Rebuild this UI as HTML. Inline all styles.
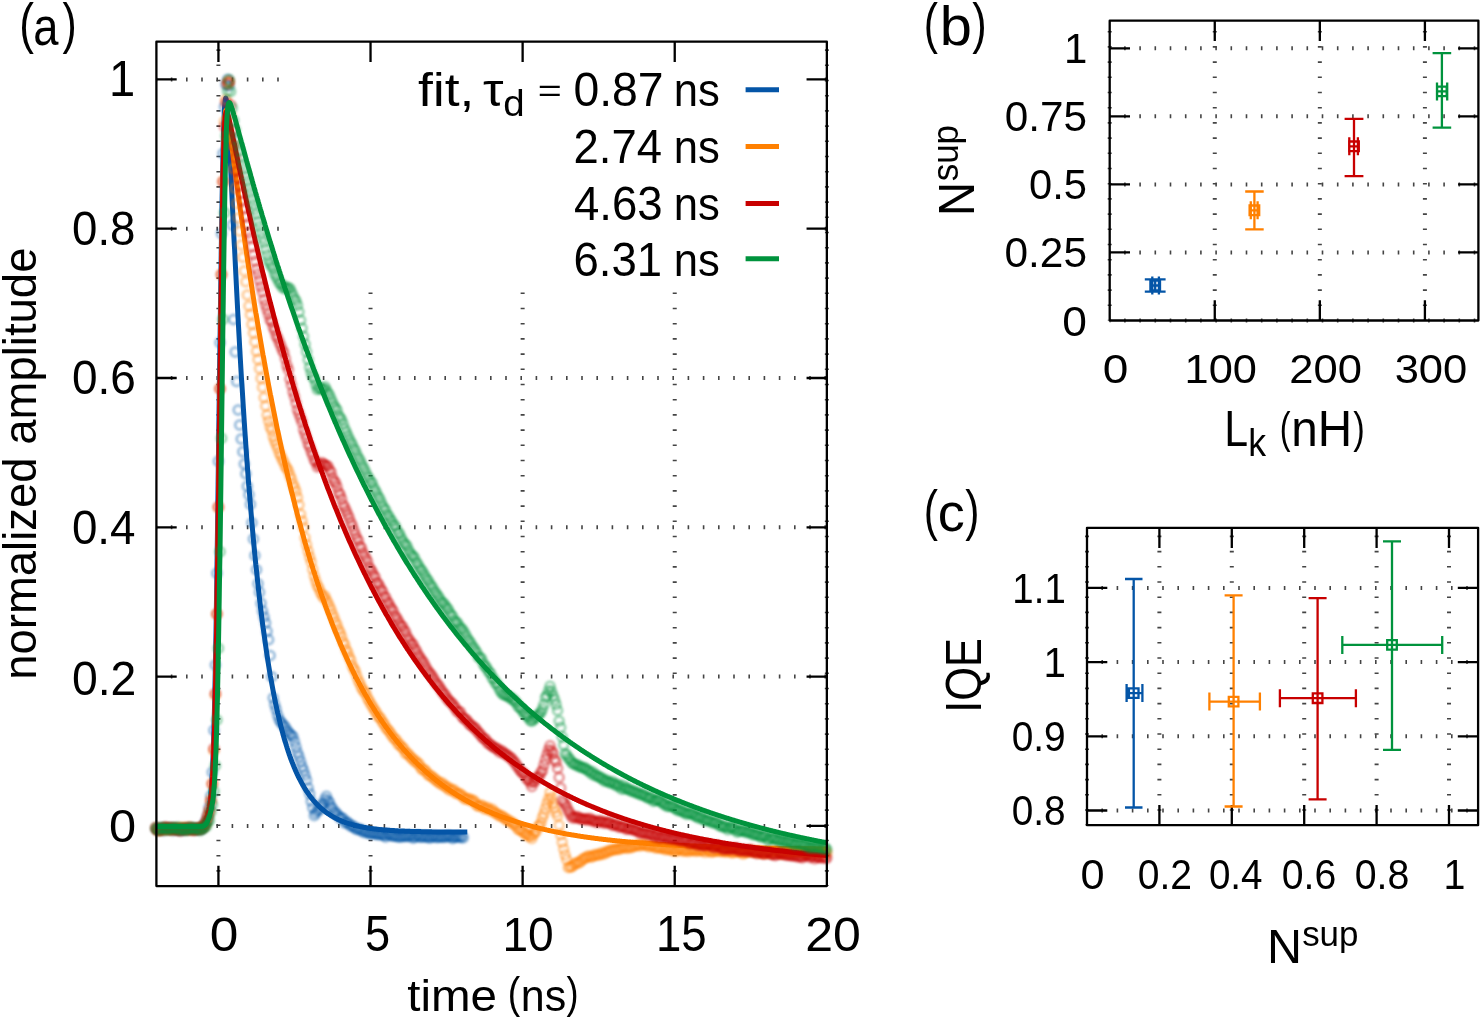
<!DOCTYPE html><html><head><meta charset="utf-8"><style>html,body{margin:0;padding:0;background:#fff}svg{display:block;will-change:transform}</style></head><body><svg width="1482" height="1022" viewBox="0 0 1482 1022">
<style>text{font-family:"Liberation Sans",sans-serif;fill:#000;font-kerning:none}.fr{fill:none;stroke:#000;stroke-width:2.3;stroke-linejoin:round}.tk{fill:none;stroke:#000;stroke-width:2.3}.gh{stroke:#444;stroke-width:4;stroke-dasharray:1.6 13.6;fill:none}.gv{stroke:#444;stroke-width:4;stroke-dasharray:1.6 13.6;fill:none}</style>
<rect width="1482" height="1022" fill="#fff"/>
<line x1="156.4" y1="825.9" x2="826.85" y2="825.9" class="gh" stroke-dashoffset="0.8"/>
<line x1="156.4" y1="676.6" x2="826.85" y2="676.6" class="gh" stroke-dashoffset="0.8"/>
<line x1="156.4" y1="527.3" x2="826.85" y2="527.3" class="gh" stroke-dashoffset="0.8"/>
<line x1="156.4" y1="378" x2="826.85" y2="378" class="gh" stroke-dashoffset="0.8"/>
<line x1="156.4" y1="228.7" x2="826.85" y2="228.7" class="gh" stroke-dashoffset="0.8"/>
<line x1="156.4" y1="79.4" x2="826.85" y2="79.4" class="gh" stroke-dashoffset="0.8"/>
<line x1="218.43" y1="886.1" x2="218.43" y2="41.7" class="gv" stroke-dashoffset="0.8"/>
<line x1="370.53" y1="886.1" x2="370.53" y2="41.7" class="gv" stroke-dashoffset="0.8"/>
<line x1="522.63" y1="886.1" x2="522.63" y2="41.7" class="gv" stroke-dashoffset="0.8"/>
<line x1="674.73" y1="886.1" x2="674.73" y2="41.7" class="gv" stroke-dashoffset="0.8"/>
<line x1="826.83" y1="886.1" x2="826.83" y2="41.7" class="gv" stroke-dashoffset="0.8"/>
<rect x="286" y="41.7" width="538.65" height="244.3" fill="#fff"/>
<path d="M218.43 886.1v-20.3M218.43 41.7v20.3" class="tk"/>
<path d="M370.53 886.1v-20.3M370.53 41.7v20.3" class="tk"/>
<path d="M522.63 886.1v-20.3M522.63 41.7v20.3" class="tk"/>
<path d="M674.73 886.1v-20.3M674.73 41.7v20.3" class="tk"/>
<path d="M156.4 825.9h20.3M826.85 825.9h-20.3" class="tk"/>
<path d="M156.4 676.6h20.3M826.85 676.6h-20.3" class="tk"/>
<path d="M156.4 527.3h20.3M826.85 527.3h-20.3" class="tk"/>
<path d="M156.4 378h20.3M826.85 378h-20.3" class="tk"/>
<path d="M156.4 228.7h20.3M826.85 228.7h-20.3" class="tk"/>
<path d="M156.4 79.4h20.3M826.85 79.4h-20.3" class="tk"/>
<defs><filter id="bl" x="-5%" y="-5%" width="110%" height="110%"><feGaussianBlur stdDeviation="0.8"/></filter></defs>
<g fill="none" stroke="#0455a7" stroke-opacity="0.36" stroke-width="3" filter="url(#bl)">
<circle cx="156.1" cy="827.7" r="4.5"/><circle cx="157.6" cy="829.3" r="4.5"/><circle cx="159.1" cy="829.3" r="4.5"/><circle cx="160.6" cy="829.7" r="4.5"/><circle cx="162.2" cy="828.2" r="4.5"/><circle cx="163.7" cy="830.6" r="4.5"/><circle cx="165.2" cy="827.6" r="4.5"/><circle cx="166.7" cy="829.5" r="4.5"/><circle cx="168.2" cy="828.6" r="4.5"/><circle cx="169.8" cy="829.1" r="4.5"/><circle cx="171.3" cy="827.8" r="4.5"/><circle cx="172.8" cy="830.4" r="4.5"/><circle cx="174.3" cy="829.1" r="4.5"/><circle cx="175.8" cy="829.2" r="4.5"/><circle cx="177.4" cy="828.0" r="4.5"/><circle cx="178.9" cy="829.7" r="4.5"/><circle cx="180.4" cy="829.0" r="4.5"/><circle cx="181.9" cy="829.5" r="4.5"/><circle cx="183.4" cy="828.9" r="4.5"/><circle cx="185.0" cy="828.5" r="4.5"/><circle cx="186.5" cy="829.7" r="4.5"/><circle cx="188.0" cy="828.0" r="4.5"/><circle cx="189.5" cy="828.2" r="4.5"/><circle cx="191.1" cy="828.5" r="4.5"/><circle cx="192.6" cy="828.2" r="4.5"/><circle cx="194.1" cy="829.4" r="4.5"/><circle cx="195.6" cy="829.0" r="4.5"/><circle cx="197.1" cy="829.6" r="4.5"/><circle cx="198.7" cy="829.0" r="4.5"/><circle cx="200.2" cy="828.2" r="4.5"/><circle cx="201.7" cy="828.4" r="4.5"/><circle cx="203.2" cy="826.6" r="4.5"/><circle cx="204.7" cy="824.1" r="4.5"/><circle cx="206.3" cy="820.4" r="4.5"/><circle cx="207.8" cy="815.0" r="4.5"/><circle cx="209.3" cy="807.2" r="4.5"/><circle cx="210.8" cy="795.9" r="4.5"/><circle cx="212.3" cy="772.2" r="4.5"/><circle cx="213.9" cy="730.2" r="4.5"/><circle cx="215.4" cy="665.0" r="4.5"/><circle cx="216.9" cy="573.3" r="4.5"/><circle cx="218.4" cy="461.2" r="4.5"/><circle cx="220.0" cy="342.8" r="4.5"/><circle cx="221.5" cy="233.6" r="4.5"/><circle cx="223.0" cy="153.5" r="4.5"/><circle cx="224.5" cy="106.9" r="4.5"/><circle cx="226.0" cy="84.5" r="4.5"/><circle cx="227.6" cy="79.4" r="4.5"/><circle cx="229.1" cy="85.8" r="4.5"/><circle cx="230.6" cy="138.0" r="4.5"/><circle cx="232.1" cy="225.1" r="4.5"/><circle cx="233.6" cy="319.6" r="4.5"/><circle cx="235.2" cy="351.9" r="4.5"/><circle cx="236.7" cy="381.4" r="4.5"/><circle cx="238.2" cy="410.0" r="4.5"/><circle cx="239.7" cy="425.0" r="4.5"/><circle cx="241.2" cy="439.0" r="4.5"/><circle cx="242.8" cy="451.8" r="4.5"/><circle cx="244.3" cy="463.9" r="4.5"/><circle cx="245.8" cy="473.8" r="4.5"/><circle cx="247.3" cy="486.2" r="4.5"/><circle cx="248.9" cy="494.7" r="4.5"/><circle cx="250.4" cy="504.2" r="4.5"/><circle cx="251.9" cy="522.7" r="4.5"/><circle cx="253.4" cy="539.0" r="4.5"/><circle cx="254.9" cy="555.5" r="4.5"/><circle cx="256.5" cy="569.7" r="4.5"/><circle cx="258.0" cy="583.7" r="4.5"/><circle cx="259.5" cy="592.2" r="4.5"/><circle cx="261.0" cy="603.2" r="4.5"/><circle cx="262.5" cy="610.9" r="4.5"/><circle cx="264.1" cy="617.1" r="4.5"/><circle cx="265.6" cy="622.9" r="4.5"/><circle cx="267.1" cy="631.2" r="4.5"/><circle cx="268.6" cy="639.8" r="4.5"/><circle cx="270.1" cy="655.4" r="4.5"/><circle cx="271.7" cy="676.8" r="4.5"/><circle cx="273.2" cy="698.1" r="4.5"/><circle cx="274.7" cy="704.4" r="4.5"/><circle cx="276.2" cy="709.4" r="4.5"/><circle cx="277.7" cy="715.2" r="4.5"/><circle cx="279.3" cy="719.8" r="4.5"/><circle cx="280.8" cy="721.9" r="4.5"/><circle cx="282.3" cy="723.8" r="4.5"/><circle cx="283.8" cy="725.8" r="4.5"/><circle cx="285.4" cy="727.3" r="4.5"/><circle cx="286.9" cy="730.5" r="4.5"/><circle cx="288.4" cy="732.0" r="4.5"/><circle cx="289.9" cy="734.2" r="4.5"/><circle cx="291.4" cy="735.3" r="4.5"/><circle cx="293.0" cy="736.8" r="4.5"/><circle cx="294.5" cy="741.4" r="4.5"/><circle cx="296.0" cy="747.1" r="4.5"/><circle cx="297.5" cy="752.4" r="4.5"/><circle cx="299.0" cy="756.5" r="4.5"/><circle cx="300.6" cy="761.5" r="4.5"/><circle cx="302.1" cy="766.4" r="4.5"/><circle cx="303.6" cy="770.5" r="4.5"/><circle cx="305.1" cy="775.3" r="4.5"/><circle cx="306.6" cy="780.3" r="4.5"/><circle cx="308.2" cy="788.1" r="4.5"/><circle cx="309.7" cy="793.8" r="4.5"/><circle cx="311.2" cy="801.2" r="4.5"/><circle cx="312.7" cy="807.8" r="4.5"/><circle cx="314.3" cy="815.6" r="4.5"/><circle cx="315.8" cy="813.0" r="4.5"/><circle cx="317.3" cy="810.8" r="4.5"/><circle cx="318.8" cy="810.2" r="4.5"/><circle cx="320.3" cy="807.8" r="4.5"/><circle cx="321.9" cy="805.0" r="4.5"/><circle cx="323.4" cy="803.4" r="4.5"/><circle cx="324.9" cy="799.4" r="4.5"/><circle cx="326.4" cy="796.2" r="4.5"/><circle cx="327.9" cy="800.5" r="4.5"/><circle cx="329.5" cy="802.6" r="4.5"/><circle cx="331.0" cy="806.7" r="4.5"/><circle cx="332.5" cy="808.6" r="4.5"/><circle cx="334.0" cy="812.6" r="4.5"/><circle cx="335.5" cy="812.1" r="4.5"/><circle cx="337.1" cy="814.2" r="4.5"/><circle cx="338.6" cy="816.0" r="4.5"/><circle cx="340.1" cy="818.0" r="4.5"/><circle cx="341.6" cy="817.8" r="4.5"/><circle cx="343.2" cy="818.7" r="4.5"/><circle cx="344.7" cy="822.9" r="4.5"/><circle cx="346.2" cy="821.8" r="4.5"/><circle cx="347.7" cy="822.4" r="4.5"/><circle cx="349.2" cy="824.3" r="4.5"/><circle cx="350.8" cy="826.3" r="4.5"/><circle cx="352.3" cy="825.5" r="4.5"/><circle cx="353.8" cy="827.1" r="4.5"/><circle cx="355.3" cy="828.2" r="4.5"/><circle cx="356.8" cy="829.4" r="4.5"/><circle cx="358.4" cy="828.8" r="4.5"/><circle cx="359.9" cy="829.2" r="4.5"/><circle cx="361.4" cy="830.9" r="4.5"/><circle cx="362.9" cy="830.6" r="4.5"/><circle cx="364.4" cy="832.4" r="4.5"/><circle cx="366.0" cy="831.5" r="4.5"/><circle cx="367.5" cy="832.6" r="4.5"/><circle cx="369.0" cy="833.3" r="4.5"/><circle cx="370.5" cy="833.7" r="4.5"/><circle cx="372.1" cy="833.2" r="4.5"/><circle cx="373.6" cy="833.5" r="4.5"/><circle cx="375.1" cy="833.8" r="4.5"/><circle cx="376.6" cy="834.3" r="4.5"/><circle cx="378.1" cy="834.5" r="4.5"/><circle cx="379.7" cy="834.3" r="4.5"/><circle cx="381.2" cy="834.7" r="4.5"/><circle cx="382.7" cy="834.5" r="4.5"/><circle cx="384.2" cy="835.4" r="4.5"/><circle cx="385.7" cy="837.1" r="4.5"/><circle cx="387.3" cy="834.6" r="4.5"/><circle cx="388.8" cy="833.9" r="4.5"/><circle cx="390.3" cy="835.3" r="4.5"/><circle cx="391.8" cy="835.8" r="4.5"/><circle cx="393.3" cy="835.9" r="4.5"/><circle cx="394.9" cy="836.0" r="4.5"/><circle cx="396.4" cy="836.0" r="4.5"/><circle cx="397.9" cy="836.9" r="4.5"/><circle cx="399.4" cy="836.5" r="4.5"/><circle cx="401.0" cy="837.0" r="4.5"/><circle cx="402.5" cy="836.1" r="4.5"/><circle cx="404.0" cy="836.6" r="4.5"/><circle cx="405.5" cy="836.0" r="4.5"/><circle cx="407.0" cy="836.6" r="4.5"/><circle cx="408.6" cy="835.8" r="4.5"/><circle cx="410.1" cy="836.4" r="4.5"/><circle cx="411.6" cy="835.0" r="4.5"/><circle cx="413.1" cy="838.1" r="4.5"/><circle cx="414.6" cy="837.2" r="4.5"/><circle cx="416.2" cy="836.1" r="4.5"/><circle cx="417.7" cy="834.9" r="4.5"/><circle cx="419.2" cy="837.0" r="4.5"/><circle cx="420.7" cy="836.8" r="4.5"/><circle cx="422.2" cy="837.1" r="4.5"/><circle cx="423.8" cy="835.9" r="4.5"/><circle cx="425.3" cy="837.2" r="4.5"/><circle cx="426.8" cy="836.5" r="4.5"/><circle cx="428.3" cy="837.3" r="4.5"/><circle cx="429.8" cy="838.0" r="4.5"/><circle cx="431.4" cy="836.8" r="4.5"/><circle cx="432.9" cy="836.7" r="4.5"/><circle cx="434.4" cy="836.1" r="4.5"/><circle cx="435.9" cy="837.2" r="4.5"/><circle cx="437.5" cy="837.6" r="4.5"/><circle cx="439.0" cy="836.7" r="4.5"/><circle cx="440.5" cy="837.0" r="4.5"/><circle cx="442.0" cy="837.0" r="4.5"/><circle cx="443.5" cy="837.3" r="4.5"/><circle cx="445.1" cy="836.4" r="4.5"/><circle cx="446.6" cy="837.0" r="4.5"/><circle cx="448.1" cy="835.8" r="4.5"/><circle cx="449.6" cy="836.4" r="4.5"/><circle cx="451.1" cy="836.8" r="4.5"/><circle cx="452.7" cy="838.5" r="4.5"/><circle cx="454.2" cy="836.9" r="4.5"/><circle cx="455.7" cy="837.0" r="4.5"/><circle cx="457.2" cy="836.7" r="4.5"/><circle cx="458.7" cy="836.5" r="4.5"/><circle cx="460.3" cy="837.6" r="4.5"/><circle cx="461.8" cy="836.7" r="4.5"/><circle cx="463.3" cy="837.8" r="4.5"/>
</g>
<path d="M156.1 826.6 156.4 826.6 156.7 826.6 157.0 826.6 157.3 826.6 157.6 826.6 157.9 826.6 158.2 826.6 158.5 826.6 158.8 826.6 159.1 826.6 159.4 826.6 159.7 826.6 160.0 826.6 160.3 826.6 160.6 826.6 160.9 826.6 161.2 826.6 161.5 826.6 161.8 826.6 162.2 826.6 162.5 826.6 162.8 826.6 163.1 826.6 163.4 826.6 163.7 826.6 164.0 826.6 164.3 826.6 164.6 826.6 164.9 826.6 165.2 826.6 165.5 826.6 165.8 826.6 166.1 826.6 166.4 826.6 166.7 826.6 167.0 826.6 167.3 826.6 167.6 826.6 167.9 826.6 168.2 826.6 168.5 826.6 168.8 826.6 169.1 826.6 169.5 826.6 169.8 826.6 170.1 826.6 170.4 826.6 170.7 826.6 171.0 826.6 171.3 826.6 171.6 826.6 171.9 826.6 172.2 826.6 172.5 826.6 172.8 826.6 173.1 826.6 173.4 826.6 173.7 826.6 174.0 826.6 174.3 826.6 174.6 826.6 174.9 826.6 175.2 826.6 175.5 826.6 175.8 826.6 176.1 826.6 176.5 826.6 176.8 826.6 177.1 826.6 177.4 826.6 177.7 826.6 178.0 826.6 178.3 826.6 178.6 826.6 178.9 826.6 179.2 826.6 179.5 826.6 179.8 826.6 180.1 826.6 180.4 826.6 180.7 826.6 181.0 826.6 181.3 826.6 181.6 826.6 181.9 826.6 182.2 826.6 182.5 826.6 182.8 826.6 183.1 826.6 183.4 826.6 183.8 826.6 184.1 826.6 184.4 826.6 184.7 826.6 185.0 826.6 185.3 826.6 185.6 826.6 185.9 826.6 186.2 826.6 186.5 826.6 186.8 826.6 187.1 826.6 187.4 826.6 187.7 826.6 188.0 826.6 188.3 826.6 188.6 826.6 188.9 826.6 189.2 826.6 189.5 826.6 189.8 826.6 190.1 826.6 190.4 826.6 190.7 826.6 191.1 826.6 191.4 826.6 191.7 826.6 192.0 826.6 192.3 826.6 192.6 826.6 192.9 826.6 193.2 826.6 193.5 826.6 193.8 826.6 194.1 826.6 194.4 826.6 194.7 826.6 195.0 826.6 195.3 826.6 195.6 826.6 195.9 826.6 196.2 826.6 196.5 826.6 196.8 826.6 197.1 826.6 197.4 826.6 197.7 826.6 198.0 826.6 198.4 826.6 198.7 826.6 199.0 826.5 199.3 826.5 199.6 826.4 199.9 826.4 200.2 826.3 200.5 826.2 200.8 826.1 201.1 826.0 201.4 825.8 201.7 825.6 202.0 825.4 202.3 825.1 202.6 824.8 202.9 824.5 203.2 824.1 203.5 823.6 203.8 823.2 204.1 822.6 204.4 822.0 204.7 821.4 205.0 820.7 205.3 820.0 205.7 819.2 206.0 818.4 206.3 817.5 206.6 816.6 206.9 815.7 207.2 814.7 207.5 813.6 207.8 812.5 208.1 811.3 208.4 810.1 208.7 808.7 209.0 807.2 209.3 805.5 209.6 803.7 209.9 801.7 210.2 799.3 210.5 796.7 210.8 793.7 211.1 790.3 211.4 786.4 211.7 782.0 212.0 777.0 212.3 771.3 212.7 764.9 213.0 757.6 213.3 749.6 213.6 740.6 213.9 730.6 214.2 719.6 214.5 707.6 214.8 694.5 215.1 680.3 215.4 665.0 215.7 648.6 216.0 631.2 216.3 612.7 216.6 593.2 216.9 572.9 217.2 551.6 217.5 529.7 217.8 507.1 218.1 484.0 218.4 460.6 218.7 436.9 219.0 413.0 219.3 389.2 219.6 365.5 220.0 342.2 220.3 319.3 220.6 297.0 220.9 275.4 221.2 254.7 221.5 234.8 221.8 216.1 222.1 198.5 222.4 182.2 222.7 167.2 223.0 153.6 223.3 141.6 223.6 131.0 223.9 122.0 224.2 114.4 224.5 108.4 224.8 103.9 225.1 100.7 225.4 98.8 225.7 98.0 226.0 98.4 226.3 99.6 226.6 101.7 226.9 104.5 227.3 107.9 227.6 111.9 227.9 116.3 228.2 121.1 228.5 126.2 228.8 131.6 229.1 137.1 229.4 142.9 229.7 148.8 230.0 154.9 230.3 161.0 230.6 167.2 230.9 173.4 231.2 179.8 231.5 186.1 231.8 192.4 232.1 198.8 232.4 205.2 232.7 211.5 233.0 217.9 233.3 224.2 233.6 230.5 233.9 236.8 234.2 243.0 234.6 249.2 234.9 255.4 235.2 261.5 235.5 267.6 235.8 273.7 236.1 279.7 236.4 285.6 236.7 291.5 237.0 297.4 237.3 303.2 237.6 308.9 237.9 314.7 238.2 320.3 238.5 325.9 238.8 331.5 239.1 336.9 239.4 342.4 239.7 347.8 240.0 353.1 240.3 358.4 240.6 363.6 240.9 368.8 241.2 373.9 241.5 379.0 241.9 384.0 242.2 389.0 242.5 393.9 242.8 398.7 243.1 403.6 243.4 408.3 243.7 413.0 244.0 417.7 244.3 422.3 244.6 426.8 244.9 431.4 245.2 435.8 245.5 440.2 245.8 444.6 246.1 448.9 246.4 453.2 246.7 457.4 247.0 461.6 247.3 465.7 247.6 469.8 247.9 473.8 248.2 477.8 248.5 481.8 248.8 485.7 249.2 489.6 249.5 493.4 249.8 497.2 250.1 500.9 250.4 504.6 250.7 508.3 251.0 511.9 251.3 515.4 251.6 519.0 251.9 522.5 252.2 525.9 252.5 529.4 252.8 532.7 253.1 536.1 253.4 539.4 253.7 542.7 254.0 545.9 254.3 549.1 254.6 552.3 254.9 555.4 255.2 558.5 255.5 561.5 255.8 564.6 256.2 567.6 256.5 570.5 256.8 573.4 257.1 576.3 257.4 579.2 257.7 582.0 258.0 584.8 258.3 587.6 258.6 590.3 258.9 593.0 259.2 595.7 259.5 598.3 259.8 601.0 260.1 603.5 260.4 606.1 260.7 608.6 261.0 611.1 261.3 613.6 261.6 616.0 261.9 618.5 262.2 620.9 262.5 623.2 262.8 625.6 263.1 627.9 263.5 630.2 263.8 632.4 264.1 634.6 264.4 636.9 264.7 639.0 265.0 641.2 265.3 643.3 265.6 645.5 265.9 647.5 266.2 649.6 266.5 651.6 266.8 653.7 267.1 655.7 267.4 657.6 267.7 659.6 268.0 661.5 268.3 663.4 268.6 665.3 268.9 667.2 269.2 669.0 269.5 670.9 269.8 672.7 270.1 674.4 270.4 676.2 270.8 678.0 271.1 679.7 271.4 681.4 271.7 683.1 272.0 684.7 272.3 686.4 272.6 688.0 272.9 689.6 273.2 691.2 273.5 692.8 273.8 694.4 274.1 695.9 274.4 697.4 274.7 698.9 275.0 700.4 275.3 701.9 275.6 703.4 275.9 704.8 276.2 706.2 276.5 707.6 276.8 709.0 277.1 710.4 277.4 711.8 277.7 713.1 278.1 714.5 278.4 715.8 278.7 717.1 279.0 718.4 279.3 719.6 279.6 720.9 279.9 722.1 280.2 723.4 280.5 724.6 280.8 725.8 281.1 727.0 281.4 728.2 281.7 729.3 282.0 730.5 282.3 731.6 282.6 732.7 282.9 733.9 283.2 735.0 283.5 736.0 283.8 737.1 284.1 738.2 284.4 739.2 284.7 740.3 285.0 741.3 285.4 742.3 285.7 743.3 286.0 744.3 286.3 745.3 286.6 746.3 286.9 747.2 287.2 748.2 287.5 749.1 287.8 750.1 288.1 751.0 288.4 751.9 288.7 752.8 289.0 753.7 289.3 754.6 289.6 755.4 289.9 756.3 290.2 757.1 290.5 758.0 290.8 758.8 291.1 759.6 291.4 760.4 291.7 761.2 292.0 762.0 292.4 762.8 292.7 763.6 293.0 764.4 293.3 765.1 293.6 765.9 293.9 766.6 294.2 767.4 294.5 768.1 294.8 768.8 295.1 769.5 295.4 770.2 295.7 770.9 296.0 771.6 296.3 772.3 296.6 772.9 296.9 773.6 297.2 774.3 297.5 774.9 297.8 775.5 298.1 776.2 298.4 776.8 298.7 777.4 299.0 778.0 299.3 778.6 299.7 779.2 300.0 779.8 300.3 780.4 300.6 781.0 300.9 781.6 301.2 782.1 301.5 782.7 301.8 783.3 302.1 783.8 302.4 784.4 302.7 784.9 303.0 785.4 303.3 785.9 303.6 786.5 303.9 787.0 304.2 787.5 304.5 788.0 304.8 788.5 305.1 789.0 305.4 789.4 305.7 789.9 306.0 790.4 306.3 790.9 306.6 791.3 307.0 791.8 307.3 792.2 307.6 792.7 307.9 793.1 308.2 793.6 308.5 794.0 308.8 794.4 309.1 794.9 309.4 795.3 309.7 795.7 310.0 796.1 310.3 796.5 310.6 796.9 310.9 797.3 311.2 797.7 311.5 798.1 311.8 798.5 312.1 798.8 312.4 799.2 312.7 799.6 313.0 799.9 313.3 800.3 313.6 800.7 313.9 801.0 314.3 801.4 314.6 801.7 314.9 802.0 315.2 802.4 315.5 802.7 315.8 803.1 316.1 803.4 316.4 803.7 316.7 804.0 317.0 804.3 317.3 804.6 317.6 805.0 317.9 805.3 318.2 805.6 318.5 805.9 318.8 806.2 319.1 806.4 319.4 806.7 319.7 807.0 320.0 807.3 320.3 807.6 320.6 807.9 320.9 808.1 321.2 808.4 321.6 808.7 321.9 808.9 322.2 809.2 322.5 809.5 322.8 809.7 323.1 810.0 323.4 810.2 323.7 810.5 324.0 810.7 324.3 810.9 324.6 811.2 324.9 811.4 325.2 811.6 325.5 811.9 325.8 812.1 326.1 812.3 326.4 812.6 326.7 812.8 327.0 813.0 327.3 813.2 327.6 813.4 327.9 813.6 328.2 813.8 328.6 814.0 328.9 814.2 329.2 814.4 329.5 814.6 329.8 814.8 330.1 815.0 330.4 815.2 330.7 815.4 331.0 815.6 331.3 815.8 331.6 816.0 331.9 816.2 332.2 816.3 332.5 816.5 332.8 816.7 333.1 816.9 333.4 817.0 333.7 817.2 334.0 817.4 334.3 817.5 334.6 817.7 334.9 817.9 335.2 818.0 335.5 818.2 335.9 818.4 336.2 818.5 336.5 818.7 336.8 818.8 337.1 819.0 337.4 819.1 337.7 819.3 338.0 819.4 338.3 819.5 338.6 819.7 338.9 819.8 339.2 820.0 339.5 820.1 339.8 820.2 340.1 820.4 340.4 820.5 340.7 820.6 341.0 820.8 341.3 820.9 341.6 821.0 341.9 821.2 342.2 821.3 342.5 821.4 342.8 821.5 343.2 821.6 343.5 821.8 343.8 821.9 344.1 822.0 344.4 822.1 344.7 822.2 345.0 822.3 345.3 822.4 345.6 822.6 345.9 822.7 346.2 822.8 346.5 822.9 346.8 823.0 347.1 823.1 347.4 823.2 347.7 823.3 348.0 823.4 348.3 823.5 348.6 823.6 348.9 823.7 349.2 823.8 349.5 823.9 349.8 824.0 350.1 824.1 350.5 824.1 350.8 824.2 351.1 824.3 351.4 824.4 351.7 824.5 352.0 824.6 352.3 824.7 352.6 824.8 352.9 824.8 353.2 824.9 353.5 825.0 353.8 825.1 354.1 825.2 354.4 825.3 354.7 825.3 355.0 825.4 355.3 825.5 355.6 825.6 355.9 825.6 356.2 825.7 356.5 825.8 356.8 825.9 357.1 825.9 357.4 826.0 357.8 826.1 358.1 826.1 358.4 826.2 358.7 826.3 359.0 826.3 359.3 826.4 359.6 826.5 359.9 826.5 360.2 826.6 360.5 826.7 360.8 826.7 361.1 826.8 361.4 826.8 361.7 826.9 362.0 827.0 362.3 827.0 362.6 827.1 362.9 827.1 363.2 827.2 363.5 827.3 363.8 827.3 364.1 827.4 364.4 827.4 364.8 827.5 365.1 827.5 365.4 827.6 365.7 827.6 366.0 827.7 366.3 827.7 366.6 827.8 366.9 827.8 367.2 827.9 367.5 827.9 367.8 828.0 368.1 828.0 368.4 828.1 368.7 828.1 369.0 828.2 369.3 828.2 369.6 828.3 369.9 828.3 370.2 828.4 370.5 828.4 370.8 828.4 371.1 828.5 371.4 828.5 371.7 828.6 372.1 828.6 372.4 828.6 372.7 828.7 373.0 828.7 373.3 828.8 373.6 828.8 373.9 828.8 374.2 828.9 374.5 828.9 374.8 829.0 375.1 829.0 375.4 829.0 375.7 829.1 376.0 829.1 376.3 829.1 376.6 829.2 376.9 829.2 377.2 829.2 377.5 829.3 377.8 829.3 378.1 829.3 378.4 829.4 378.7 829.4 379.0 829.4 379.4 829.5 379.7 829.5 380.0 829.5 380.3 829.6 380.6 829.6 380.9 829.6 381.2 829.6 381.5 829.7 381.8 829.7 382.1 829.7 382.4 829.8 382.7 829.8 383.0 829.8 383.3 829.8 383.6 829.9 383.9 829.9 384.2 829.9 384.5 830.0 384.8 830.0 385.1 830.0 385.4 830.0 385.7 830.1 386.0 830.1 386.3 830.1 386.7 830.1 387.0 830.1 387.3 830.2 387.6 830.2 387.9 830.2 388.2 830.2 388.5 830.3 388.8 830.3 389.1 830.3 389.4 830.3 389.7 830.4 390.0 830.4 390.3 830.4 390.6 830.4 390.9 830.4 391.2 830.5 391.5 830.5 391.8 830.5 392.1 830.5 392.4 830.5 392.7 830.6 393.0 830.6 393.3 830.6 393.6 830.6 394.0 830.6 394.3 830.6 394.6 830.7 394.9 830.7 395.2 830.7 395.5 830.7 395.8 830.7 396.1 830.8 396.4 830.8 396.7 830.8 397.0 830.8 397.3 830.8 397.6 830.8 397.9 830.8 398.2 830.9 398.5 830.9 398.8 830.9 399.1 830.9 399.4 830.9 399.7 830.9 400.0 831.0 400.3 831.0 400.6 831.0 400.9 831.0 401.3 831.0 401.6 831.0 401.9 831.0 402.2 831.1 402.5 831.1 402.8 831.1 403.1 831.1 403.4 831.1 403.7 831.1 404.0 831.1 404.3 831.1 404.6 831.2 404.9 831.2 405.2 831.2 405.5 831.2 405.8 831.2 406.1 831.2 406.4 831.2 406.7 831.2 407.0 831.3 407.3 831.3 407.6 831.3 407.9 831.3 408.3 831.3 408.6 831.3 408.9 831.3 409.2 831.3 409.5 831.3 409.8 831.3 410.1 831.4 410.4 831.4 410.7 831.4 411.0 831.4 411.3 831.4 411.6 831.4 411.9 831.4 412.2 831.4 412.5 831.4 412.8 831.4 413.1 831.5 413.4 831.5 413.7 831.5 414.0 831.5 414.3 831.5 414.6 831.5 414.9 831.5 415.2 831.5 415.6 831.5 415.9 831.5 416.2 831.5 416.5 831.5 416.8 831.6 417.1 831.6 417.4 831.6 417.7 831.6 418.0 831.6 418.3 831.6 418.6 831.6 418.9 831.6 419.2 831.6 419.5 831.6 419.8 831.6 420.1 831.6 420.4 831.6 420.7 831.6 421.0 831.7 421.3 831.7 421.6 831.7 421.9 831.7 422.2 831.7 422.5 831.7 422.9 831.7 423.2 831.7 423.5 831.7 423.8 831.7 424.1 831.7 424.4 831.7 424.7 831.7 425.0 831.7 425.3 831.7 425.6 831.7 425.9 831.8 426.2 831.8 426.5 831.8 426.8 831.8 427.1 831.8 427.4 831.8 427.7 831.8 428.0 831.8 428.3 831.8 428.6 831.8 428.9 831.8 429.2 831.8 429.5 831.8 429.8 831.8 430.2 831.8 430.5 831.8 430.8 831.8 431.1 831.8 431.4 831.8 431.7 831.8 432.0 831.9 432.3 831.9 432.6 831.9 432.9 831.9 433.2 831.9 433.5 831.9 433.8 831.9 434.1 831.9 434.4 831.9 434.7 831.9 435.0 831.9 435.3 831.9 435.6 831.9 435.9 831.9 436.2 831.9 436.5 831.9 436.8 831.9 437.1 831.9 437.5 831.9 437.8 831.9 438.1 831.9 438.4 831.9 438.7 831.9 439.0 831.9 439.3 831.9 439.6 831.9 439.9 832.0 440.2 832.0 440.5 832.0 440.8 832.0 441.1 832.0 441.4 832.0 441.7 832.0 442.0 832.0 442.3 832.0 442.6 832.0 442.9 832.0 443.2 832.0 443.5 832.0 443.8 832.0 444.1 832.0 444.5 832.0 444.8 832.0 445.1 832.0 445.4 832.0 445.7 832.0 446.0 832.0 446.3 832.0 446.6 832.0 446.9 832.0 447.2 832.0 447.5 832.0 447.8 832.0 448.1 832.0 448.4 832.0 448.7 832.0 449.0 832.0 449.3 832.0 449.6 832.0 449.9 832.0 450.2 832.0 450.5 832.0 450.8 832.1 451.1 832.1 451.4 832.1 451.8 832.1 452.1 832.1 452.4 832.1 452.7 832.1 453.0 832.1 453.3 832.1 453.6 832.1 453.9 832.1 454.2 832.1 454.5 832.1 454.8 832.1 455.1 832.1 455.4 832.1 455.7 832.1 456.0 832.1 456.3 832.1 456.6 832.1 456.9 832.1 457.2 832.1 457.5 832.1 457.8 832.1 458.1 832.1 458.4 832.1 458.7 832.1 459.1 832.1 459.4 832.1 459.7 832.1 460.0 832.1 460.3 832.1 460.6 832.1 460.9 832.1 461.2 832.1 461.5 832.1 461.8 832.1 462.1 832.1 462.4 832.1 462.7 832.1 463.0 832.1 463.3 832.1 463.6 832.1 463.9 832.1 464.2 832.1 464.5 832.1 464.8 832.1 465.1 832.1 465.4 832.1 465.7 832.1 466.0 832.1 466.4 832.1 466.7 832.1 467.0 832.1 467.3 832.1" fill="none" stroke="#0455a7" stroke-width="5.0" stroke-linejoin="round"/>
<g fill="none" stroke="#ff8000" stroke-opacity="0.36" stroke-width="3" filter="url(#bl)">
<circle cx="156.1" cy="827.4" r="4.5"/><circle cx="157.6" cy="829.9" r="4.5"/><circle cx="159.1" cy="830.2" r="4.5"/><circle cx="160.6" cy="830.1" r="4.5"/><circle cx="162.2" cy="829.6" r="4.5"/><circle cx="163.7" cy="829.7" r="4.5"/><circle cx="165.2" cy="827.4" r="4.5"/><circle cx="166.7" cy="829.1" r="4.5"/><circle cx="168.2" cy="829.9" r="4.5"/><circle cx="169.8" cy="828.1" r="4.5"/><circle cx="171.3" cy="829.3" r="4.5"/><circle cx="172.8" cy="829.8" r="4.5"/><circle cx="174.3" cy="828.2" r="4.5"/><circle cx="175.8" cy="828.4" r="4.5"/><circle cx="177.4" cy="829.2" r="4.5"/><circle cx="178.9" cy="827.8" r="4.5"/><circle cx="180.4" cy="828.8" r="4.5"/><circle cx="181.9" cy="827.7" r="4.5"/><circle cx="183.4" cy="828.5" r="4.5"/><circle cx="185.0" cy="827.7" r="4.5"/><circle cx="186.5" cy="828.8" r="4.5"/><circle cx="188.0" cy="829.8" r="4.5"/><circle cx="189.5" cy="827.1" r="4.5"/><circle cx="191.1" cy="829.3" r="4.5"/><circle cx="192.6" cy="829.0" r="4.5"/><circle cx="194.1" cy="829.4" r="4.5"/><circle cx="195.6" cy="829.0" r="4.5"/><circle cx="197.1" cy="828.7" r="4.5"/><circle cx="198.7" cy="828.7" r="4.5"/><circle cx="200.2" cy="828.2" r="4.5"/><circle cx="201.7" cy="826.9" r="4.5"/><circle cx="203.2" cy="827.2" r="4.5"/><circle cx="204.7" cy="825.8" r="4.5"/><circle cx="206.3" cy="822.3" r="4.5"/><circle cx="207.8" cy="817.1" r="4.5"/><circle cx="209.3" cy="811.6" r="4.5"/><circle cx="210.8" cy="800.1" r="4.5"/><circle cx="212.3" cy="783.5" r="4.5"/><circle cx="213.9" cy="750.6" r="4.5"/><circle cx="215.4" cy="695.1" r="4.5"/><circle cx="216.9" cy="614.0" r="4.5"/><circle cx="218.4" cy="507.8" r="4.5"/><circle cx="220.0" cy="388.6" r="4.5"/><circle cx="221.5" cy="274.6" r="4.5"/><circle cx="223.0" cy="181.3" r="4.5"/><circle cx="224.5" cy="121.6" r="4.5"/><circle cx="226.0" cy="99.7" r="4.5"/><circle cx="227.6" cy="81.9" r="4.5"/><circle cx="229.1" cy="82.5" r="4.5"/><circle cx="230.6" cy="114.5" r="4.5"/><circle cx="232.1" cy="144.5" r="4.5"/><circle cx="233.6" cy="168.8" r="4.5"/><circle cx="235.2" cy="188.2" r="4.5"/><circle cx="236.7" cy="203.6" r="4.5"/><circle cx="238.2" cy="218.0" r="4.5"/><circle cx="239.7" cy="231.2" r="4.5"/><circle cx="241.2" cy="245.0" r="4.5"/><circle cx="242.8" cy="257.2" r="4.5"/><circle cx="244.3" cy="271.1" r="4.5"/><circle cx="245.8" cy="281.8" r="4.5"/><circle cx="247.3" cy="295.0" r="4.5"/><circle cx="248.9" cy="306.1" r="4.5"/><circle cx="250.4" cy="314.5" r="4.5"/><circle cx="251.9" cy="324.2" r="4.5"/><circle cx="253.4" cy="333.1" r="4.5"/><circle cx="254.9" cy="341.8" r="4.5"/><circle cx="256.5" cy="351.3" r="4.5"/><circle cx="258.0" cy="359.6" r="4.5"/><circle cx="259.5" cy="368.4" r="4.5"/><circle cx="261.0" cy="378.2" r="4.5"/><circle cx="262.5" cy="387.2" r="4.5"/><circle cx="264.1" cy="397.4" r="4.5"/><circle cx="265.6" cy="406.1" r="4.5"/><circle cx="267.1" cy="415.1" r="4.5"/><circle cx="268.6" cy="420.9" r="4.5"/><circle cx="270.1" cy="426.8" r="4.5"/><circle cx="271.7" cy="430.3" r="4.5"/><circle cx="273.2" cy="436.5" r="4.5"/><circle cx="274.7" cy="440.7" r="4.5"/><circle cx="276.2" cy="444.6" r="4.5"/><circle cx="277.7" cy="448.2" r="4.5"/><circle cx="279.3" cy="452.9" r="4.5"/><circle cx="280.8" cy="456.1" r="4.5"/><circle cx="282.3" cy="459.4" r="4.5"/><circle cx="283.8" cy="462.3" r="4.5"/><circle cx="285.4" cy="466.3" r="4.5"/><circle cx="286.9" cy="468.2" r="4.5"/><circle cx="288.4" cy="471.1" r="4.5"/><circle cx="289.9" cy="475.3" r="4.5"/><circle cx="291.4" cy="479.1" r="4.5"/><circle cx="293.0" cy="484.0" r="4.5"/><circle cx="294.5" cy="487.5" r="4.5"/><circle cx="296.0" cy="491.5" r="4.5"/><circle cx="297.5" cy="497.4" r="4.5"/><circle cx="299.0" cy="505.1" r="4.5"/><circle cx="300.6" cy="514.3" r="4.5"/><circle cx="302.1" cy="520.9" r="4.5"/><circle cx="303.6" cy="527.5" r="4.5"/><circle cx="305.1" cy="537.8" r="4.5"/><circle cx="306.6" cy="544.8" r="4.5"/><circle cx="308.2" cy="551.2" r="4.5"/><circle cx="309.7" cy="557.1" r="4.5"/><circle cx="311.2" cy="561.9" r="4.5"/><circle cx="312.7" cy="569.3" r="4.5"/><circle cx="314.3" cy="575.9" r="4.5"/><circle cx="315.8" cy="580.9" r="4.5"/><circle cx="317.3" cy="585.5" r="4.5"/><circle cx="318.8" cy="587.9" r="4.5"/><circle cx="320.3" cy="592.0" r="4.5"/><circle cx="321.9" cy="594.7" r="4.5"/><circle cx="323.4" cy="597.5" r="4.5"/><circle cx="324.9" cy="595.9" r="4.5"/><circle cx="326.4" cy="599.9" r="4.5"/><circle cx="327.9" cy="603.1" r="4.5"/><circle cx="329.5" cy="606.6" r="4.5"/><circle cx="331.0" cy="610.1" r="4.5"/><circle cx="332.5" cy="614.2" r="4.5"/><circle cx="334.0" cy="617.7" r="4.5"/><circle cx="335.5" cy="622.1" r="4.5"/><circle cx="337.1" cy="625.2" r="4.5"/><circle cx="338.6" cy="629.8" r="4.5"/><circle cx="340.1" cy="632.8" r="4.5"/><circle cx="341.6" cy="636.7" r="4.5"/><circle cx="343.2" cy="642.1" r="4.5"/><circle cx="344.7" cy="644.7" r="4.5"/><circle cx="346.2" cy="649.7" r="4.5"/><circle cx="347.7" cy="652.6" r="4.5"/><circle cx="349.2" cy="657.0" r="4.5"/><circle cx="350.8" cy="660.3" r="4.5"/><circle cx="352.3" cy="665.7" r="4.5"/><circle cx="353.8" cy="668.7" r="4.5"/><circle cx="355.3" cy="671.2" r="4.5"/><circle cx="356.8" cy="676.1" r="4.5"/><circle cx="358.4" cy="680.4" r="4.5"/><circle cx="359.9" cy="683.6" r="4.5"/><circle cx="361.4" cy="687.2" r="4.5"/><circle cx="362.9" cy="690.1" r="4.5"/><circle cx="364.4" cy="691.9" r="4.5"/><circle cx="366.0" cy="693.7" r="4.5"/><circle cx="367.5" cy="698.0" r="4.5"/><circle cx="369.0" cy="700.4" r="4.5"/><circle cx="370.5" cy="703.6" r="4.5"/><circle cx="372.1" cy="706.0" r="4.5"/><circle cx="373.6" cy="708.6" r="4.5"/><circle cx="375.1" cy="711.0" r="4.5"/><circle cx="376.6" cy="712.9" r="4.5"/><circle cx="378.1" cy="716.5" r="4.5"/><circle cx="379.7" cy="717.2" r="4.5"/><circle cx="381.2" cy="719.5" r="4.5"/><circle cx="382.7" cy="722.5" r="4.5"/><circle cx="384.2" cy="724.0" r="4.5"/><circle cx="385.7" cy="727.2" r="4.5"/><circle cx="387.3" cy="729.2" r="4.5"/><circle cx="388.8" cy="730.8" r="4.5"/><circle cx="390.3" cy="733.1" r="4.5"/><circle cx="391.8" cy="735.2" r="4.5"/><circle cx="393.3" cy="737.4" r="4.5"/><circle cx="394.9" cy="739.2" r="4.5"/><circle cx="396.4" cy="740.0" r="4.5"/><circle cx="397.9" cy="744.0" r="4.5"/><circle cx="399.4" cy="744.1" r="4.5"/><circle cx="401.0" cy="746.4" r="4.5"/><circle cx="402.5" cy="747.4" r="4.5"/><circle cx="404.0" cy="749.3" r="4.5"/><circle cx="405.5" cy="753.5" r="4.5"/><circle cx="407.0" cy="752.7" r="4.5"/><circle cx="408.6" cy="754.5" r="4.5"/><circle cx="410.1" cy="756.4" r="4.5"/><circle cx="411.6" cy="758.3" r="4.5"/><circle cx="413.1" cy="758.9" r="4.5"/><circle cx="414.6" cy="761.4" r="4.5"/><circle cx="416.2" cy="761.3" r="4.5"/><circle cx="417.7" cy="763.7" r="4.5"/><circle cx="419.2" cy="764.0" r="4.5"/><circle cx="420.7" cy="767.6" r="4.5"/><circle cx="422.2" cy="769.7" r="4.5"/><circle cx="423.8" cy="769.3" r="4.5"/><circle cx="425.3" cy="770.6" r="4.5"/><circle cx="426.8" cy="772.5" r="4.5"/><circle cx="428.3" cy="775.0" r="4.5"/><circle cx="429.8" cy="775.5" r="4.5"/><circle cx="431.4" cy="776.0" r="4.5"/><circle cx="432.9" cy="777.7" r="4.5"/><circle cx="434.4" cy="778.8" r="4.5"/><circle cx="435.9" cy="779.9" r="4.5"/><circle cx="437.5" cy="781.6" r="4.5"/><circle cx="439.0" cy="782.3" r="4.5"/><circle cx="440.5" cy="784.0" r="4.5"/><circle cx="442.0" cy="782.7" r="4.5"/><circle cx="443.5" cy="785.4" r="4.5"/><circle cx="445.1" cy="785.6" r="4.5"/><circle cx="446.6" cy="787.7" r="4.5"/><circle cx="448.1" cy="787.3" r="4.5"/><circle cx="449.6" cy="790.2" r="4.5"/><circle cx="451.1" cy="789.0" r="4.5"/><circle cx="452.7" cy="790.6" r="4.5"/><circle cx="454.2" cy="789.9" r="4.5"/><circle cx="455.7" cy="793.3" r="4.5"/><circle cx="457.2" cy="793.1" r="4.5"/><circle cx="458.7" cy="793.7" r="4.5"/><circle cx="460.3" cy="793.9" r="4.5"/><circle cx="461.8" cy="795.9" r="4.5"/><circle cx="463.3" cy="796.4" r="4.5"/><circle cx="464.8" cy="799.0" r="4.5"/><circle cx="466.4" cy="798.8" r="4.5"/><circle cx="467.9" cy="798.7" r="4.5"/><circle cx="469.4" cy="799.1" r="4.5"/><circle cx="470.9" cy="800.9" r="4.5"/><circle cx="472.4" cy="800.0" r="4.5"/><circle cx="474.0" cy="801.0" r="4.5"/><circle cx="475.5" cy="803.1" r="4.5"/><circle cx="477.0" cy="805.6" r="4.5"/><circle cx="478.5" cy="805.9" r="4.5"/><circle cx="480.0" cy="805.9" r="4.5"/><circle cx="481.6" cy="805.2" r="4.5"/><circle cx="483.1" cy="806.5" r="4.5"/><circle cx="484.6" cy="809.0" r="4.5"/><circle cx="486.1" cy="808.3" r="4.5"/><circle cx="487.6" cy="807.6" r="4.5"/><circle cx="489.2" cy="809.8" r="4.5"/><circle cx="490.7" cy="810.7" r="4.5"/><circle cx="492.2" cy="809.2" r="4.5"/><circle cx="493.7" cy="811.7" r="4.5"/><circle cx="495.3" cy="813.1" r="4.5"/><circle cx="496.8" cy="813.5" r="4.5"/><circle cx="498.3" cy="814.7" r="4.5"/><circle cx="499.8" cy="816.0" r="4.5"/><circle cx="501.3" cy="815.7" r="4.5"/><circle cx="502.9" cy="816.7" r="4.5"/><circle cx="504.4" cy="817.9" r="4.5"/><circle cx="505.9" cy="819.5" r="4.5"/><circle cx="507.4" cy="819.5" r="4.5"/><circle cx="508.9" cy="821.3" r="4.5"/><circle cx="510.5" cy="821.8" r="4.5"/><circle cx="512.0" cy="822.6" r="4.5"/><circle cx="513.5" cy="823.9" r="4.5"/><circle cx="515.0" cy="824.4" r="4.5"/><circle cx="516.5" cy="826.6" r="4.5"/><circle cx="518.1" cy="829.3" r="4.5"/><circle cx="519.6" cy="830.1" r="4.5"/><circle cx="521.1" cy="829.4" r="4.5"/><circle cx="522.6" cy="831.8" r="4.5"/><circle cx="524.2" cy="832.4" r="4.5"/><circle cx="525.7" cy="834.4" r="4.5"/><circle cx="527.2" cy="834.2" r="4.5"/><circle cx="528.7" cy="836.3" r="4.5"/><circle cx="530.2" cy="836.1" r="4.5"/><circle cx="531.8" cy="838.6" r="4.5"/><circle cx="533.3" cy="834.8" r="4.5"/><circle cx="534.8" cy="832.5" r="4.5"/><circle cx="536.3" cy="830.9" r="4.5"/><circle cx="537.8" cy="826.9" r="4.5"/><circle cx="539.4" cy="825.7" r="4.5"/><circle cx="540.9" cy="823.0" r="4.5"/><circle cx="542.4" cy="817.8" r="4.5"/><circle cx="543.9" cy="813.8" r="4.5"/><circle cx="545.4" cy="808.8" r="4.5"/><circle cx="547.0" cy="803.6" r="4.5"/><circle cx="548.5" cy="799.1" r="4.5"/><circle cx="550.0" cy="792.6" r="4.5"/><circle cx="551.5" cy="797.7" r="4.5"/><circle cx="553.1" cy="803.0" r="4.5"/><circle cx="554.6" cy="807.8" r="4.5"/><circle cx="556.1" cy="812.2" r="4.5"/><circle cx="557.6" cy="816.0" r="4.5"/><circle cx="559.1" cy="825.2" r="4.5"/><circle cx="560.7" cy="834.7" r="4.5"/><circle cx="562.2" cy="842.3" r="4.5"/><circle cx="563.7" cy="849.0" r="4.5"/><circle cx="565.2" cy="855.1" r="4.5"/><circle cx="566.7" cy="859.7" r="4.5"/><circle cx="568.3" cy="867.4" r="4.5"/><circle cx="569.8" cy="866.7" r="4.5"/><circle cx="571.3" cy="867.1" r="4.5"/><circle cx="572.8" cy="866.0" r="4.5"/><circle cx="574.3" cy="863.8" r="4.5"/><circle cx="575.9" cy="863.9" r="4.5"/><circle cx="577.4" cy="862.3" r="4.5"/><circle cx="578.9" cy="862.7" r="4.5"/><circle cx="580.4" cy="861.7" r="4.5"/><circle cx="581.9" cy="859.9" r="4.5"/><circle cx="583.5" cy="858.5" r="4.5"/><circle cx="585.0" cy="858.4" r="4.5"/><circle cx="586.5" cy="857.2" r="4.5"/><circle cx="588.0" cy="856.3" r="4.5"/><circle cx="589.6" cy="856.3" r="4.5"/><circle cx="591.1" cy="857.3" r="4.5"/><circle cx="592.6" cy="856.2" r="4.5"/><circle cx="594.1" cy="855.1" r="4.5"/><circle cx="595.6" cy="855.4" r="4.5"/><circle cx="597.2" cy="854.3" r="4.5"/><circle cx="598.7" cy="855.3" r="4.5"/><circle cx="600.2" cy="854.2" r="4.5"/><circle cx="601.7" cy="852.7" r="4.5"/><circle cx="603.2" cy="854.2" r="4.5"/><circle cx="604.8" cy="852.9" r="4.5"/><circle cx="606.3" cy="851.5" r="4.5"/><circle cx="607.8" cy="852.3" r="4.5"/><circle cx="609.3" cy="850.4" r="4.5"/><circle cx="610.8" cy="850.5" r="4.5"/><circle cx="612.4" cy="849.9" r="4.5"/><circle cx="613.9" cy="849.7" r="4.5"/><circle cx="615.4" cy="849.1" r="4.5"/><circle cx="616.9" cy="849.5" r="4.5"/><circle cx="618.5" cy="848.8" r="4.5"/><circle cx="620.0" cy="849.1" r="4.5"/><circle cx="621.5" cy="848.0" r="4.5"/><circle cx="623.0" cy="846.9" r="4.5"/><circle cx="624.5" cy="847.8" r="4.5"/><circle cx="626.1" cy="847.6" r="4.5"/><circle cx="627.6" cy="848.3" r="4.5"/><circle cx="629.1" cy="846.7" r="4.5"/><circle cx="630.6" cy="847.6" r="4.5"/><circle cx="632.1" cy="847.3" r="4.5"/><circle cx="633.7" cy="846.1" r="4.5"/><circle cx="635.2" cy="846.1" r="4.5"/><circle cx="636.7" cy="845.2" r="4.5"/><circle cx="638.2" cy="844.7" r="4.5"/><circle cx="639.7" cy="845.9" r="4.5"/><circle cx="641.3" cy="845.1" r="4.5"/><circle cx="642.8" cy="844.1" r="4.5"/><circle cx="644.3" cy="845.0" r="4.5"/><circle cx="645.8" cy="845.4" r="4.5"/><circle cx="647.4" cy="845.1" r="4.5"/><circle cx="648.9" cy="846.8" r="4.5"/><circle cx="650.4" cy="846.0" r="4.5"/><circle cx="651.9" cy="845.7" r="4.5"/><circle cx="653.4" cy="845.7" r="4.5"/><circle cx="655.0" cy="847.7" r="4.5"/><circle cx="656.5" cy="847.5" r="4.5"/><circle cx="658.0" cy="847.3" r="4.5"/><circle cx="659.5" cy="848.0" r="4.5"/><circle cx="661.0" cy="848.2" r="4.5"/><circle cx="662.6" cy="847.6" r="4.5"/><circle cx="664.1" cy="848.6" r="4.5"/><circle cx="665.6" cy="849.8" r="4.5"/><circle cx="667.1" cy="848.4" r="4.5"/><circle cx="668.6" cy="849.2" r="4.5"/><circle cx="670.2" cy="849.6" r="4.5"/><circle cx="671.7" cy="850.4" r="4.5"/><circle cx="673.2" cy="848.7" r="4.5"/><circle cx="674.7" cy="851.3" r="4.5"/><circle cx="676.3" cy="851.0" r="4.5"/><circle cx="677.8" cy="850.0" r="4.5"/><circle cx="679.3" cy="848.9" r="4.5"/><circle cx="680.8" cy="849.0" r="4.5"/><circle cx="682.3" cy="850.9" r="4.5"/><circle cx="683.9" cy="850.2" r="4.5"/><circle cx="685.4" cy="851.3" r="4.5"/><circle cx="686.9" cy="849.5" r="4.5"/><circle cx="688.4" cy="851.4" r="4.5"/><circle cx="689.9" cy="850.5" r="4.5"/><circle cx="691.5" cy="849.7" r="4.5"/><circle cx="693.0" cy="850.7" r="4.5"/><circle cx="694.5" cy="849.5" r="4.5"/><circle cx="696.0" cy="851.3" r="4.5"/><circle cx="697.5" cy="850.4" r="4.5"/><circle cx="699.1" cy="850.1" r="4.5"/><circle cx="700.6" cy="850.9" r="4.5"/><circle cx="702.1" cy="849.8" r="4.5"/><circle cx="703.6" cy="850.5" r="4.5"/><circle cx="705.2" cy="852.2" r="4.5"/><circle cx="706.7" cy="848.1" r="4.5"/><circle cx="708.2" cy="850.6" r="4.5"/><circle cx="709.7" cy="851.1" r="4.5"/><circle cx="711.2" cy="852.2" r="4.5"/><circle cx="712.8" cy="851.2" r="4.5"/><circle cx="714.3" cy="851.6" r="4.5"/><circle cx="715.8" cy="850.9" r="4.5"/><circle cx="717.3" cy="851.1" r="4.5"/><circle cx="718.8" cy="850.1" r="4.5"/><circle cx="720.4" cy="851.4" r="4.5"/><circle cx="721.9" cy="851.2" r="4.5"/><circle cx="723.4" cy="851.3" r="4.5"/><circle cx="724.9" cy="851.8" r="4.5"/><circle cx="726.4" cy="851.8" r="4.5"/><circle cx="728.0" cy="850.9" r="4.5"/><circle cx="729.5" cy="851.2" r="4.5"/><circle cx="731.0" cy="852.3" r="4.5"/><circle cx="732.5" cy="852.7" r="4.5"/><circle cx="734.0" cy="851.9" r="4.5"/><circle cx="735.6" cy="851.1" r="4.5"/><circle cx="737.1" cy="852.0" r="4.5"/><circle cx="738.6" cy="850.7" r="4.5"/><circle cx="740.1" cy="852.6" r="4.5"/><circle cx="741.7" cy="851.9" r="4.5"/><circle cx="743.2" cy="853.9" r="4.5"/><circle cx="744.7" cy="852.5" r="4.5"/><circle cx="746.2" cy="852.3" r="4.5"/><circle cx="747.7" cy="851.7" r="4.5"/><circle cx="749.3" cy="850.8" r="4.5"/><circle cx="750.8" cy="852.1" r="4.5"/><circle cx="752.3" cy="851.0" r="4.5"/><circle cx="753.8" cy="851.6" r="4.5"/><circle cx="755.3" cy="851.4" r="4.5"/><circle cx="756.9" cy="852.5" r="4.5"/><circle cx="758.4" cy="851.1" r="4.5"/><circle cx="759.9" cy="853.0" r="4.5"/><circle cx="761.4" cy="851.8" r="4.5"/><circle cx="762.9" cy="852.9" r="4.5"/><circle cx="764.5" cy="852.6" r="4.5"/><circle cx="766.0" cy="853.3" r="4.5"/><circle cx="767.5" cy="852.6" r="4.5"/><circle cx="769.0" cy="851.9" r="4.5"/><circle cx="770.6" cy="852.3" r="4.5"/><circle cx="772.1" cy="853.2" r="4.5"/><circle cx="773.6" cy="851.1" r="4.5"/><circle cx="775.1" cy="852.0" r="4.5"/><circle cx="776.6" cy="851.5" r="4.5"/><circle cx="778.2" cy="851.6" r="4.5"/><circle cx="779.7" cy="852.7" r="4.5"/><circle cx="781.2" cy="853.7" r="4.5"/><circle cx="782.7" cy="852.9" r="4.5"/><circle cx="784.2" cy="851.3" r="4.5"/><circle cx="785.8" cy="853.0" r="4.5"/><circle cx="787.3" cy="851.6" r="4.5"/><circle cx="788.8" cy="852.7" r="4.5"/><circle cx="790.3" cy="852.0" r="4.5"/><circle cx="791.8" cy="853.6" r="4.5"/><circle cx="793.4" cy="851.4" r="4.5"/><circle cx="794.9" cy="852.3" r="4.5"/><circle cx="796.4" cy="851.6" r="4.5"/><circle cx="797.9" cy="852.1" r="4.5"/><circle cx="799.5" cy="851.6" r="4.5"/><circle cx="801.0" cy="852.3" r="4.5"/><circle cx="802.5" cy="851.7" r="4.5"/><circle cx="804.0" cy="853.4" r="4.5"/><circle cx="805.5" cy="853.0" r="4.5"/><circle cx="807.1" cy="851.7" r="4.5"/><circle cx="808.6" cy="852.3" r="4.5"/><circle cx="810.1" cy="852.4" r="4.5"/><circle cx="811.6" cy="852.4" r="4.5"/><circle cx="813.1" cy="851.8" r="4.5"/><circle cx="814.7" cy="852.7" r="4.5"/><circle cx="816.2" cy="851.8" r="4.5"/><circle cx="817.7" cy="852.9" r="4.5"/><circle cx="819.2" cy="852.5" r="4.5"/><circle cx="820.7" cy="851.5" r="4.5"/><circle cx="822.3" cy="851.4" r="4.5"/><circle cx="823.8" cy="853.0" r="4.5"/><circle cx="825.3" cy="851.5" r="4.5"/><circle cx="826.8" cy="852.9" r="4.5"/>
</g>
<path d="M156.1 826.6 156.4 826.6 156.7 826.6 157.0 826.6 157.3 826.6 157.6 826.6 157.9 826.6 158.2 826.6 158.5 826.6 158.8 826.6 159.1 826.6 159.4 826.6 159.7 826.6 160.0 826.6 160.3 826.6 160.6 826.6 160.9 826.6 161.2 826.6 161.5 826.6 161.8 826.6 162.2 826.6 162.5 826.6 162.8 826.6 163.1 826.6 163.4 826.6 163.7 826.6 164.0 826.6 164.3 826.6 164.6 826.6 164.9 826.6 165.2 826.6 165.5 826.6 165.8 826.6 166.1 826.6 166.4 826.6 166.7 826.6 167.0 826.6 167.3 826.6 167.6 826.6 167.9 826.6 168.2 826.6 168.5 826.6 168.8 826.6 169.1 826.6 169.5 826.6 169.8 826.6 170.1 826.6 170.4 826.6 170.7 826.6 171.0 826.6 171.3 826.6 171.6 826.6 171.9 826.6 172.2 826.6 172.5 826.6 172.8 826.6 173.1 826.6 173.4 826.6 173.7 826.6 174.0 826.6 174.3 826.6 174.6 826.6 174.9 826.6 175.2 826.6 175.5 826.6 175.8 826.6 176.1 826.6 176.5 826.6 176.8 826.6 177.1 826.6 177.4 826.6 177.7 826.6 178.0 826.6 178.3 826.6 178.6 826.6 178.9 826.6 179.2 826.6 179.5 826.6 179.8 826.6 180.1 826.6 180.4 826.6 180.7 826.6 181.0 826.6 181.3 826.6 181.6 826.6 181.9 826.6 182.2 826.6 182.5 826.6 182.8 826.6 183.1 826.6 183.4 826.6 183.8 826.6 184.1 826.6 184.4 826.6 184.7 826.6 185.0 826.6 185.3 826.6 185.6 826.6 185.9 826.6 186.2 826.6 186.5 826.6 186.8 826.6 187.1 826.6 187.4 826.6 187.7 826.6 188.0 826.6 188.3 826.6 188.6 826.6 188.9 826.6 189.2 826.6 189.5 826.6 189.8 826.6 190.1 826.6 190.4 826.6 190.7 826.6 191.1 826.6 191.4 826.6 191.7 826.6 192.0 826.6 192.3 826.6 192.6 826.6 192.9 826.6 193.2 826.6 193.5 826.6 193.8 826.6 194.1 826.6 194.4 826.6 194.7 826.6 195.0 826.6 195.3 826.6 195.6 826.6 195.9 826.6 196.2 826.6 196.5 826.6 196.8 826.6 197.1 826.6 197.4 826.6 197.7 826.6 198.0 826.6 198.4 826.6 198.7 826.6 199.0 826.6 199.3 826.6 199.6 826.5 199.9 826.5 200.2 826.4 200.5 826.4 200.8 826.3 201.1 826.2 201.4 826.1 201.7 826.0 202.0 825.8 202.3 825.6 202.6 825.4 202.9 825.1 203.2 824.8 203.5 824.5 203.8 824.1 204.1 823.6 204.4 823.2 204.7 822.6 205.0 822.0 205.3 821.4 205.7 820.7 206.0 820.0 206.3 819.2 206.6 818.4 206.9 817.5 207.2 816.6 207.5 815.7 207.8 814.7 208.1 813.6 208.4 812.5 208.7 811.3 209.0 810.1 209.3 808.7 209.6 807.2 209.9 805.5 210.2 803.7 210.5 801.7 210.8 799.3 211.1 796.7 211.4 793.7 211.7 790.3 212.0 786.4 212.3 782.0 212.7 777.0 213.0 771.3 213.3 764.9 213.6 757.6 213.9 749.6 214.2 740.6 214.5 730.6 214.8 719.6 215.1 707.6 215.4 694.5 215.7 680.3 216.0 665.0 216.3 648.6 216.6 631.2 216.9 612.7 217.2 593.2 217.5 572.9 217.8 551.6 218.1 529.7 218.4 507.1 218.7 484.0 219.0 460.6 219.3 436.8 219.6 413.0 220.0 389.1 220.3 365.5 220.6 342.1 220.9 319.1 221.2 296.7 221.5 275.0 221.8 254.1 222.1 234.1 222.4 215.2 222.7 197.5 223.0 181.1 223.3 166.3 223.6 153.1 223.9 141.7 224.2 132.2 224.5 124.7 224.8 119.0 225.1 114.9 225.4 112.2 225.7 110.7 226.0 110.2 226.3 110.3 226.6 111.0 226.9 112.1 227.3 113.5 227.6 115.1 227.9 116.9 228.2 118.9 228.5 120.9 228.8 123.0 229.1 125.2 229.4 127.4 229.7 129.6 230.0 131.9 230.3 134.2 230.6 136.5 230.9 138.8 231.2 141.2 231.5 143.5 231.8 145.8 232.1 148.1 232.4 150.5 232.7 152.8 233.0 155.1 233.3 157.4 233.6 159.8 233.9 162.1 234.2 164.4 234.6 166.7 234.9 169.0 235.2 171.3 235.5 173.6 235.8 175.9 236.1 178.2 236.4 180.5 236.7 182.7 237.0 185.0 237.3 187.3 237.6 189.5 237.9 191.8 238.2 194.0 238.5 196.3 238.8 198.5 239.1 200.7 239.4 202.9 239.7 205.1 240.0 207.3 240.3 209.5 240.6 211.7 240.9 213.9 241.2 216.1 241.5 218.3 241.9 220.4 242.2 222.6 242.5 224.7 242.8 226.9 243.1 229.0 243.4 231.2 243.7 233.3 244.0 235.4 244.3 237.5 244.6 239.6 244.9 241.7 245.2 243.8 245.5 245.9 245.8 247.9 246.1 250.0 246.4 252.1 246.7 254.1 247.0 256.2 247.3 258.2 247.6 260.3 247.9 262.3 248.2 264.3 248.5 266.3 248.8 268.3 249.2 270.3 249.5 272.3 249.8 274.3 250.1 276.3 250.4 278.3 250.7 280.2 251.0 282.2 251.3 284.1 251.6 286.1 251.9 288.0 252.2 290.0 252.5 291.9 252.8 293.8 253.1 295.7 253.4 297.6 253.7 299.5 254.0 301.4 254.3 303.3 254.6 305.2 254.9 307.1 255.2 308.9 255.5 310.8 255.8 312.7 256.2 314.5 256.5 316.3 256.8 318.2 257.1 320.0 257.4 321.8 257.7 323.7 258.0 325.5 258.3 327.3 258.6 329.1 258.9 330.9 259.2 332.7 259.5 334.4 259.8 336.2 260.1 338.0 260.4 339.7 260.7 341.5 261.0 343.2 261.3 345.0 261.6 346.7 261.9 348.5 262.2 350.2 262.5 351.9 262.8 353.6 263.1 355.3 263.5 357.0 263.8 358.7 264.1 360.4 264.4 362.1 264.7 363.8 265.0 365.5 265.3 367.1 265.6 368.8 265.9 370.5 266.2 372.1 266.5 373.8 266.8 375.4 267.1 377.0 267.4 378.7 267.7 380.3 268.0 381.9 268.3 383.5 268.6 385.1 268.9 386.7 269.2 388.3 269.5 389.9 269.8 391.5 270.1 393.1 270.4 394.6 270.8 396.2 271.1 397.8 271.4 399.3 271.7 400.9 272.0 402.4 272.3 404.0 272.6 405.5 272.9 407.0 273.2 408.5 273.5 410.1 273.8 411.6 274.1 413.1 274.4 414.6 274.7 416.1 275.0 417.6 275.3 419.1 275.6 420.6 275.9 422.0 276.2 423.5 276.5 425.0 276.8 426.4 277.1 427.9 277.4 429.4 277.7 430.8 278.1 432.2 278.4 433.7 278.7 435.1 279.0 436.5 279.3 438.0 279.6 439.4 279.9 440.8 280.2 442.2 280.5 443.6 280.8 445.0 281.1 446.4 281.4 447.8 281.7 449.2 282.0 450.6 282.3 451.9 282.6 453.3 282.9 454.7 283.2 456.0 283.5 457.4 283.8 458.7 284.1 460.1 284.4 461.4 284.7 462.8 285.0 464.1 285.4 465.4 285.7 466.8 286.0 468.1 286.3 469.4 286.6 470.7 286.9 472.0 287.2 473.3 287.5 474.6 287.8 475.9 288.1 477.2 288.4 478.5 288.7 479.8 289.0 481.0 289.3 482.3 289.6 483.6 289.9 484.8 290.2 486.1 290.5 487.3 290.8 488.6 291.1 489.8 291.4 491.1 291.7 492.3 292.0 493.5 292.4 494.8 292.7 496.0 293.0 497.2 293.3 498.4 293.6 499.6 293.9 500.8 294.2 502.0 294.5 503.2 294.8 504.4 295.1 505.6 295.4 506.8 295.7 508.0 296.0 509.2 296.3 510.3 296.6 511.5 296.9 512.7 297.2 513.8 297.5 515.0 297.8 516.1 298.1 517.3 298.4 518.4 298.7 519.6 299.0 520.7 299.3 521.8 299.7 523.0 300.0 524.1 300.3 525.2 300.6 526.3 300.9 527.5 301.2 528.6 301.5 529.7 301.8 530.8 302.1 531.9 302.4 533.0 302.7 534.1 303.0 535.1 303.3 536.2 303.6 537.3 303.9 538.4 304.2 539.5 304.5 540.5 304.8 541.6 305.1 542.7 305.4 543.7 305.7 544.8 306.0 545.8 306.3 546.9 306.6 547.9 307.0 549.0 307.3 550.0 307.6 551.0 307.9 552.1 308.2 553.1 308.5 554.1 308.8 555.1 309.1 556.1 309.4 557.1 309.7 558.2 310.0 559.2 310.3 560.2 310.6 561.2 310.9 562.1 311.2 563.1 311.5 564.1 311.8 565.1 312.1 566.1 312.4 567.1 312.7 568.0 313.0 569.0 313.3 570.0 313.6 570.9 313.9 571.9 314.3 572.9 314.6 573.8 314.9 574.8 315.2 575.7 315.5 576.7 315.8 577.6 316.1 578.5 316.4 579.5 316.7 580.4 317.0 581.3 317.3 582.3 317.6 583.2 317.9 584.1 318.2 585.0 318.5 585.9 318.8 586.8 319.1 587.7 319.4 588.6 319.7 589.5 320.0 590.4 320.3 591.3 320.6 592.2 320.9 593.1 321.2 594.0 321.6 594.9 321.9 595.8 322.2 596.6 322.5 597.5 322.8 598.4 323.1 599.2 323.4 600.1 323.7 601.0 324.0 601.8 324.3 602.7 324.6 603.5 324.9 604.4 325.2 605.2 325.5 606.1 325.8 606.9 326.1 607.7 326.4 608.6 326.7 609.4 327.0 610.2 327.3 611.0 327.6 611.9 327.9 612.7 328.2 613.5 328.6 614.3 328.9 615.1 329.2 615.9 329.5 616.7 329.8 617.5 330.1 618.3 330.4 619.1 330.7 619.9 331.0 620.7 331.3 621.5 331.6 622.3 331.9 623.1 332.2 623.9 332.5 624.7 332.8 625.4 333.1 626.2 333.4 627.0 333.7 627.7 334.0 628.5 334.3 629.3 334.6 630.0 334.9 630.8 335.2 631.5 335.5 632.3 335.9 633.0 336.2 633.8 336.5 634.5 336.8 635.3 337.1 636.0 337.4 636.7 337.7 637.5 338.0 638.2 338.3 638.9 338.6 639.7 338.9 640.4 339.2 641.1 339.5 641.8 339.8 642.5 340.1 643.3 340.4 644.0 340.7 644.7 341.0 645.4 341.3 646.1 341.6 646.8 341.9 647.5 342.2 648.2 342.5 648.9 342.8 649.6 343.2 650.3 343.5 651.0 343.8 651.6 344.1 652.3 344.4 653.0 344.7 653.7 345.0 654.4 345.3 655.0 345.6 655.7 345.9 656.4 346.2 657.0 346.5 657.7 346.8 658.4 347.1 659.0 347.4 659.7 347.7 660.3 348.0 661.0 348.3 661.6 348.6 662.3 348.9 662.9 349.2 663.6 349.5 664.2 349.8 664.8 350.1 665.5 350.5 666.1 350.8 666.8 351.1 667.4 351.4 668.0 351.7 668.6 352.0 669.3 352.3 669.9 352.6 670.5 352.9 671.1 353.2 671.7 353.5 672.4 353.8 673.0 354.1 673.6 354.4 674.2 354.7 674.8 355.0 675.4 355.3 676.0 355.6 676.6 355.9 677.2 356.2 677.8 356.5 678.4 356.8 679.0 357.1 679.5 357.4 680.1 357.8 680.7 358.1 681.3 358.4 681.9 358.7 682.5 359.0 683.0 359.3 683.6 359.6 684.2 359.9 684.8 360.2 685.3 360.5 685.9 360.8 686.5 361.1 687.0 361.4 687.6 361.7 688.1 362.0 688.7 362.3 689.2 362.6 689.8 362.9 690.4 363.2 690.9 363.5 691.4 363.8 692.0 364.1 692.5 364.4 693.1 364.8 693.6 365.1 694.2 365.4 694.7 365.7 695.2 366.0 695.8 366.3 696.3 366.6 696.8 366.9 697.3 367.2 697.9 367.5 698.4 367.8 698.9 368.1 699.4 368.4 700.0 368.7 700.5 369.0 701.0 369.3 701.5 369.6 702.0 369.9 702.5 370.2 703.0 370.5 703.5 370.8 704.0 371.1 704.5 371.4 705.0 371.7 705.5 372.1 706.0 372.4 706.5 372.7 707.0 373.0 707.5 373.3 708.0 373.6 708.5 373.9 709.0 374.2 709.5 374.5 709.9 374.8 710.4 375.1 710.9 375.4 711.4 375.7 711.9 376.0 712.3 376.3 712.8 376.6 713.3 376.9 713.8 377.2 714.2 377.5 714.7 377.8 715.2 378.1 715.6 378.4 716.1 378.7 716.5 379.0 717.0 379.4 717.5 379.7 717.9 380.0 718.4 380.3 718.8 380.6 719.3 380.9 719.7 381.2 720.2 381.5 720.6 381.8 721.1 382.1 721.5 382.4 721.9 382.7 722.4 383.0 722.8 383.3 723.3 383.6 723.7 383.9 724.1 384.2 724.6 384.5 725.0 384.8 725.4 385.1 725.9 385.4 726.3 385.7 726.7 386.0 727.1 386.3 727.6 386.7 728.0 387.0 728.4 387.3 728.8 387.6 729.2 387.9 729.6 388.2 730.1 388.5 730.5 388.8 730.9 389.1 731.3 389.4 731.7 389.7 732.1 390.0 732.5 390.3 732.9 390.6 733.3 390.9 733.7 391.2 734.1 391.5 734.5 391.8 734.9 392.1 735.3 392.4 735.7 392.7 736.1 393.0 736.5 393.3 736.9 393.6 737.3 394.0 737.7 394.3 738.0 394.6 738.4 394.9 738.8 395.2 739.2 395.5 739.6 395.8 740.0 396.1 740.3 396.4 740.7 396.7 741.1 397.0 741.5 397.3 741.8 397.6 742.2 397.9 742.6 398.2 742.9 398.5 743.3 398.8 743.7 399.1 744.0 399.4 744.4 399.7 744.8 400.0 745.1 400.3 745.5 400.6 745.9 400.9 746.2 401.3 746.6 401.6 746.9 401.9 747.3 402.2 747.6 402.5 748.0 402.8 748.3 403.1 748.7 403.4 749.0 403.7 749.4 404.0 749.7 404.3 750.1 404.6 750.4 404.9 750.8 405.2 751.1 405.5 751.4 405.8 751.8 406.1 752.1 406.4 752.4 406.7 752.8 407.0 753.1 407.3 753.5 407.6 753.8 407.9 754.1 408.3 754.4 408.6 754.8 408.9 755.1 409.2 755.4 409.5 755.8 409.8 756.1 410.1 756.4 410.4 756.7 410.7 757.0 411.0 757.4 411.3 757.7 411.6 758.0 411.9 758.3 412.2 758.6 412.5 758.9 412.8 759.3 413.1 759.6 413.4 759.9 413.7 760.2 414.0 760.5 414.3 760.8 414.6 761.1 414.9 761.4 415.2 761.7 415.6 762.0 415.9 762.3 416.2 762.6 416.5 762.9 416.8 763.2 417.1 763.5 417.4 763.8 417.7 764.1 418.0 764.4 418.3 764.7 418.6 765.0 418.9 765.3 419.2 765.6 419.5 765.9 419.8 766.2 420.1 766.4 420.4 766.7 420.7 767.0 421.0 767.3 421.3 767.6 421.6 767.9 421.9 768.2 422.2 768.4 422.5 768.7 422.9 769.0 423.2 769.3 423.5 769.6 423.8 769.8 424.1 770.1 424.4 770.4 424.7 770.7 425.0 770.9 425.3 771.2 425.6 771.5 425.9 771.7 426.2 772.0 426.5 772.3 426.8 772.5 427.1 772.8 427.4 773.1 427.7 773.3 428.0 773.6 428.3 773.9 428.6 774.1 428.9 774.4 429.2 774.6 429.5 774.9 429.8 775.2 430.2 775.4 430.5 775.7 430.8 775.9 431.1 776.2 431.4 776.4 431.7 776.7 432.0 776.9 432.3 777.2 432.6 777.4 432.9 777.7 433.2 777.9 433.5 778.2 433.8 778.4 434.1 778.7 434.4 778.9 434.7 779.2 435.0 779.4 435.3 779.7 435.6 779.9 435.9 780.1 436.2 780.4 436.5 780.6 436.8 780.9 437.1 781.1 437.5 781.3 437.8 781.6 438.1 781.8 438.4 782.0 438.7 782.3 439.0 782.5 439.3 782.7 439.6 783.0 439.9 783.2 440.2 783.4 440.5 783.7 440.8 783.9 441.1 784.1 441.4 784.3 441.7 784.6 442.0 784.8 442.3 785.0 442.6 785.2 442.9 785.5 443.2 785.7 443.5 785.9 443.8 786.1 444.1 786.3 444.5 786.6 444.8 786.8 445.1 787.0 445.4 787.2 445.7 787.4 446.0 787.6 446.3 787.8 446.6 788.1 446.9 788.3 447.2 788.5 447.5 788.7 447.8 788.9 448.1 789.1 448.4 789.3 448.7 789.5 449.0 789.7 449.3 789.9 449.6 790.2 449.9 790.4 450.2 790.6 450.5 790.8 450.8 791.0 451.1 791.2 451.4 791.4 451.8 791.6 452.1 791.8 452.4 792.0 452.7 792.2 453.0 792.4 453.3 792.6 453.6 792.8 453.9 793.0 454.2 793.2 454.5 793.4 454.8 793.6 455.1 793.7 455.4 793.9 455.7 794.1 456.0 794.3 456.3 794.5 456.6 794.7 456.9 794.9 457.2 795.1 457.5 795.3 457.8 795.5 458.1 795.6 458.4 795.8 458.7 796.0 459.1 796.2 459.4 796.4 459.7 796.6 460.0 796.8 460.3 796.9 460.6 797.1 460.9 797.3 461.2 797.5 461.5 797.7 461.8 797.8 462.1 798.0 462.4 798.2 462.7 798.4 463.0 798.6 463.3 798.7 463.6 798.9 463.9 799.1 464.2 799.3 464.5 799.4 464.8 799.6 465.1 799.8 465.4 800.0 465.7 800.1 466.0 800.3 466.4 800.5 466.7 800.6 467.0 800.8 467.3 801.0 467.6 801.1 467.9 801.3 468.2 801.5 468.5 801.6 468.8 801.8 469.1 802.0 469.4 802.1 469.7 802.3 470.0 802.5 470.3 802.6 470.6 802.8 470.9 803.0 471.2 803.1 471.5 803.3 471.8 803.4 472.1 803.6 472.4 803.8 472.7 803.9 473.0 804.1 473.3 804.2 473.7 804.4 474.0 804.5 474.3 804.7 474.6 804.9 474.9 805.0 475.2 805.2 475.5 805.3 475.8 805.5 476.1 805.6 476.4 805.8 476.7 805.9 477.0 806.1 477.3 806.2 477.6 806.4 477.9 806.5 478.2 806.7 478.5 806.8 478.8 807.0 479.1 807.1 479.4 807.3 479.7 807.4 480.0 807.6 480.3 807.7 480.7 807.8 481.0 808.0 481.3 808.1 481.6 808.3 481.9 808.4 482.2 808.6 482.5 808.7 482.8 808.8 483.1 809.0 483.4 809.1 483.7 809.3 484.0 809.4 484.3 809.5 484.6 809.7 484.9 809.8 485.2 810.0 485.5 810.1 485.8 810.2 486.1 810.4 486.4 810.5 486.7 810.6 487.0 810.8 487.3 810.9 487.6 811.0 488.0 811.2 488.3 811.3 488.6 811.4 488.9 811.6 489.2 811.7 489.5 811.8 489.8 812.0 490.1 812.1 490.4 812.2 490.7 812.4 491.0 812.5 491.3 812.6 491.6 812.7 491.9 812.9 492.2 813.0 492.5 813.1 492.8 813.3 493.1 813.4 493.4 813.5 493.7 813.6 494.0 813.8 494.3 813.9 494.6 814.0 494.9 814.1 495.3 814.2 495.6 814.4 495.9 814.5 496.2 814.6 496.5 814.7 496.8 814.9 497.1 815.0 497.4 815.1 497.7 815.2 498.0 815.3 498.3 815.5 498.6 815.6 498.9 815.7 499.2 815.8 499.5 815.9 499.8 816.0 500.1 816.2 500.4 816.3 500.7 816.4 501.0 816.5 501.3 816.6 501.6 816.7 501.9 816.8 502.2 817.0 502.6 817.1 502.9 817.2 503.2 817.3 503.5 817.4 503.8 817.5 504.1 817.6 504.4 817.7 504.7 817.9 505.0 818.0 505.3 818.1 505.6 818.2 505.9 818.3 506.2 818.4 506.5 818.5 506.8 818.6 507.1 818.7 507.4 818.8 507.7 818.9 508.0 819.0 508.3 819.2 508.6 819.3 508.9 819.4 509.2 819.5 509.5 819.6 509.9 819.7 510.2 819.8 510.5 819.9 510.8 820.0 511.1 820.1 511.4 820.2 511.7 820.3 512.0 820.4 512.3 820.5 512.6 820.6 512.9 820.7 513.2 820.8 513.5 820.9 513.8 821.0 514.1 821.1 514.4 821.2 514.7 821.3 515.0 821.4 515.3 821.5 515.6 821.6 515.9 821.7 516.2 821.8 516.5 821.9 516.9 822.0 517.2 822.1 517.5 822.2 517.8 822.3 518.1 822.4 518.4 822.4 518.7 822.5 519.0 822.6 519.3 822.7 519.6 822.8 519.9 822.9 520.2 823.0 520.5 823.1 520.8 823.2 521.1 823.3 521.4 823.4 521.7 823.5 522.0 823.6 522.3 823.6 522.6 823.7 522.9 823.8 523.2 823.9 523.5 824.0 523.8 824.1 524.2 824.2 524.5 824.3 524.8 824.4 525.1 824.4 525.4 824.5 525.7 824.6 526.0 824.7 526.3 824.8 526.6 824.9 526.9 825.0 527.2 825.1 527.5 825.1 527.8 825.2 528.1 825.3 528.4 825.4 528.7 825.5 529.0 825.6 529.3 825.6 529.6 825.7 529.9 825.8 530.2 825.9 530.5 826.0 530.8 826.1 531.1 826.1 531.5 826.2 531.8 826.3 532.1 826.4 532.4 826.5 532.7 826.5 533.0 826.6 533.3 826.7 533.6 826.8 533.9 826.9 534.2 826.9 534.5 827.0 534.8 827.1 535.1 827.2 535.4 827.3 535.7 827.3 536.0 827.4 536.3 827.5 536.6 827.6 536.9 827.6 537.2 827.7 537.5 827.8 537.8 827.9 538.1 827.9 538.4 828.0 538.8 828.1 539.1 828.2 539.4 828.2 539.7 828.3 540.0 828.4 540.3 828.5 540.6 828.5 540.9 828.6 541.2 828.7 541.5 828.8 541.8 828.8 542.1 828.9 542.4 829.0 542.7 829.0 543.0 829.1 543.3 829.2 543.6 829.3 543.9 829.3 544.2 829.4 544.5 829.5 544.8 829.5 545.1 829.6 545.4 829.7 545.7 829.7 546.1 829.8 546.4 829.9 546.7 830.0 547.0 830.0 547.3 830.1 547.6 830.2 547.9 830.2 548.2 830.3 548.5 830.4 548.8 830.4 549.1 830.5 549.4 830.6 549.7 830.6 550.0 830.7 550.3 830.8 550.6 830.8 550.9 830.9 551.2 831.0 551.5 831.0 551.8 831.1 552.1 831.1 552.4 831.2 552.7 831.3 553.0 831.3 553.4 831.4 553.7 831.5 554.0 831.5 554.3 831.6 554.6 831.7 554.9 831.7 555.2 831.8 555.5 831.8 555.8 831.9 556.1 832.0 556.4 832.0 556.7 832.1 557.0 832.1 557.3 832.2 557.6 832.3 557.9 832.3 558.2 832.4 558.5 832.5 558.8 832.5 559.1 832.6 559.4 832.6 559.7 832.7 560.0 832.7 560.4 832.8 560.7 832.9 561.0 832.9 561.3 833.0 561.6 833.0 561.9 833.1 562.2 833.2 562.5 833.2 562.8 833.3 563.1 833.3 563.4 833.4 563.7 833.4 564.0 833.5 564.3 833.6 564.6 833.6 564.9 833.7 565.2 833.7 565.5 833.8 565.8 833.8 566.1 833.9 566.4 833.9 566.7 834.0 567.0 834.0 567.3 834.1 567.7 834.2 568.0 834.2 568.3 834.3 568.6 834.3 568.9 834.4 569.2 834.4 569.5 834.5 569.8 834.5 570.1 834.6 570.4 834.6 570.7 834.7 571.0 834.7 571.3 834.8 571.6 834.8 571.9 834.9 572.2 834.9 572.5 835.0 572.8 835.0 573.1 835.1 573.4 835.1 573.7 835.2 574.0 835.2 574.3 835.3 574.6 835.3 575.0 835.4 575.3 835.4 575.6 835.5 575.9 835.5 576.2 835.6 576.5 835.6 576.8 835.7 577.1 835.7 577.4 835.8 577.7 835.8 578.0 835.9 578.3 835.9 578.6 836.0 578.9 836.0 579.2 836.1 579.5 836.1 579.8 836.2 580.1 836.2 580.4 836.3 580.7 836.3 581.0 836.4 581.3 836.4 581.6 836.4 581.9 836.5 582.3 836.5 582.6 836.6 582.9 836.6 583.2 836.7 583.5 836.7 583.8 836.8 584.1 836.8 584.4 836.9 584.7 836.9 585.0 836.9 585.3 837.0 585.6 837.0 585.9 837.1 586.2 837.1 586.5 837.2 586.8 837.2 587.1 837.3 587.4 837.3 587.7 837.3 588.0 837.4 588.3 837.4 588.6 837.5 588.9 837.5 589.2 837.6 589.6 837.6 589.9 837.6 590.2 837.7 590.5 837.7 590.8 837.8 591.1 837.8 591.4 837.8 591.7 837.9 592.0 837.9 592.3 838.0 592.6 838.0 592.9 838.0 593.2 838.1 593.5 838.1 593.8 838.2 594.1 838.2 594.4 838.2 594.7 838.3 595.0 838.3 595.3 838.4 595.6 838.4 595.9 838.4 596.2 838.5 596.6 838.5 596.9 838.6 597.2 838.6 597.5 838.6 597.8 838.7 598.1 838.7 598.4 838.8 598.7 838.8 599.0 838.8 599.3 838.9 599.6 838.9 599.9 838.9 600.2 839.0 600.5 839.0 600.8 839.1 601.1 839.1 601.4 839.1 601.7 839.2 602.0 839.2 602.3 839.2 602.6 839.3 602.9 839.3 603.2 839.3 603.5 839.4 603.9 839.4 604.2 839.5 604.5 839.5 604.8 839.5 605.1 839.6 605.4 839.6 605.7 839.6 606.0 839.7 606.3 839.7 606.6 839.7 606.9 839.8 607.2 839.8 607.5 839.8 607.8 839.9 608.1 839.9 608.4 839.9 608.7 840.0 609.0 840.0 609.3 840.0 609.6 840.1 609.9 840.1 610.2 840.1 610.5 840.2 610.8 840.2 611.2 840.2 611.5 840.3 611.8 840.3 612.1 840.3 612.4 840.4 612.7 840.4 613.0 840.4 613.3 840.5 613.6 840.5 613.9 840.5 614.2 840.6 614.5 840.6 614.8 840.6 615.1 840.7 615.4 840.7 615.7 840.7 616.0 840.8 616.3 840.8 616.6 840.8 616.9 840.8 617.2 840.9 617.5 840.9 617.8 840.9 618.1 841.0 618.5 841.0 618.8 841.0 619.1 841.1 619.4 841.1 619.7 841.1 620.0 841.2 620.3 841.2 620.6 841.2 620.9 841.2 621.2 841.3 621.5 841.3 621.8 841.3 622.1 841.4 622.4 841.4 622.7 841.4 623.0 841.4 623.3 841.5 623.6 841.5 623.9 841.5 624.2 841.6 624.5 841.6 624.8 841.6 625.1 841.6 625.4 841.7 625.8 841.7 626.1 841.7 626.4 841.8 626.7 841.8 627.0 841.8 627.3 841.8 627.6 841.9 627.9 841.9 628.2 841.9 628.5 841.9 628.8 842.0 629.1 842.0 629.4 842.0 629.7 842.1 630.0 842.1 630.3 842.1 630.6 842.1 630.9 842.2 631.2 842.2 631.5 842.2 631.8 842.2 632.1 842.3 632.4 842.3 632.8 842.3 633.1 842.3 633.4 842.4 633.7 842.4 634.0 842.4 634.3 842.4 634.6 842.5 634.9 842.5 635.2 842.5 635.5 842.5 635.8 842.6 636.1 842.6 636.4 842.6 636.7 842.6 637.0 842.7 637.3 842.7 637.6 842.7 637.9 842.7 638.2 842.8 638.5 842.8 638.8 842.8 639.1 842.8 639.4 842.9 639.7 842.9 640.1 842.9 640.4 842.9 640.7 843.0 641.0 843.0 641.3 843.0 641.6 843.0 641.9 843.1 642.2 843.1 642.5 843.1 642.8 843.1 643.1 843.1 643.4 843.2 643.7 843.2 644.0 843.2 644.3 843.2 644.6 843.3 644.9 843.3 645.2 843.3 645.5 843.3 645.8 843.3 646.1 843.4 646.4 843.4 646.7 843.4 647.0 843.4 647.4 843.5 647.7 843.5 648.0 843.5 648.3 843.5 648.6 843.5 648.9 843.6 649.2 843.6 649.5 843.6 649.8 843.6 650.1 843.7 650.4 843.7 650.7 843.7 651.0 843.7 651.3 843.7 651.6 843.8 651.9 843.8 652.2 843.8 652.5 843.8 652.8 843.8 653.1 843.9 653.4 843.9 653.7 843.9 654.0 843.9 654.3 843.9 654.7 844.0 655.0 844.0 655.3 844.0 655.6 844.0 655.9 844.0 656.2 844.1 656.5 844.1 656.8 844.1 657.1 844.1 657.4 844.1 657.7 844.2 658.0 844.2 658.3 844.2 658.6 844.2 658.9 844.2 659.2 844.3 659.5 844.3 659.8 844.3 660.1 844.3 660.4 844.3 660.7 844.3 661.0 844.4 661.3 844.4 661.6 844.4 662.0 844.4 662.3 844.4 662.6 844.5 662.9 844.5 663.2 844.5 663.5 844.5 663.8 844.5 664.1 844.6 664.4 844.6 664.7 844.6 665.0 844.6 665.3 844.6 665.6 844.6 665.9 844.7 666.2 844.7 666.5 844.7 666.8 844.7 667.1 844.7 667.4 844.7 667.7 844.8 668.0 844.8 668.3 844.8 668.6 844.8 669.0 844.8 669.3 844.9 669.6 844.9 669.9 844.9 670.2 844.9 670.5 844.9 670.8 844.9 671.1 845.0 671.4 845.0 671.7 845.0 672.0 845.0 672.3 845.0 672.6 845.0 672.9 845.1 673.2 845.1 673.5 845.1 673.8 845.1 674.1 845.1 674.4 845.1 674.7 845.1 675.0 845.2 675.3 845.2 675.6 845.2 675.9 845.2 676.3 845.2 676.6 845.2 676.9 845.3 677.2 845.3 677.5 845.3 677.8 845.3 678.1 845.3 678.4 845.3 678.7 845.4 679.0 845.4 679.3 845.4 679.6 845.4 679.9 845.4 680.2 845.4 680.5 845.4 680.8 845.5 681.1 845.5 681.4 845.5 681.7 845.5 682.0 845.5 682.3 845.5 682.6 845.5 682.9 845.6 683.2 845.6 683.6 845.6 683.9 845.6 684.2 845.6 684.5 845.6 684.8 845.6 685.1 845.7 685.4 845.7 685.7 845.7 686.0 845.7 686.3 845.7 686.6 845.7 686.9 845.7 687.2 845.8 687.5 845.8 687.8 845.8 688.1 845.8 688.4 845.8 688.7 845.8 689.0 845.8 689.3 845.9 689.6 845.9 689.9 845.9 690.2 845.9 690.5 845.9 690.9 845.9 691.2 845.9 691.5 846.0 691.8 846.0 692.1 846.0 692.4 846.0 692.7 846.0 693.0 846.0 693.3 846.0 693.6 846.0 693.9 846.1 694.2 846.1 694.5 846.1 694.8 846.1 695.1 846.1 695.4 846.1 695.7 846.1 696.0 846.1 696.3 846.2 696.6 846.2 696.9 846.2 697.2 846.2 697.5 846.2 697.8 846.2 698.2 846.2 698.5 846.2 698.8 846.3 699.1 846.3 699.4 846.3 699.7 846.3 700.0 846.3 700.3 846.3 700.6 846.3 700.9 846.3 701.2 846.4 701.5 846.4 701.8 846.4 702.1 846.4 702.4 846.4 702.7 846.4 703.0 846.4 703.3 846.4 703.6 846.4 703.9 846.5 704.2 846.5 704.5 846.5 704.8 846.5 705.1 846.5 705.5 846.5 705.8 846.5 706.1 846.5 706.4 846.5 706.7 846.6 707.0 846.6 707.3 846.6 707.6 846.6 707.9 846.6 708.2 846.6 708.5 846.6 708.8 846.6 709.1 846.6 709.4 846.7 709.7 846.7 710.0 846.7 710.3 846.7 710.6 846.7 710.9 846.7 711.2 846.7 711.5 846.7 711.8 846.7 712.1 846.8 712.5 846.8 712.8 846.8 713.1 846.8 713.4 846.8 713.7 846.8 714.0 846.8 714.3 846.8 714.6 846.8 714.9 846.8 715.2 846.9 715.5 846.9 715.8 846.9 716.1 846.9 716.4 846.9 716.7 846.9 717.0 846.9 717.3 846.9 717.6 846.9 717.9 846.9 718.2 847.0 718.5 847.0 718.8 847.0 719.1 847.0 719.4 847.0 719.8 847.0 720.1 847.0 720.4 847.0 720.7 847.0 721.0 847.0 721.3 847.1 721.6 847.1 721.9 847.1 722.2 847.1 722.5 847.1 722.8 847.1 723.1 847.1 723.4 847.1 723.7 847.1 724.0 847.1 724.3 847.1 724.6 847.2 724.9 847.2 725.2 847.2 725.5 847.2 725.8 847.2 726.1 847.2 726.4 847.2 726.7 847.2 727.1 847.2 727.4 847.2 727.7 847.2 728.0 847.3 728.3 847.3 728.6 847.3 728.9 847.3 729.2 847.3 729.5 847.3 729.8 847.3 730.1 847.3 730.4 847.3 730.7 847.3 731.0 847.3 731.3 847.3 731.6 847.4 731.9 847.4 732.2 847.4 732.5 847.4 732.8 847.4 733.1 847.4 733.4 847.4 733.7 847.4 734.0 847.4 734.4 847.4 734.7 847.4 735.0 847.4 735.3 847.5 735.6 847.5 735.9 847.5 736.2 847.5 736.5 847.5 736.8 847.5 737.1 847.5 737.4 847.5 737.7 847.5 738.0 847.5 738.3 847.5 738.6 847.5 738.9 847.5 739.2 847.6 739.5 847.6 739.8 847.6 740.1 847.6 740.4 847.6 740.7 847.6 741.0 847.6 741.3 847.6 741.7 847.6 742.0 847.6 742.3 847.6 742.6 847.6 742.9 847.6 743.2 847.7 743.5 847.7 743.8 847.7 744.1 847.7 744.4 847.7 744.7 847.7 745.0 847.7 745.3 847.7 745.6 847.7 745.9 847.7 746.2 847.7 746.5 847.7 746.8 847.7 747.1 847.7 747.4 847.8 747.7 847.8 748.0 847.8 748.3 847.8 748.7 847.8 749.0 847.8 749.3 847.8 749.6 847.8 749.9 847.8 750.2 847.8 750.5 847.8 750.8 847.8 751.1 847.8 751.4 847.8 751.7 847.8 752.0 847.9 752.3 847.9 752.6 847.9 752.9 847.9 753.2 847.9 753.5 847.9 753.8 847.9 754.1 847.9 754.4 847.9 754.7 847.9 755.0 847.9 755.3 847.9 755.6 847.9 756.0 847.9 756.3 847.9 756.6 848.0 756.9 848.0 757.2 848.0 757.5 848.0 757.8 848.0 758.1 848.0 758.4 848.0 758.7 848.0 759.0 848.0 759.3 848.0 759.6 848.0 759.9 848.0 760.2 848.0 760.5 848.0 760.8 848.0 761.1 848.0 761.4 848.1 761.7 848.1 762.0 848.1 762.3 848.1 762.6 848.1 762.9 848.1 763.3 848.1 763.6 848.1 763.9 848.1 764.2 848.1 764.5 848.1 764.8 848.1 765.1 848.1 765.4 848.1 765.7 848.1 766.0 848.1 766.3 848.1 766.6 848.2 766.9 848.2 767.2 848.2 767.5 848.2 767.8 848.2 768.1 848.2 768.4 848.2 768.7 848.2 769.0 848.2 769.3 848.2 769.6 848.2 769.9 848.2 770.2 848.2 770.6 848.2 770.9 848.2 771.2 848.2 771.5 848.2 771.8 848.2 772.1 848.2 772.4 848.3 772.7 848.3 773.0 848.3 773.3 848.3 773.6 848.3 773.9 848.3 774.2 848.3 774.5 848.3 774.8 848.3 775.1 848.3 775.4 848.3 775.7 848.3 776.0 848.3 776.3 848.3 776.6 848.3 776.9 848.3 777.2 848.3 777.5 848.3 777.9 848.3 778.2 848.4 778.5 848.4 778.8 848.4 779.1 848.4 779.4 848.4 779.7 848.4 780.0 848.4 780.3 848.4 780.6 848.4 780.9 848.4 781.2 848.4 781.5 848.4 781.8 848.4 782.1 848.4 782.4 848.4 782.7 848.4 783.0 848.4 783.3 848.4 783.6 848.4 783.9 848.4 784.2 848.4 784.5 848.5 784.9 848.5 785.2 848.5 785.5 848.5 785.8 848.5 786.1 848.5 786.4 848.5 786.7 848.5 787.0 848.5 787.3 848.5 787.6 848.5 787.9 848.5 788.2 848.5 788.5 848.5 788.8 848.5 789.1 848.5 789.4 848.5 789.7 848.5 790.0 848.5 790.3 848.5 790.6 848.5 790.9 848.5 791.2 848.6 791.5 848.6 791.8 848.6 792.2 848.6 792.5 848.6 792.8 848.6 793.1 848.6 793.4 848.6 793.7 848.6 794.0 848.6 794.3 848.6 794.6 848.6 794.9 848.6 795.2 848.6 795.5 848.6 795.8 848.6 796.1 848.6 796.4 848.6 796.7 848.6 797.0 848.6 797.3 848.6 797.6 848.6 797.9 848.6 798.2 848.6 798.5 848.6 798.8 848.7 799.1 848.7 799.5 848.7 799.8 848.7 800.1 848.7 800.4 848.7 800.7 848.7 801.0 848.7 801.3 848.7 801.6 848.7 801.9 848.7 802.2 848.7 802.5 848.7 802.8 848.7 803.1 848.7 803.4 848.7 803.7 848.7 804.0 848.7 804.3 848.7 804.6 848.7 804.9 848.7 805.2 848.7 805.5 848.7 805.8 848.7 806.1 848.7 806.4 848.7 806.8 848.8 807.1 848.8 807.4 848.8 807.7 848.8 808.0 848.8 808.3 848.8 808.6 848.8 808.9 848.8 809.2 848.8 809.5 848.8 809.8 848.8 810.1 848.8 810.4 848.8 810.7 848.8 811.0 848.8 811.3 848.8 811.6 848.8 811.9 848.8 812.2 848.8 812.5 848.8 812.8 848.8 813.1 848.8 813.4 848.8 813.7 848.8 814.1 848.8 814.4 848.8 814.7 848.8 815.0 848.8 815.3 848.8 815.6 848.8 815.9 848.9 816.2 848.9 816.5 848.9 816.8 848.9 817.1 848.9 817.4 848.9 817.7 848.9 818.0 848.9 818.3 848.9 818.6 848.9 818.9 848.9 819.2 848.9 819.5 848.9 819.8 848.9 820.1 848.9 820.4 848.9 820.7 848.9 821.1 848.9 821.4 848.9 821.7 848.9 822.0 848.9 822.3 848.9 822.6 848.9 822.9 848.9 823.2 848.9 823.5 848.9 823.8 848.9 824.1 848.9 824.4 848.9 824.7 848.9 825.0 848.9 825.3 848.9 825.6 849.0 825.9 849.0 826.2 849.0 826.5 849.0 826.8 849.0" fill="none" stroke="#ff8000" stroke-width="5.0" stroke-linejoin="round"/>
<g fill="none" stroke="#c80000" stroke-opacity="0.36" stroke-width="3" filter="url(#bl)">
<circle cx="156.1" cy="828.3" r="4.5"/><circle cx="157.6" cy="830.3" r="4.5"/><circle cx="159.1" cy="829.7" r="4.5"/><circle cx="160.6" cy="829.3" r="4.5"/><circle cx="162.2" cy="829.0" r="4.5"/><circle cx="163.7" cy="827.8" r="4.5"/><circle cx="165.2" cy="828.2" r="4.5"/><circle cx="166.7" cy="827.7" r="4.5"/><circle cx="168.2" cy="828.0" r="4.5"/><circle cx="169.8" cy="829.1" r="4.5"/><circle cx="171.3" cy="829.1" r="4.5"/><circle cx="172.8" cy="828.1" r="4.5"/><circle cx="174.3" cy="828.9" r="4.5"/><circle cx="175.8" cy="829.0" r="4.5"/><circle cx="177.4" cy="829.9" r="4.5"/><circle cx="178.9" cy="829.0" r="4.5"/><circle cx="180.4" cy="831.0" r="4.5"/><circle cx="181.9" cy="829.2" r="4.5"/><circle cx="183.4" cy="829.6" r="4.5"/><circle cx="185.0" cy="828.4" r="4.5"/><circle cx="186.5" cy="829.2" r="4.5"/><circle cx="188.0" cy="829.1" r="4.5"/><circle cx="189.5" cy="827.9" r="4.5"/><circle cx="191.1" cy="829.7" r="4.5"/><circle cx="192.6" cy="828.6" r="4.5"/><circle cx="194.1" cy="830.3" r="4.5"/><circle cx="195.6" cy="828.8" r="4.5"/><circle cx="197.1" cy="828.6" r="4.5"/><circle cx="198.7" cy="828.2" r="4.5"/><circle cx="200.2" cy="829.4" r="4.5"/><circle cx="201.7" cy="828.0" r="4.5"/><circle cx="203.2" cy="826.8" r="4.5"/><circle cx="204.7" cy="824.9" r="4.5"/><circle cx="206.3" cy="821.3" r="4.5"/><circle cx="207.8" cy="816.3" r="4.5"/><circle cx="209.3" cy="810.1" r="4.5"/><circle cx="210.8" cy="801.5" r="4.5"/><circle cx="212.3" cy="784.0" r="4.5"/><circle cx="213.9" cy="748.5" r="4.5"/><circle cx="215.4" cy="693.6" r="4.5"/><circle cx="216.9" cy="614.0" r="4.5"/><circle cx="218.4" cy="506.8" r="4.5"/><circle cx="220.0" cy="388.7" r="4.5"/><circle cx="221.5" cy="274.5" r="4.5"/><circle cx="223.0" cy="181.7" r="4.5"/><circle cx="224.5" cy="126.8" r="4.5"/><circle cx="226.0" cy="102.4" r="4.5"/><circle cx="227.6" cy="84.3" r="4.5"/><circle cx="229.1" cy="81.2" r="4.5"/><circle cx="230.6" cy="105.1" r="4.5"/><circle cx="232.1" cy="130.8" r="4.5"/><circle cx="233.6" cy="146.1" r="4.5"/><circle cx="235.2" cy="158.0" r="4.5"/><circle cx="236.7" cy="171.2" r="4.5"/><circle cx="238.2" cy="178.5" r="4.5"/><circle cx="239.7" cy="186.6" r="4.5"/><circle cx="241.2" cy="192.9" r="4.5"/><circle cx="242.8" cy="201.5" r="4.5"/><circle cx="244.3" cy="208.0" r="4.5"/><circle cx="245.8" cy="217.1" r="4.5"/><circle cx="247.3" cy="224.2" r="4.5"/><circle cx="248.9" cy="232.7" r="4.5"/><circle cx="250.4" cy="238.1" r="4.5"/><circle cx="251.9" cy="246.7" r="4.5"/><circle cx="253.4" cy="254.8" r="4.5"/><circle cx="254.9" cy="261.3" r="4.5"/><circle cx="256.5" cy="269.1" r="4.5"/><circle cx="258.0" cy="273.9" r="4.5"/><circle cx="259.5" cy="280.2" r="4.5"/><circle cx="261.0" cy="286.5" r="4.5"/><circle cx="262.5" cy="291.9" r="4.5"/><circle cx="264.1" cy="299.5" r="4.5"/><circle cx="265.6" cy="304.8" r="4.5"/><circle cx="267.1" cy="309.5" r="4.5"/><circle cx="268.6" cy="314.2" r="4.5"/><circle cx="270.1" cy="319.8" r="4.5"/><circle cx="271.7" cy="321.7" r="4.5"/><circle cx="273.2" cy="326.9" r="4.5"/><circle cx="274.7" cy="330.5" r="4.5"/><circle cx="276.2" cy="335.5" r="4.5"/><circle cx="277.7" cy="338.2" r="4.5"/><circle cx="279.3" cy="342.2" r="4.5"/><circle cx="280.8" cy="346.0" r="4.5"/><circle cx="282.3" cy="349.9" r="4.5"/><circle cx="283.8" cy="352.7" r="4.5"/><circle cx="285.4" cy="358.7" r="4.5"/><circle cx="286.9" cy="365.3" r="4.5"/><circle cx="288.4" cy="369.7" r="4.5"/><circle cx="289.9" cy="379.0" r="4.5"/><circle cx="291.4" cy="385.1" r="4.5"/><circle cx="293.0" cy="391.8" r="4.5"/><circle cx="294.5" cy="396.8" r="4.5"/><circle cx="296.0" cy="403.0" r="4.5"/><circle cx="297.5" cy="409.8" r="4.5"/><circle cx="299.0" cy="413.9" r="4.5"/><circle cx="300.6" cy="418.2" r="4.5"/><circle cx="302.1" cy="422.6" r="4.5"/><circle cx="303.6" cy="429.6" r="4.5"/><circle cx="305.1" cy="433.9" r="4.5"/><circle cx="306.6" cy="438.6" r="4.5"/><circle cx="308.2" cy="443.9" r="4.5"/><circle cx="309.7" cy="447.0" r="4.5"/><circle cx="311.2" cy="451.5" r="4.5"/><circle cx="312.7" cy="455.2" r="4.5"/><circle cx="314.3" cy="459.9" r="4.5"/><circle cx="315.8" cy="462.1" r="4.5"/><circle cx="317.3" cy="467.0" r="4.5"/><circle cx="318.8" cy="464.9" r="4.5"/><circle cx="320.3" cy="464.9" r="4.5"/><circle cx="321.9" cy="462.8" r="4.5"/><circle cx="323.4" cy="463.9" r="4.5"/><circle cx="324.9" cy="465.0" r="4.5"/><circle cx="326.4" cy="465.8" r="4.5"/><circle cx="327.9" cy="466.2" r="4.5"/><circle cx="329.5" cy="470.0" r="4.5"/><circle cx="331.0" cy="472.3" r="4.5"/><circle cx="332.5" cy="477.8" r="4.5"/><circle cx="334.0" cy="481.3" r="4.5"/><circle cx="335.5" cy="482.7" r="4.5"/><circle cx="337.1" cy="487.0" r="4.5"/><circle cx="338.6" cy="492.4" r="4.5"/><circle cx="340.1" cy="494.7" r="4.5"/><circle cx="341.6" cy="498.9" r="4.5"/><circle cx="343.2" cy="504.7" r="4.5"/><circle cx="344.7" cy="507.4" r="4.5"/><circle cx="346.2" cy="511.1" r="4.5"/><circle cx="347.7" cy="514.4" r="4.5"/><circle cx="349.2" cy="518.1" r="4.5"/><circle cx="350.8" cy="522.6" r="4.5"/><circle cx="352.3" cy="525.7" r="4.5"/><circle cx="353.8" cy="530.3" r="4.5"/><circle cx="355.3" cy="534.6" r="4.5"/><circle cx="356.8" cy="538.3" r="4.5"/><circle cx="358.4" cy="540.8" r="4.5"/><circle cx="359.9" cy="546.3" r="4.5"/><circle cx="361.4" cy="548.0" r="4.5"/><circle cx="362.9" cy="552.8" r="4.5"/><circle cx="364.4" cy="555.8" r="4.5"/><circle cx="366.0" cy="558.6" r="4.5"/><circle cx="367.5" cy="561.4" r="4.5"/><circle cx="369.0" cy="566.9" r="4.5"/><circle cx="370.5" cy="569.2" r="4.5"/><circle cx="372.1" cy="571.7" r="4.5"/><circle cx="373.6" cy="575.3" r="4.5"/><circle cx="375.1" cy="577.2" r="4.5"/><circle cx="376.6" cy="582.4" r="4.5"/><circle cx="378.1" cy="583.6" r="4.5"/><circle cx="379.7" cy="586.5" r="4.5"/><circle cx="381.2" cy="589.7" r="4.5"/><circle cx="382.7" cy="591.8" r="4.5"/><circle cx="384.2" cy="596.5" r="4.5"/><circle cx="385.7" cy="597.5" r="4.5"/><circle cx="387.3" cy="601.7" r="4.5"/><circle cx="388.8" cy="603.4" r="4.5"/><circle cx="390.3" cy="607.0" r="4.5"/><circle cx="391.8" cy="608.9" r="4.5"/><circle cx="393.3" cy="611.6" r="4.5"/><circle cx="394.9" cy="615.9" r="4.5"/><circle cx="396.4" cy="617.6" r="4.5"/><circle cx="397.9" cy="620.2" r="4.5"/><circle cx="399.4" cy="622.9" r="4.5"/><circle cx="401.0" cy="625.9" r="4.5"/><circle cx="402.5" cy="626.5" r="4.5"/><circle cx="404.0" cy="630.2" r="4.5"/><circle cx="405.5" cy="631.9" r="4.5"/><circle cx="407.0" cy="636.2" r="4.5"/><circle cx="408.6" cy="639.2" r="4.5"/><circle cx="410.1" cy="641.0" r="4.5"/><circle cx="411.6" cy="644.1" r="4.5"/><circle cx="413.1" cy="644.5" r="4.5"/><circle cx="414.6" cy="648.6" r="4.5"/><circle cx="416.2" cy="650.5" r="4.5"/><circle cx="417.7" cy="654.0" r="4.5"/><circle cx="419.2" cy="656.6" r="4.5"/><circle cx="420.7" cy="658.8" r="4.5"/><circle cx="422.2" cy="661.0" r="4.5"/><circle cx="423.8" cy="663.0" r="4.5"/><circle cx="425.3" cy="666.2" r="4.5"/><circle cx="426.8" cy="668.9" r="4.5"/><circle cx="428.3" cy="671.6" r="4.5"/><circle cx="429.8" cy="673.2" r="4.5"/><circle cx="431.4" cy="675.0" r="4.5"/><circle cx="432.9" cy="677.4" r="4.5"/><circle cx="434.4" cy="680.0" r="4.5"/><circle cx="435.9" cy="682.7" r="4.5"/><circle cx="437.5" cy="684.4" r="4.5"/><circle cx="439.0" cy="686.3" r="4.5"/><circle cx="440.5" cy="688.9" r="4.5"/><circle cx="442.0" cy="691.0" r="4.5"/><circle cx="443.5" cy="693.4" r="4.5"/><circle cx="445.1" cy="694.7" r="4.5"/><circle cx="446.6" cy="697.8" r="4.5"/><circle cx="448.1" cy="699.5" r="4.5"/><circle cx="449.6" cy="701.2" r="4.5"/><circle cx="451.1" cy="702.8" r="4.5"/><circle cx="452.7" cy="704.0" r="4.5"/><circle cx="454.2" cy="706.4" r="4.5"/><circle cx="455.7" cy="708.2" r="4.5"/><circle cx="457.2" cy="711.5" r="4.5"/><circle cx="458.7" cy="711.7" r="4.5"/><circle cx="460.3" cy="712.1" r="4.5"/><circle cx="461.8" cy="716.1" r="4.5"/><circle cx="463.3" cy="717.9" r="4.5"/><circle cx="464.8" cy="719.0" r="4.5"/><circle cx="466.4" cy="719.7" r="4.5"/><circle cx="467.9" cy="721.7" r="4.5"/><circle cx="469.4" cy="724.1" r="4.5"/><circle cx="470.9" cy="725.3" r="4.5"/><circle cx="472.4" cy="726.1" r="4.5"/><circle cx="474.0" cy="727.9" r="4.5"/><circle cx="475.5" cy="728.2" r="4.5"/><circle cx="477.0" cy="730.8" r="4.5"/><circle cx="478.5" cy="732.8" r="4.5"/><circle cx="480.0" cy="734.1" r="4.5"/><circle cx="481.6" cy="736.3" r="4.5"/><circle cx="483.1" cy="738.2" r="4.5"/><circle cx="484.6" cy="738.8" r="4.5"/><circle cx="486.1" cy="740.0" r="4.5"/><circle cx="487.6" cy="742.9" r="4.5"/><circle cx="489.2" cy="743.6" r="4.5"/><circle cx="490.7" cy="744.9" r="4.5"/><circle cx="492.2" cy="745.9" r="4.5"/><circle cx="493.7" cy="747.3" r="4.5"/><circle cx="495.3" cy="747.7" r="4.5"/><circle cx="496.8" cy="749.0" r="4.5"/><circle cx="498.3" cy="749.3" r="4.5"/><circle cx="499.8" cy="752.3" r="4.5"/><circle cx="501.3" cy="750.8" r="4.5"/><circle cx="502.9" cy="751.9" r="4.5"/><circle cx="504.4" cy="753.8" r="4.5"/><circle cx="505.9" cy="754.3" r="4.5"/><circle cx="507.4" cy="755.2" r="4.5"/><circle cx="508.9" cy="757.1" r="4.5"/><circle cx="510.5" cy="757.4" r="4.5"/><circle cx="512.0" cy="758.9" r="4.5"/><circle cx="513.5" cy="761.2" r="4.5"/><circle cx="515.0" cy="762.6" r="4.5"/><circle cx="516.5" cy="765.2" r="4.5"/><circle cx="518.1" cy="767.2" r="4.5"/><circle cx="519.6" cy="769.7" r="4.5"/><circle cx="521.1" cy="771.3" r="4.5"/><circle cx="522.6" cy="773.3" r="4.5"/><circle cx="524.2" cy="773.6" r="4.5"/><circle cx="525.7" cy="776.5" r="4.5"/><circle cx="527.2" cy="779.3" r="4.5"/><circle cx="528.7" cy="780.1" r="4.5"/><circle cx="530.2" cy="782.4" r="4.5"/><circle cx="531.8" cy="786.4" r="4.5"/><circle cx="533.3" cy="781.9" r="4.5"/><circle cx="534.8" cy="781.6" r="4.5"/><circle cx="536.3" cy="778.1" r="4.5"/><circle cx="537.8" cy="777.4" r="4.5"/><circle cx="539.4" cy="775.9" r="4.5"/><circle cx="540.9" cy="772.6" r="4.5"/><circle cx="542.4" cy="770.5" r="4.5"/><circle cx="543.9" cy="765.0" r="4.5"/><circle cx="545.4" cy="759.8" r="4.5"/><circle cx="547.0" cy="754.8" r="4.5"/><circle cx="548.5" cy="750.0" r="4.5"/><circle cx="550.0" cy="745.8" r="4.5"/><circle cx="551.5" cy="750.8" r="4.5"/><circle cx="553.1" cy="753.2" r="4.5"/><circle cx="554.6" cy="759.5" r="4.5"/><circle cx="556.1" cy="762.1" r="4.5"/><circle cx="557.6" cy="768.2" r="4.5"/><circle cx="559.1" cy="777.5" r="4.5"/><circle cx="560.7" cy="788.1" r="4.5"/><circle cx="562.2" cy="800.2" r="4.5"/><circle cx="563.7" cy="801.9" r="4.5"/><circle cx="565.2" cy="804.3" r="4.5"/><circle cx="566.7" cy="807.1" r="4.5"/><circle cx="568.3" cy="810.5" r="4.5"/><circle cx="569.8" cy="812.9" r="4.5"/><circle cx="571.3" cy="816.1" r="4.5"/><circle cx="572.8" cy="818.0" r="4.5"/><circle cx="574.3" cy="816.6" r="4.5"/><circle cx="575.9" cy="818.0" r="4.5"/><circle cx="577.4" cy="816.8" r="4.5"/><circle cx="578.9" cy="817.7" r="4.5"/><circle cx="580.4" cy="819.0" r="4.5"/><circle cx="581.9" cy="818.7" r="4.5"/><circle cx="583.5" cy="819.0" r="4.5"/><circle cx="585.0" cy="819.6" r="4.5"/><circle cx="586.5" cy="818.8" r="4.5"/><circle cx="588.0" cy="819.9" r="4.5"/><circle cx="589.6" cy="818.6" r="4.5"/><circle cx="591.1" cy="819.5" r="4.5"/><circle cx="592.6" cy="821.1" r="4.5"/><circle cx="594.1" cy="820.8" r="4.5"/><circle cx="595.6" cy="821.3" r="4.5"/><circle cx="597.2" cy="822.6" r="4.5"/><circle cx="598.7" cy="821.0" r="4.5"/><circle cx="600.2" cy="821.2" r="4.5"/><circle cx="601.7" cy="821.5" r="4.5"/><circle cx="603.2" cy="822.8" r="4.5"/><circle cx="604.8" cy="822.0" r="4.5"/><circle cx="606.3" cy="823.2" r="4.5"/><circle cx="607.8" cy="822.6" r="4.5"/><circle cx="609.3" cy="822.2" r="4.5"/><circle cx="610.8" cy="823.6" r="4.5"/><circle cx="612.4" cy="825.3" r="4.5"/><circle cx="613.9" cy="824.9" r="4.5"/><circle cx="615.4" cy="824.7" r="4.5"/><circle cx="616.9" cy="824.7" r="4.5"/><circle cx="618.5" cy="826.9" r="4.5"/><circle cx="620.0" cy="826.6" r="4.5"/><circle cx="621.5" cy="826.7" r="4.5"/><circle cx="623.0" cy="827.0" r="4.5"/><circle cx="624.5" cy="827.1" r="4.5"/><circle cx="626.1" cy="828.9" r="4.5"/><circle cx="627.6" cy="828.9" r="4.5"/><circle cx="629.1" cy="828.3" r="4.5"/><circle cx="630.6" cy="829.1" r="4.5"/><circle cx="632.1" cy="829.5" r="4.5"/><circle cx="633.7" cy="829.4" r="4.5"/><circle cx="635.2" cy="830.5" r="4.5"/><circle cx="636.7" cy="830.6" r="4.5"/><circle cx="638.2" cy="831.6" r="4.5"/><circle cx="639.7" cy="832.7" r="4.5"/><circle cx="641.3" cy="833.1" r="4.5"/><circle cx="642.8" cy="832.4" r="4.5"/><circle cx="644.3" cy="833.0" r="4.5"/><circle cx="645.8" cy="833.7" r="4.5"/><circle cx="647.4" cy="833.3" r="4.5"/><circle cx="648.9" cy="834.5" r="4.5"/><circle cx="650.4" cy="834.1" r="4.5"/><circle cx="651.9" cy="834.6" r="4.5"/><circle cx="653.4" cy="835.5" r="4.5"/><circle cx="655.0" cy="836.9" r="4.5"/><circle cx="656.5" cy="834.4" r="4.5"/><circle cx="658.0" cy="835.6" r="4.5"/><circle cx="659.5" cy="838.2" r="4.5"/><circle cx="661.0" cy="836.8" r="4.5"/><circle cx="662.6" cy="836.5" r="4.5"/><circle cx="664.1" cy="837.3" r="4.5"/><circle cx="665.6" cy="836.9" r="4.5"/><circle cx="667.1" cy="838.4" r="4.5"/><circle cx="668.6" cy="837.8" r="4.5"/><circle cx="670.2" cy="838.3" r="4.5"/><circle cx="671.7" cy="838.7" r="4.5"/><circle cx="673.2" cy="839.0" r="4.5"/><circle cx="674.7" cy="838.9" r="4.5"/><circle cx="676.3" cy="838.7" r="4.5"/><circle cx="677.8" cy="840.1" r="4.5"/><circle cx="679.3" cy="840.3" r="4.5"/><circle cx="680.8" cy="840.2" r="4.5"/><circle cx="682.3" cy="840.7" r="4.5"/><circle cx="683.9" cy="840.7" r="4.5"/><circle cx="685.4" cy="840.7" r="4.5"/><circle cx="686.9" cy="840.6" r="4.5"/><circle cx="688.4" cy="841.9" r="4.5"/><circle cx="689.9" cy="843.8" r="4.5"/><circle cx="691.5" cy="842.5" r="4.5"/><circle cx="693.0" cy="842.4" r="4.5"/><circle cx="694.5" cy="843.1" r="4.5"/><circle cx="696.0" cy="843.4" r="4.5"/><circle cx="697.5" cy="845.3" r="4.5"/><circle cx="699.1" cy="843.4" r="4.5"/><circle cx="700.6" cy="844.3" r="4.5"/><circle cx="702.1" cy="845.5" r="4.5"/><circle cx="703.6" cy="845.2" r="4.5"/><circle cx="705.2" cy="845.5" r="4.5"/><circle cx="706.7" cy="844.6" r="4.5"/><circle cx="708.2" cy="844.9" r="4.5"/><circle cx="709.7" cy="844.5" r="4.5"/><circle cx="711.2" cy="845.4" r="4.5"/><circle cx="712.8" cy="847.1" r="4.5"/><circle cx="714.3" cy="847.4" r="4.5"/><circle cx="715.8" cy="845.7" r="4.5"/><circle cx="717.3" cy="845.6" r="4.5"/><circle cx="718.8" cy="847.2" r="4.5"/><circle cx="720.4" cy="846.8" r="4.5"/><circle cx="721.9" cy="848.6" r="4.5"/><circle cx="723.4" cy="849.1" r="4.5"/><circle cx="724.9" cy="848.8" r="4.5"/><circle cx="726.4" cy="848.4" r="4.5"/><circle cx="728.0" cy="848.7" r="4.5"/><circle cx="729.5" cy="848.7" r="4.5"/><circle cx="731.0" cy="849.1" r="4.5"/><circle cx="732.5" cy="848.5" r="4.5"/><circle cx="734.0" cy="848.1" r="4.5"/><circle cx="735.6" cy="849.3" r="4.5"/><circle cx="737.1" cy="848.1" r="4.5"/><circle cx="738.6" cy="850.2" r="4.5"/><circle cx="740.1" cy="850.4" r="4.5"/><circle cx="741.7" cy="849.9" r="4.5"/><circle cx="743.2" cy="850.6" r="4.5"/><circle cx="744.7" cy="849.7" r="4.5"/><circle cx="746.2" cy="851.2" r="4.5"/><circle cx="747.7" cy="849.9" r="4.5"/><circle cx="749.3" cy="851.0" r="4.5"/><circle cx="750.8" cy="849.4" r="4.5"/><circle cx="752.3" cy="851.8" r="4.5"/><circle cx="753.8" cy="851.8" r="4.5"/><circle cx="755.3" cy="851.7" r="4.5"/><circle cx="756.9" cy="853.6" r="4.5"/><circle cx="758.4" cy="851.7" r="4.5"/><circle cx="759.9" cy="852.0" r="4.5"/><circle cx="761.4" cy="852.4" r="4.5"/><circle cx="762.9" cy="853.8" r="4.5"/><circle cx="764.5" cy="854.0" r="4.5"/><circle cx="766.0" cy="852.6" r="4.5"/><circle cx="767.5" cy="852.3" r="4.5"/><circle cx="769.0" cy="852.1" r="4.5"/><circle cx="770.6" cy="854.1" r="4.5"/><circle cx="772.1" cy="854.4" r="4.5"/><circle cx="773.6" cy="854.0" r="4.5"/><circle cx="775.1" cy="855.4" r="4.5"/><circle cx="776.6" cy="854.5" r="4.5"/><circle cx="778.2" cy="853.6" r="4.5"/><circle cx="779.7" cy="853.1" r="4.5"/><circle cx="781.2" cy="854.3" r="4.5"/><circle cx="782.7" cy="853.4" r="4.5"/><circle cx="784.2" cy="854.5" r="4.5"/><circle cx="785.8" cy="854.8" r="4.5"/><circle cx="787.3" cy="855.2" r="4.5"/><circle cx="788.8" cy="855.0" r="4.5"/><circle cx="790.3" cy="855.5" r="4.5"/><circle cx="791.8" cy="855.5" r="4.5"/><circle cx="793.4" cy="856.1" r="4.5"/><circle cx="794.9" cy="855.5" r="4.5"/><circle cx="796.4" cy="855.8" r="4.5"/><circle cx="797.9" cy="857.0" r="4.5"/><circle cx="799.5" cy="856.2" r="4.5"/><circle cx="801.0" cy="856.8" r="4.5"/><circle cx="802.5" cy="857.8" r="4.5"/><circle cx="804.0" cy="856.0" r="4.5"/><circle cx="805.5" cy="855.4" r="4.5"/><circle cx="807.1" cy="854.9" r="4.5"/><circle cx="808.6" cy="855.6" r="4.5"/><circle cx="810.1" cy="857.5" r="4.5"/><circle cx="811.6" cy="856.1" r="4.5"/><circle cx="813.1" cy="856.2" r="4.5"/><circle cx="814.7" cy="858.7" r="4.5"/><circle cx="816.2" cy="856.6" r="4.5"/><circle cx="817.7" cy="856.9" r="4.5"/><circle cx="819.2" cy="857.4" r="4.5"/><circle cx="820.7" cy="857.4" r="4.5"/><circle cx="822.3" cy="857.6" r="4.5"/><circle cx="823.8" cy="856.6" r="4.5"/><circle cx="825.3" cy="858.2" r="4.5"/><circle cx="826.8" cy="858.1" r="4.5"/>
</g>
<path d="M156.1 826.6 156.4 826.6 156.7 826.6 157.0 826.6 157.3 826.6 157.6 826.6 157.9 826.6 158.2 826.6 158.5 826.6 158.8 826.6 159.1 826.6 159.4 826.6 159.7 826.6 160.0 826.6 160.3 826.6 160.6 826.6 160.9 826.6 161.2 826.6 161.5 826.6 161.8 826.6 162.2 826.6 162.5 826.6 162.8 826.6 163.1 826.6 163.4 826.6 163.7 826.6 164.0 826.6 164.3 826.6 164.6 826.6 164.9 826.6 165.2 826.6 165.5 826.6 165.8 826.6 166.1 826.6 166.4 826.6 166.7 826.6 167.0 826.6 167.3 826.6 167.6 826.6 167.9 826.6 168.2 826.6 168.5 826.6 168.8 826.6 169.1 826.6 169.5 826.6 169.8 826.6 170.1 826.6 170.4 826.6 170.7 826.6 171.0 826.6 171.3 826.6 171.6 826.6 171.9 826.6 172.2 826.6 172.5 826.6 172.8 826.6 173.1 826.6 173.4 826.6 173.7 826.6 174.0 826.6 174.3 826.6 174.6 826.6 174.9 826.6 175.2 826.6 175.5 826.6 175.8 826.6 176.1 826.6 176.5 826.6 176.8 826.6 177.1 826.6 177.4 826.6 177.7 826.6 178.0 826.6 178.3 826.6 178.6 826.6 178.9 826.6 179.2 826.6 179.5 826.6 179.8 826.6 180.1 826.6 180.4 826.6 180.7 826.6 181.0 826.6 181.3 826.6 181.6 826.6 181.9 826.6 182.2 826.6 182.5 826.6 182.8 826.6 183.1 826.6 183.4 826.6 183.8 826.6 184.1 826.6 184.4 826.6 184.7 826.6 185.0 826.6 185.3 826.6 185.6 826.6 185.9 826.6 186.2 826.6 186.5 826.6 186.8 826.6 187.1 826.6 187.4 826.6 187.7 826.6 188.0 826.6 188.3 826.6 188.6 826.6 188.9 826.6 189.2 826.6 189.5 826.6 189.8 826.6 190.1 826.6 190.4 826.6 190.7 826.6 191.1 826.6 191.4 826.6 191.7 826.6 192.0 826.6 192.3 826.6 192.6 826.6 192.9 826.6 193.2 826.6 193.5 826.6 193.8 826.6 194.1 826.6 194.4 826.6 194.7 826.6 195.0 826.6 195.3 826.6 195.6 826.6 195.9 826.6 196.2 826.6 196.5 826.6 196.8 826.6 197.1 826.6 197.4 826.6 197.7 826.6 198.0 826.6 198.4 826.6 198.7 826.6 199.0 826.6 199.3 826.6 199.6 826.5 199.9 826.5 200.2 826.4 200.5 826.4 200.8 826.3 201.1 826.2 201.4 826.1 201.7 826.0 202.0 825.8 202.3 825.6 202.6 825.4 202.9 825.1 203.2 824.8 203.5 824.5 203.8 824.1 204.1 823.6 204.4 823.2 204.7 822.6 205.0 822.0 205.3 821.4 205.7 820.7 206.0 820.0 206.3 819.2 206.6 818.4 206.9 817.5 207.2 816.6 207.5 815.7 207.8 814.7 208.1 813.6 208.4 812.5 208.7 811.3 209.0 810.1 209.3 808.7 209.6 807.2 209.9 805.5 210.2 803.7 210.5 801.7 210.8 799.3 211.1 796.7 211.4 793.7 211.7 790.3 212.0 786.4 212.3 782.0 212.7 777.0 213.0 771.3 213.3 764.9 213.6 757.6 213.9 749.6 214.2 740.6 214.5 730.6 214.8 719.6 215.1 707.6 215.4 694.5 215.7 680.3 216.0 665.0 216.3 648.6 216.6 631.2 216.9 612.7 217.2 593.2 217.5 572.9 217.8 551.6 218.1 529.7 218.4 507.1 218.7 484.0 219.0 460.6 219.3 436.8 219.6 413.0 220.0 389.1 220.3 365.5 220.6 342.1 220.9 319.1 221.2 296.8 221.5 275.1 221.8 254.2 222.1 234.4 222.4 215.6 222.7 198.0 223.0 181.9 223.3 167.4 223.6 154.7 223.9 143.8 224.2 134.7 224.5 127.6 224.8 122.1 225.1 118.1 225.4 115.3 225.7 113.4 226.0 112.4 226.3 111.9 226.6 111.9 226.9 112.3 227.3 112.9 227.6 113.7 227.9 114.6 228.2 115.7 228.5 116.9 228.8 118.1 229.1 119.4 229.4 120.7 229.7 122.1 230.0 123.4 230.3 124.8 230.6 126.3 230.9 127.7 231.2 129.1 231.5 130.6 231.8 132.0 232.1 133.5 232.4 134.9 232.7 136.4 233.0 137.9 233.3 139.3 233.6 140.8 233.9 142.3 234.2 143.7 234.6 145.2 234.9 146.7 235.2 148.1 235.5 149.6 235.8 151.0 236.1 152.5 236.4 154.0 236.7 155.4 237.0 156.9 237.3 158.3 237.6 159.8 237.9 161.2 238.2 162.7 238.5 164.2 238.8 165.6 239.1 167.0 239.4 168.5 239.7 169.9 240.0 171.4 240.3 172.8 240.6 174.3 240.9 175.7 241.2 177.1 241.5 178.6 241.9 180.0 242.2 181.4 242.5 182.8 242.8 184.3 243.1 185.7 243.4 187.1 243.7 188.5 244.0 189.9 244.3 191.3 244.6 192.8 244.9 194.2 245.2 195.6 245.5 197.0 245.8 198.4 246.1 199.8 246.4 201.2 246.7 202.5 247.0 203.9 247.3 205.3 247.6 206.7 247.9 208.1 248.2 209.5 248.5 210.8 248.8 212.2 249.2 213.6 249.5 215.0 249.8 216.3 250.1 217.7 250.4 219.1 250.7 220.4 251.0 221.8 251.3 223.1 251.6 224.5 251.9 225.8 252.2 227.2 252.5 228.5 252.8 229.9 253.1 231.2 253.4 232.5 253.7 233.9 254.0 235.2 254.3 236.5 254.6 237.8 254.9 239.2 255.2 240.5 255.5 241.8 255.8 243.1 256.2 244.4 256.5 245.7 256.8 247.0 257.1 248.3 257.4 249.6 257.7 250.9 258.0 252.2 258.3 253.5 258.6 254.8 258.9 256.1 259.2 257.4 259.5 258.7 259.8 260.0 260.1 261.2 260.4 262.5 260.7 263.8 261.0 265.1 261.3 266.3 261.6 267.6 261.9 268.8 262.2 270.1 262.5 271.4 262.8 272.6 263.1 273.9 263.5 275.1 263.8 276.4 264.1 277.6 264.4 278.8 264.7 280.1 265.0 281.3 265.3 282.6 265.6 283.8 265.9 285.0 266.2 286.2 266.5 287.5 266.8 288.7 267.1 289.9 267.4 291.1 267.7 292.3 268.0 293.5 268.3 294.7 268.6 296.0 268.9 297.2 269.2 298.4 269.5 299.6 269.8 300.7 270.1 301.9 270.4 303.1 270.8 304.3 271.1 305.5 271.4 306.7 271.7 307.9 272.0 309.0 272.3 310.2 272.6 311.4 272.9 312.6 273.2 313.7 273.5 314.9 273.8 316.1 274.1 317.2 274.4 318.4 274.7 319.5 275.0 320.7 275.3 321.8 275.6 323.0 275.9 324.1 276.2 325.3 276.5 326.4 276.8 327.6 277.1 328.7 277.4 329.8 277.7 331.0 278.1 332.1 278.4 333.2 278.7 334.3 279.0 335.5 279.3 336.6 279.6 337.7 279.9 338.8 280.2 339.9 280.5 341.0 280.8 342.2 281.1 343.3 281.4 344.4 281.7 345.5 282.0 346.6 282.3 347.7 282.6 348.8 282.9 349.8 283.2 350.9 283.5 352.0 283.8 353.1 284.1 354.2 284.4 355.3 284.7 356.4 285.0 357.4 285.4 358.5 285.7 359.6 286.0 360.6 286.3 361.7 286.6 362.8 286.9 363.8 287.2 364.9 287.5 366.0 287.8 367.0 288.1 368.1 288.4 369.1 288.7 370.2 289.0 371.2 289.3 372.3 289.6 373.3 289.9 374.3 290.2 375.4 290.5 376.4 290.8 377.5 291.1 378.5 291.4 379.5 291.7 380.5 292.0 381.6 292.4 382.6 292.7 383.6 293.0 384.6 293.3 385.7 293.6 386.7 293.9 387.7 294.2 388.7 294.5 389.7 294.8 390.7 295.1 391.7 295.4 392.7 295.7 393.7 296.0 394.7 296.3 395.7 296.6 396.7 296.9 397.7 297.2 398.7 297.5 399.7 297.8 400.6 298.1 401.6 298.4 402.6 298.7 403.6 299.0 404.6 299.3 405.5 299.7 406.5 300.0 407.5 300.3 408.5 300.6 409.4 300.9 410.4 301.2 411.3 301.5 412.3 301.8 413.3 302.1 414.2 302.4 415.2 302.7 416.1 303.0 417.1 303.3 418.0 303.6 419.0 303.9 419.9 304.2 420.9 304.5 421.8 304.8 422.7 305.1 423.7 305.4 424.6 305.7 425.5 306.0 426.5 306.3 427.4 306.6 428.3 307.0 429.3 307.3 430.2 307.6 431.1 307.9 432.0 308.2 432.9 308.5 433.9 308.8 434.8 309.1 435.7 309.4 436.6 309.7 437.5 310.0 438.4 310.3 439.3 310.6 440.2 310.9 441.1 311.2 442.0 311.5 442.9 311.8 443.8 312.1 444.7 312.4 445.6 312.7 446.5 313.0 447.3 313.3 448.2 313.6 449.1 313.9 450.0 314.3 450.9 314.6 451.8 314.9 452.6 315.2 453.5 315.5 454.4 315.8 455.2 316.1 456.1 316.4 457.0 316.7 457.8 317.0 458.7 317.3 459.6 317.6 460.4 317.9 461.3 318.2 462.1 318.5 463.0 318.8 463.8 319.1 464.7 319.4 465.5 319.7 466.4 320.0 467.2 320.3 468.1 320.6 468.9 320.9 469.8 321.2 470.6 321.6 471.4 321.9 472.3 322.2 473.1 322.5 473.9 322.8 474.8 323.1 475.6 323.4 476.4 323.7 477.2 324.0 478.1 324.3 478.9 324.6 479.7 324.9 480.5 325.2 481.3 325.5 482.1 325.8 482.9 326.1 483.8 326.4 484.6 326.7 485.4 327.0 486.2 327.3 487.0 327.6 487.8 327.9 488.6 328.2 489.4 328.6 490.2 328.9 491.0 329.2 491.8 329.5 492.6 329.8 493.3 330.1 494.1 330.4 494.9 330.7 495.7 331.0 496.5 331.3 497.3 331.6 498.0 331.9 498.8 332.2 499.6 332.5 500.4 332.8 501.1 333.1 501.9 333.4 502.7 333.7 503.5 334.0 504.2 334.3 505.0 334.6 505.7 334.9 506.5 335.2 507.3 335.5 508.0 335.9 508.8 336.2 509.5 336.5 510.3 336.8 511.0 337.1 511.8 337.4 512.5 337.7 513.3 338.0 514.0 338.3 514.8 338.6 515.5 338.9 516.3 339.2 517.0 339.5 517.7 339.8 518.5 340.1 519.2 340.4 520.0 340.7 520.7 341.0 521.4 341.3 522.1 341.6 522.9 341.9 523.6 342.2 524.3 342.5 525.0 342.8 525.8 343.2 526.5 343.5 527.2 343.8 527.9 344.1 528.6 344.4 529.3 344.7 530.1 345.0 530.8 345.3 531.5 345.6 532.2 345.9 532.9 346.2 533.6 346.5 534.3 346.8 535.0 347.1 535.7 347.4 536.4 347.7 537.1 348.0 537.8 348.3 538.5 348.6 539.2 348.9 539.9 349.2 540.6 349.5 541.2 349.8 541.9 350.1 542.6 350.5 543.3 350.8 544.0 351.1 544.7 351.4 545.3 351.7 546.0 352.0 546.7 352.3 547.4 352.6 548.1 352.9 548.7 353.2 549.4 353.5 550.1 353.8 550.7 354.1 551.4 354.4 552.1 354.7 552.7 355.0 553.4 355.3 554.1 355.6 554.7 355.9 555.4 356.2 556.0 356.5 556.7 356.8 557.3 357.1 558.0 357.4 558.6 357.8 559.3 358.1 559.9 358.4 560.6 358.7 561.2 359.0 561.9 359.3 562.5 359.6 563.2 359.9 563.8 360.2 564.4 360.5 565.1 360.8 565.7 361.1 566.4 361.4 567.0 361.7 567.6 362.0 568.3 362.3 568.9 362.6 569.5 362.9 570.1 363.2 570.8 363.5 571.4 363.8 572.0 364.1 572.6 364.4 573.3 364.8 573.9 365.1 574.5 365.4 575.1 365.7 575.7 366.0 576.3 366.3 577.0 366.6 577.6 366.9 578.2 367.2 578.8 367.5 579.4 367.8 580.0 368.1 580.6 368.4 581.2 368.7 581.8 369.0 582.4 369.3 583.0 369.6 583.6 369.9 584.2 370.2 584.8 370.5 585.4 370.8 586.0 371.1 586.6 371.4 587.2 371.7 587.8 372.1 588.4 372.4 588.9 372.7 589.5 373.0 590.1 373.3 590.7 373.6 591.3 373.9 591.9 374.2 592.4 374.5 593.0 374.8 593.6 375.1 594.2 375.4 594.8 375.7 595.3 376.0 595.9 376.3 596.5 376.6 597.0 376.9 597.6 377.2 598.2 377.5 598.8 377.8 599.3 378.1 599.9 378.4 600.4 378.7 601.0 379.0 601.6 379.4 602.1 379.7 602.7 380.0 603.2 380.3 603.8 380.6 604.4 380.9 604.9 381.2 605.5 381.5 606.0 381.8 606.6 382.1 607.1 382.4 607.7 382.7 608.2 383.0 608.8 383.3 609.3 383.6 609.8 383.9 610.4 384.2 610.9 384.5 611.5 384.8 612.0 385.1 612.5 385.4 613.1 385.7 613.6 386.0 614.2 386.3 614.7 386.7 615.2 387.0 615.7 387.3 616.3 387.6 616.8 387.9 617.3 388.2 617.9 388.5 618.4 388.8 618.9 389.1 619.4 389.4 620.0 389.7 620.5 390.0 621.0 390.3 621.5 390.6 622.0 390.9 622.6 391.2 623.1 391.5 623.6 391.8 624.1 392.1 624.6 392.4 625.1 392.7 625.6 393.0 626.1 393.3 626.6 393.6 627.2 394.0 627.7 394.3 628.2 394.6 628.7 394.9 629.2 395.2 629.7 395.5 630.2 395.8 630.7 396.1 631.2 396.4 631.7 396.7 632.2 397.0 632.7 397.3 633.2 397.6 633.6 397.9 634.1 398.2 634.6 398.5 635.1 398.8 635.6 399.1 636.1 399.4 636.6 399.7 637.1 400.0 637.6 400.3 638.0 400.6 638.5 400.9 639.0 401.3 639.5 401.6 640.0 401.9 640.4 402.2 640.9 402.5 641.4 402.8 641.9 403.1 642.4 403.4 642.8 403.7 643.3 404.0 643.8 404.3 644.2 404.6 644.7 404.9 645.2 405.2 645.6 405.5 646.1 405.8 646.6 406.1 647.0 406.4 647.5 406.7 648.0 407.0 648.4 407.3 648.9 407.6 649.4 407.9 649.8 408.3 650.3 408.6 650.7 408.9 651.2 409.2 651.6 409.5 652.1 409.8 652.6 410.1 653.0 410.4 653.5 410.7 653.9 411.0 654.4 411.3 654.8 411.6 655.3 411.9 655.7 412.2 656.1 412.5 656.6 412.8 657.0 413.1 657.5 413.4 657.9 413.7 658.4 414.0 658.8 414.3 659.2 414.6 659.7 414.9 660.1 415.2 660.6 415.6 661.0 415.9 661.4 416.2 661.9 416.5 662.3 416.8 662.7 417.1 663.2 417.4 663.6 417.7 664.0 418.0 664.4 418.3 664.9 418.6 665.3 418.9 665.7 419.2 666.1 419.5 666.6 419.8 667.0 420.1 667.4 420.4 667.8 420.7 668.3 421.0 668.7 421.3 669.1 421.6 669.5 421.9 669.9 422.2 670.3 422.5 670.8 422.9 671.2 423.2 671.6 423.5 672.0 423.8 672.4 424.1 672.8 424.4 673.2 424.7 673.6 425.0 674.0 425.3 674.5 425.6 674.9 425.9 675.3 426.2 675.7 426.5 676.1 426.8 676.5 427.1 676.9 427.4 677.3 427.7 677.7 428.0 678.1 428.3 678.5 428.6 678.9 428.9 679.3 429.2 679.7 429.5 680.1 429.8 680.5 430.2 680.9 430.5 681.2 430.8 681.6 431.1 682.0 431.4 682.4 431.7 682.8 432.0 683.2 432.3 683.6 432.6 684.0 432.9 684.4 433.2 684.7 433.5 685.1 433.8 685.5 434.1 685.9 434.4 686.3 434.7 686.7 435.0 687.0 435.3 687.4 435.6 687.8 435.9 688.2 436.2 688.6 436.5 688.9 436.8 689.3 437.1 689.7 437.5 690.1 437.8 690.4 438.1 690.8 438.4 691.2 438.7 691.5 439.0 691.9 439.3 692.3 439.6 692.7 439.9 693.0 440.2 693.4 440.5 693.8 440.8 694.1 441.1 694.5 441.4 694.8 441.7 695.2 442.0 695.6 442.3 695.9 442.6 696.3 442.9 696.7 443.2 697.0 443.5 697.4 443.8 697.7 444.1 698.1 444.5 698.4 444.8 698.8 445.1 699.2 445.4 699.5 445.7 699.9 446.0 700.2 446.3 700.6 446.6 700.9 446.9 701.3 447.2 701.6 447.5 702.0 447.8 702.3 448.1 702.7 448.4 703.0 448.7 703.4 449.0 703.7 449.3 704.1 449.6 704.4 449.9 704.7 450.2 705.1 450.5 705.4 450.8 705.8 451.1 706.1 451.4 706.4 451.8 706.8 452.1 707.1 452.4 707.5 452.7 707.8 453.0 708.1 453.3 708.5 453.6 708.8 453.9 709.1 454.2 709.5 454.5 709.8 454.8 710.1 455.1 710.5 455.4 710.8 455.7 711.1 456.0 711.5 456.3 711.8 456.6 712.1 456.9 712.4 457.2 712.8 457.5 713.1 457.8 713.4 458.1 713.7 458.4 714.1 458.7 714.4 459.1 714.7 459.4 715.0 459.7 715.3 460.0 715.7 460.3 716.0 460.6 716.3 460.9 716.6 461.2 716.9 461.5 717.3 461.8 717.6 462.1 717.9 462.4 718.2 462.7 718.5 463.0 718.8 463.3 719.1 463.6 719.5 463.9 719.8 464.2 720.1 464.5 720.4 464.8 720.7 465.1 721.0 465.4 721.3 465.7 721.6 466.0 721.9 466.4 722.2 466.7 722.5 467.0 722.8 467.3 723.2 467.6 723.5 467.9 723.8 468.2 724.1 468.5 724.4 468.8 724.7 469.1 725.0 469.4 725.3 469.7 725.6 470.0 725.9 470.3 726.2 470.6 726.5 470.9 726.8 471.2 727.1 471.5 727.3 471.8 727.6 472.1 727.9 472.4 728.2 472.7 728.5 473.0 728.8 473.3 729.1 473.7 729.4 474.0 729.7 474.3 730.0 474.6 730.3 474.9 730.6 475.2 730.8 475.5 731.1 475.8 731.4 476.1 731.7 476.4 732.0 476.7 732.3 477.0 732.6 477.3 732.8 477.6 733.1 477.9 733.4 478.2 733.7 478.5 734.0 478.8 734.3 479.1 734.5 479.4 734.8 479.7 735.1 480.0 735.4 480.3 735.7 480.7 735.9 481.0 736.2 481.3 736.5 481.6 736.8 481.9 737.0 482.2 737.3 482.5 737.6 482.8 737.9 483.1 738.1 483.4 738.4 483.7 738.7 484.0 738.9 484.3 739.2 484.6 739.5 484.9 739.8 485.2 740.0 485.5 740.3 485.8 740.6 486.1 740.8 486.4 741.1 486.7 741.4 487.0 741.6 487.3 741.9 487.6 742.2 488.0 742.4 488.3 742.7 488.6 742.9 488.9 743.2 489.2 743.5 489.5 743.7 489.8 744.0 490.1 744.2 490.4 744.5 490.7 744.8 491.0 745.0 491.3 745.3 491.6 745.5 491.9 745.8 492.2 746.0 492.5 746.3 492.8 746.6 493.1 746.8 493.4 747.1 493.7 747.3 494.0 747.6 494.3 747.8 494.6 748.1 494.9 748.3 495.3 748.6 495.6 748.8 495.9 749.1 496.2 749.3 496.5 749.6 496.8 749.8 497.1 750.1 497.4 750.3 497.7 750.6 498.0 750.8 498.3 751.1 498.6 751.3 498.9 751.5 499.2 751.8 499.5 752.0 499.8 752.3 500.1 752.5 500.4 752.8 500.7 753.0 501.0 753.2 501.3 753.5 501.6 753.7 501.9 754.0 502.2 754.2 502.6 754.4 502.9 754.7 503.2 754.9 503.5 755.2 503.8 755.4 504.1 755.6 504.4 755.9 504.7 756.1 505.0 756.3 505.3 756.6 505.6 756.8 505.9 757.0 506.2 757.3 506.5 757.5 506.8 757.7 507.1 758.0 507.4 758.2 507.7 758.4 508.0 758.6 508.3 758.9 508.6 759.1 508.9 759.3 509.2 759.6 509.5 759.8 509.9 760.0 510.2 760.2 510.5 760.5 510.8 760.7 511.1 760.9 511.4 761.1 511.7 761.4 512.0 761.6 512.3 761.8 512.6 762.0 512.9 762.3 513.2 762.5 513.5 762.7 513.8 762.9 514.1 763.1 514.4 763.4 514.7 763.6 515.0 763.8 515.3 764.0 515.6 764.2 515.9 764.4 516.2 764.7 516.5 764.9 516.9 765.1 517.2 765.3 517.5 765.5 517.8 765.7 518.1 766.0 518.4 766.2 518.7 766.4 519.0 766.6 519.3 766.8 519.6 767.0 519.9 767.2 520.2 767.4 520.5 767.6 520.8 767.9 521.1 768.1 521.4 768.3 521.7 768.5 522.0 768.7 522.3 768.9 522.6 769.1 522.9 769.3 523.2 769.5 523.5 769.7 523.8 769.9 524.2 770.1 524.5 770.3 524.8 770.5 525.1 770.8 525.4 771.0 525.7 771.2 526.0 771.4 526.3 771.6 526.6 771.8 526.9 772.0 527.2 772.2 527.5 772.4 527.8 772.6 528.1 772.8 528.4 773.0 528.7 773.2 529.0 773.4 529.3 773.6 529.6 773.8 529.9 774.0 530.2 774.2 530.5 774.3 530.8 774.5 531.1 774.7 531.5 774.9 531.8 775.1 532.1 775.3 532.4 775.5 532.7 775.7 533.0 775.9 533.3 776.1 533.6 776.3 533.9 776.5 534.2 776.7 534.5 776.9 534.8 777.1 535.1 777.2 535.4 777.4 535.7 777.6 536.0 777.8 536.3 778.0 536.6 778.2 536.9 778.4 537.2 778.6 537.5 778.8 537.8 778.9 538.1 779.1 538.4 779.3 538.8 779.5 539.1 779.7 539.4 779.9 539.7 780.0 540.0 780.2 540.3 780.4 540.6 780.6 540.9 780.8 541.2 781.0 541.5 781.1 541.8 781.3 542.1 781.5 542.4 781.7 542.7 781.9 543.0 782.1 543.3 782.2 543.6 782.4 543.9 782.6 544.2 782.8 544.5 782.9 544.8 783.1 545.1 783.3 545.4 783.5 545.7 783.7 546.1 783.8 546.4 784.0 546.7 784.2 547.0 784.4 547.3 784.5 547.6 784.7 547.9 784.9 548.2 785.1 548.5 785.2 548.8 785.4 549.1 785.6 549.4 785.7 549.7 785.9 550.0 786.1 550.3 786.3 550.6 786.4 550.9 786.6 551.2 786.8 551.5 786.9 551.8 787.1 552.1 787.3 552.4 787.4 552.7 787.6 553.0 787.8 553.4 788.0 553.7 788.1 554.0 788.3 554.3 788.5 554.6 788.6 554.9 788.8 555.2 788.9 555.5 789.1 555.8 789.3 556.1 789.4 556.4 789.6 556.7 789.8 557.0 789.9 557.3 790.1 557.6 790.3 557.9 790.4 558.2 790.6 558.5 790.7 558.8 790.9 559.1 791.1 559.4 791.2 559.7 791.4 560.0 791.5 560.4 791.7 560.7 791.9 561.0 792.0 561.3 792.2 561.6 792.3 561.9 792.5 562.2 792.7 562.5 792.8 562.8 793.0 563.1 793.1 563.4 793.3 563.7 793.4 564.0 793.6 564.3 793.8 564.6 793.9 564.9 794.1 565.2 794.2 565.5 794.4 565.8 794.5 566.1 794.7 566.4 794.8 566.7 795.0 567.0 795.1 567.3 795.3 567.7 795.4 568.0 795.6 568.3 795.7 568.6 795.9 568.9 796.0 569.2 796.2 569.5 796.3 569.8 796.5 570.1 796.6 570.4 796.8 570.7 796.9 571.0 797.1 571.3 797.2 571.6 797.4 571.9 797.5 572.2 797.7 572.5 797.8 572.8 798.0 573.1 798.1 573.4 798.3 573.7 798.4 574.0 798.6 574.3 798.7 574.6 798.8 575.0 799.0 575.3 799.1 575.6 799.3 575.9 799.4 576.2 799.6 576.5 799.7 576.8 799.8 577.1 800.0 577.4 800.1 577.7 800.3 578.0 800.4 578.3 800.6 578.6 800.7 578.9 800.8 579.2 801.0 579.5 801.1 579.8 801.3 580.1 801.4 580.4 801.5 580.7 801.7 581.0 801.8 581.3 801.9 581.6 802.1 581.9 802.2 582.3 802.4 582.6 802.5 582.9 802.6 583.2 802.8 583.5 802.9 583.8 803.0 584.1 803.2 584.4 803.3 584.7 803.4 585.0 803.6 585.3 803.7 585.6 803.9 585.9 804.0 586.2 804.1 586.5 804.3 586.8 804.4 587.1 804.5 587.4 804.6 587.7 804.8 588.0 804.9 588.3 805.0 588.6 805.2 588.9 805.3 589.2 805.4 589.6 805.6 589.9 805.7 590.2 805.8 590.5 806.0 590.8 806.1 591.1 806.2 591.4 806.3 591.7 806.5 592.0 806.6 592.3 806.7 592.6 806.9 592.9 807.0 593.2 807.1 593.5 807.2 593.8 807.4 594.1 807.5 594.4 807.6 594.7 807.7 595.0 807.9 595.3 808.0 595.6 808.1 595.9 808.2 596.2 808.4 596.6 808.5 596.9 808.6 597.2 808.7 597.5 808.9 597.8 809.0 598.1 809.1 598.4 809.2 598.7 809.4 599.0 809.5 599.3 809.6 599.6 809.7 599.9 809.8 600.2 810.0 600.5 810.1 600.8 810.2 601.1 810.3 601.4 810.4 601.7 810.6 602.0 810.7 602.3 810.8 602.6 810.9 602.9 811.0 603.2 811.2 603.5 811.3 603.9 811.4 604.2 811.5 604.5 811.6 604.8 811.7 605.1 811.9 605.4 812.0 605.7 812.1 606.0 812.2 606.3 812.3 606.6 812.4 606.9 812.6 607.2 812.7 607.5 812.8 607.8 812.9 608.1 813.0 608.4 813.1 608.7 813.3 609.0 813.4 609.3 813.5 609.6 813.6 609.9 813.7 610.2 813.8 610.5 813.9 610.8 814.0 611.2 814.2 611.5 814.3 611.8 814.4 612.1 814.5 612.4 814.6 612.7 814.7 613.0 814.8 613.3 814.9 613.6 815.0 613.9 815.2 614.2 815.3 614.5 815.4 614.8 815.5 615.1 815.6 615.4 815.7 615.7 815.8 616.0 815.9 616.3 816.0 616.6 816.1 616.9 816.2 617.2 816.4 617.5 816.5 617.8 816.6 618.1 816.7 618.5 816.8 618.8 816.9 619.1 817.0 619.4 817.1 619.7 817.2 620.0 817.3 620.3 817.4 620.6 817.5 620.9 817.6 621.2 817.7 621.5 817.8 621.8 817.9 622.1 818.0 622.4 818.1 622.7 818.3 623.0 818.4 623.3 818.5 623.6 818.6 623.9 818.7 624.2 818.8 624.5 818.9 624.8 819.0 625.1 819.1 625.4 819.2 625.8 819.3 626.1 819.4 626.4 819.5 626.7 819.6 627.0 819.7 627.3 819.8 627.6 819.9 627.9 820.0 628.2 820.1 628.5 820.2 628.8 820.3 629.1 820.4 629.4 820.5 629.7 820.6 630.0 820.7 630.3 820.8 630.6 820.9 630.9 821.0 631.2 821.1 631.5 821.2 631.8 821.3 632.1 821.4 632.4 821.5 632.8 821.6 633.1 821.6 633.4 821.7 633.7 821.8 634.0 821.9 634.3 822.0 634.6 822.1 634.9 822.2 635.2 822.3 635.5 822.4 635.8 822.5 636.1 822.6 636.4 822.7 636.7 822.8 637.0 822.9 637.3 823.0 637.6 823.1 637.9 823.2 638.2 823.3 638.5 823.3 638.8 823.4 639.1 823.5 639.4 823.6 639.7 823.7 640.1 823.8 640.4 823.9 640.7 824.0 641.0 824.1 641.3 824.2 641.6 824.3 641.9 824.4 642.2 824.4 642.5 824.5 642.8 824.6 643.1 824.7 643.4 824.8 643.7 824.9 644.0 825.0 644.3 825.1 644.6 825.2 644.9 825.3 645.2 825.3 645.5 825.4 645.8 825.5 646.1 825.6 646.4 825.7 646.7 825.8 647.0 825.9 647.4 826.0 647.7 826.0 648.0 826.1 648.3 826.2 648.6 826.3 648.9 826.4 649.2 826.5 649.5 826.6 649.8 826.7 650.1 826.7 650.4 826.8 650.7 826.9 651.0 827.0 651.3 827.1 651.6 827.2 651.9 827.2 652.2 827.3 652.5 827.4 652.8 827.5 653.1 827.6 653.4 827.7 653.7 827.8 654.0 827.8 654.3 827.9 654.7 828.0 655.0 828.1 655.3 828.2 655.6 828.2 655.9 828.3 656.2 828.4 656.5 828.5 656.8 828.6 657.1 828.7 657.4 828.7 657.7 828.8 658.0 828.9 658.3 829.0 658.6 829.1 658.9 829.1 659.2 829.2 659.5 829.3 659.8 829.4 660.1 829.5 660.4 829.5 660.7 829.6 661.0 829.7 661.3 829.8 661.6 829.9 662.0 829.9 662.3 830.0 662.6 830.1 662.9 830.2 663.2 830.3 663.5 830.3 663.8 830.4 664.1 830.5 664.4 830.6 664.7 830.6 665.0 830.7 665.3 830.8 665.6 830.9 665.9 831.0 666.2 831.0 666.5 831.1 666.8 831.2 667.1 831.3 667.4 831.3 667.7 831.4 668.0 831.5 668.3 831.6 668.6 831.6 669.0 831.7 669.3 831.8 669.6 831.9 669.9 831.9 670.2 832.0 670.5 832.1 670.8 832.2 671.1 832.2 671.4 832.3 671.7 832.4 672.0 832.5 672.3 832.5 672.6 832.6 672.9 832.7 673.2 832.7 673.5 832.8 673.8 832.9 674.1 833.0 674.4 833.0 674.7 833.1 675.0 833.2 675.3 833.3 675.6 833.3 675.9 833.4 676.3 833.5 676.6 833.5 676.9 833.6 677.2 833.7 677.5 833.8 677.8 833.8 678.1 833.9 678.4 834.0 678.7 834.0 679.0 834.1 679.3 834.2 679.6 834.2 679.9 834.3 680.2 834.4 680.5 834.5 680.8 834.5 681.1 834.6 681.4 834.7 681.7 834.7 682.0 834.8 682.3 834.9 682.6 834.9 682.9 835.0 683.2 835.1 683.6 835.1 683.9 835.2 684.2 835.3 684.5 835.3 684.8 835.4 685.1 835.5 685.4 835.5 685.7 835.6 686.0 835.7 686.3 835.7 686.6 835.8 686.9 835.9 687.2 835.9 687.5 836.0 687.8 836.1 688.1 836.1 688.4 836.2 688.7 836.3 689.0 836.3 689.3 836.4 689.6 836.5 689.9 836.5 690.2 836.6 690.5 836.7 690.9 836.7 691.2 836.8 691.5 836.9 691.8 836.9 692.1 837.0 692.4 837.0 692.7 837.1 693.0 837.2 693.3 837.2 693.6 837.3 693.9 837.4 694.2 837.4 694.5 837.5 694.8 837.6 695.1 837.6 695.4 837.7 695.7 837.7 696.0 837.8 696.3 837.9 696.6 837.9 696.9 838.0 697.2 838.1 697.5 838.1 697.8 838.2 698.2 838.2 698.5 838.3 698.8 838.4 699.1 838.4 699.4 838.5 699.7 838.5 700.0 838.6 700.3 838.7 700.6 838.7 700.9 838.8 701.2 838.8 701.5 838.9 701.8 839.0 702.1 839.0 702.4 839.1 702.7 839.1 703.0 839.2 703.3 839.3 703.6 839.3 703.9 839.4 704.2 839.4 704.5 839.5 704.8 839.6 705.1 839.6 705.5 839.7 705.8 839.7 706.1 839.8 706.4 839.8 706.7 839.9 707.0 840.0 707.3 840.0 707.6 840.1 707.9 840.1 708.2 840.2 708.5 840.3 708.8 840.3 709.1 840.4 709.4 840.4 709.7 840.5 710.0 840.5 710.3 840.6 710.6 840.6 710.9 840.7 711.2 840.8 711.5 840.8 711.8 840.9 712.1 840.9 712.5 841.0 712.8 841.0 713.1 841.1 713.4 841.2 713.7 841.2 714.0 841.3 714.3 841.3 714.6 841.4 714.9 841.4 715.2 841.5 715.5 841.5 715.8 841.6 716.1 841.6 716.4 841.7 716.7 841.8 717.0 841.8 717.3 841.9 717.6 841.9 717.9 842.0 718.2 842.0 718.5 842.1 718.8 842.1 719.1 842.2 719.4 842.2 719.8 842.3 720.1 842.3 720.4 842.4 720.7 842.4 721.0 842.5 721.3 842.5 721.6 842.6 721.9 842.7 722.2 842.7 722.5 842.8 722.8 842.8 723.1 842.9 723.4 842.9 723.7 843.0 724.0 843.0 724.3 843.1 724.6 843.1 724.9 843.2 725.2 843.2 725.5 843.3 725.8 843.3 726.1 843.4 726.4 843.4 726.7 843.5 727.1 843.5 727.4 843.6 727.7 843.6 728.0 843.7 728.3 843.7 728.6 843.8 728.9 843.8 729.2 843.9 729.5 843.9 729.8 844.0 730.1 844.0 730.4 844.1 730.7 844.1 731.0 844.2 731.3 844.2 731.6 844.3 731.9 844.3 732.2 844.4 732.5 844.4 732.8 844.5 733.1 844.5 733.4 844.6 733.7 844.6 734.0 844.6 734.4 844.7 734.7 844.7 735.0 844.8 735.3 844.8 735.6 844.9 735.9 844.9 736.2 845.0 736.5 845.0 736.8 845.1 737.1 845.1 737.4 845.2 737.7 845.2 738.0 845.3 738.3 845.3 738.6 845.4 738.9 845.4 739.2 845.4 739.5 845.5 739.8 845.5 740.1 845.6 740.4 845.6 740.7 845.7 741.0 845.7 741.3 845.8 741.7 845.8 742.0 845.9 742.3 845.9 742.6 845.9 742.9 846.0 743.2 846.0 743.5 846.1 743.8 846.1 744.1 846.2 744.4 846.2 744.7 846.3 745.0 846.3 745.3 846.4 745.6 846.4 745.9 846.4 746.2 846.5 746.5 846.5 746.8 846.6 747.1 846.6 747.4 846.7 747.7 846.7 748.0 846.7 748.3 846.8 748.7 846.8 749.0 846.9 749.3 846.9 749.6 847.0 749.9 847.0 750.2 847.0 750.5 847.1 750.8 847.1 751.1 847.2 751.4 847.2 751.7 847.3 752.0 847.3 752.3 847.3 752.6 847.4 752.9 847.4 753.2 847.5 753.5 847.5 753.8 847.6 754.1 847.6 754.4 847.6 754.7 847.7 755.0 847.7 755.3 847.8 755.6 847.8 756.0 847.8 756.3 847.9 756.6 847.9 756.9 848.0 757.2 848.0 757.5 848.0 757.8 848.1 758.1 848.1 758.4 848.2 758.7 848.2 759.0 848.2 759.3 848.3 759.6 848.3 759.9 848.4 760.2 848.4 760.5 848.4 760.8 848.5 761.1 848.5 761.4 848.6 761.7 848.6 762.0 848.6 762.3 848.7 762.6 848.7 762.9 848.8 763.3 848.8 763.6 848.8 763.9 848.9 764.2 848.9 764.5 849.0 764.8 849.0 765.1 849.0 765.4 849.1 765.7 849.1 766.0 849.2 766.3 849.2 766.6 849.2 766.9 849.3 767.2 849.3 767.5 849.3 767.8 849.4 768.1 849.4 768.4 849.5 768.7 849.5 769.0 849.5 769.3 849.6 769.6 849.6 769.9 849.6 770.2 849.7 770.6 849.7 770.9 849.8 771.2 849.8 771.5 849.8 771.8 849.9 772.1 849.9 772.4 849.9 772.7 850.0 773.0 850.0 773.3 850.1 773.6 850.1 773.9 850.1 774.2 850.2 774.5 850.2 774.8 850.2 775.1 850.3 775.4 850.3 775.7 850.3 776.0 850.4 776.3 850.4 776.6 850.4 776.9 850.5 777.2 850.5 777.5 850.6 777.9 850.6 778.2 850.6 778.5 850.7 778.8 850.7 779.1 850.7 779.4 850.8 779.7 850.8 780.0 850.8 780.3 850.9 780.6 850.9 780.9 850.9 781.2 851.0 781.5 851.0 781.8 851.0 782.1 851.1 782.4 851.1 782.7 851.1 783.0 851.2 783.3 851.2 783.6 851.2 783.9 851.3 784.2 851.3 784.5 851.3 784.9 851.4 785.2 851.4 785.5 851.4 785.8 851.5 786.1 851.5 786.4 851.5 786.7 851.6 787.0 851.6 787.3 851.6 787.6 851.7 787.9 851.7 788.2 851.7 788.5 851.8 788.8 851.8 789.1 851.8 789.4 851.9 789.7 851.9 790.0 851.9 790.3 852.0 790.6 852.0 790.9 852.0 791.2 852.1 791.5 852.1 791.8 852.1 792.2 852.2 792.5 852.2 792.8 852.2 793.1 852.3 793.4 852.3 793.7 852.3 794.0 852.4 794.3 852.4 794.6 852.4 794.9 852.5 795.2 852.5 795.5 852.5 795.8 852.5 796.1 852.6 796.4 852.6 796.7 852.6 797.0 852.7 797.3 852.7 797.6 852.7 797.9 852.8 798.2 852.8 798.5 852.8 798.8 852.9 799.1 852.9 799.5 852.9 799.8 852.9 800.1 853.0 800.4 853.0 800.7 853.0 801.0 853.1 801.3 853.1 801.6 853.1 801.9 853.2 802.2 853.2 802.5 853.2 802.8 853.2 803.1 853.3 803.4 853.3 803.7 853.3 804.0 853.4 804.3 853.4 804.6 853.4 804.9 853.5 805.2 853.5 805.5 853.5 805.8 853.5 806.1 853.6 806.4 853.6 806.8 853.6 807.1 853.7 807.4 853.7 807.7 853.7 808.0 853.7 808.3 853.8 808.6 853.8 808.9 853.8 809.2 853.9 809.5 853.9 809.8 853.9 810.1 853.9 810.4 854.0 810.7 854.0 811.0 854.0 811.3 854.1 811.6 854.1 811.9 854.1 812.2 854.1 812.5 854.2 812.8 854.2 813.1 854.2 813.4 854.2 813.7 854.3 814.1 854.3 814.4 854.3 814.7 854.4 815.0 854.4 815.3 854.4 815.6 854.4 815.9 854.5 816.2 854.5 816.5 854.5 816.8 854.5 817.1 854.6 817.4 854.6 817.7 854.6 818.0 854.7 818.3 854.7 818.6 854.7 818.9 854.7 819.2 854.8 819.5 854.8 819.8 854.8 820.1 854.8 820.4 854.9 820.7 854.9 821.1 854.9 821.4 854.9 821.7 855.0 822.0 855.0 822.3 855.0 822.6 855.1 822.9 855.1 823.2 855.1 823.5 855.1 823.8 855.2 824.1 855.2 824.4 855.2 824.7 855.2 825.0 855.3 825.3 855.3 825.6 855.3 825.9 855.3 826.2 855.4 826.5 855.4 826.8 855.4" fill="none" stroke="#c80000" stroke-width="5.0" stroke-linejoin="round"/>
<g fill="none" stroke="#00933d" stroke-opacity="0.36" stroke-width="3" filter="url(#bl)">
<circle cx="156.1" cy="828.9" r="4.5"/><circle cx="157.6" cy="828.7" r="4.5"/><circle cx="159.1" cy="830.2" r="4.5"/><circle cx="160.6" cy="827.8" r="4.5"/><circle cx="162.2" cy="828.7" r="4.5"/><circle cx="163.7" cy="828.5" r="4.5"/><circle cx="165.2" cy="828.7" r="4.5"/><circle cx="166.7" cy="829.0" r="4.5"/><circle cx="168.2" cy="829.2" r="4.5"/><circle cx="169.8" cy="828.8" r="4.5"/><circle cx="171.3" cy="828.8" r="4.5"/><circle cx="172.8" cy="828.0" r="4.5"/><circle cx="174.3" cy="828.6" r="4.5"/><circle cx="175.8" cy="829.0" r="4.5"/><circle cx="177.4" cy="827.4" r="4.5"/><circle cx="178.9" cy="829.8" r="4.5"/><circle cx="180.4" cy="829.9" r="4.5"/><circle cx="181.9" cy="828.6" r="4.5"/><circle cx="183.4" cy="829.0" r="4.5"/><circle cx="185.0" cy="830.2" r="4.5"/><circle cx="186.5" cy="829.1" r="4.5"/><circle cx="188.0" cy="829.4" r="4.5"/><circle cx="189.5" cy="828.0" r="4.5"/><circle cx="191.1" cy="829.3" r="4.5"/><circle cx="192.6" cy="828.1" r="4.5"/><circle cx="194.1" cy="828.5" r="4.5"/><circle cx="195.6" cy="829.0" r="4.5"/><circle cx="197.1" cy="828.9" r="4.5"/><circle cx="198.7" cy="828.6" r="4.5"/><circle cx="200.2" cy="830.6" r="4.5"/><circle cx="201.7" cy="828.5" r="4.5"/><circle cx="203.2" cy="828.7" r="4.5"/><circle cx="204.7" cy="826.3" r="4.5"/><circle cx="206.3" cy="826.4" r="4.5"/><circle cx="207.8" cy="821.8" r="4.5"/><circle cx="209.3" cy="820.2" r="4.5"/><circle cx="210.8" cy="812.1" r="4.5"/><circle cx="212.3" cy="804.6" r="4.5"/><circle cx="213.9" cy="791.3" r="4.5"/><circle cx="215.4" cy="765.5" r="4.5"/><circle cx="216.9" cy="720.1" r="4.5"/><circle cx="218.4" cy="648.3" r="4.5"/><circle cx="220.0" cy="551.7" r="4.5"/><circle cx="221.5" cy="438.2" r="4.5"/><circle cx="223.0" cy="319.2" r="4.5"/><circle cx="224.5" cy="212.8" r="4.5"/><circle cx="226.0" cy="135.8" r="4.5"/><circle cx="227.6" cy="91.1" r="4.5"/><circle cx="229.1" cy="79.8" r="4.5"/><circle cx="230.6" cy="91.4" r="4.5"/><circle cx="232.1" cy="108.0" r="4.5"/><circle cx="233.6" cy="120.5" r="4.5"/><circle cx="235.2" cy="129.5" r="4.5"/><circle cx="236.7" cy="140.5" r="4.5"/><circle cx="238.2" cy="145.8" r="4.5"/><circle cx="239.7" cy="151.2" r="4.5"/><circle cx="241.2" cy="157.7" r="4.5"/><circle cx="242.8" cy="164.3" r="4.5"/><circle cx="244.3" cy="168.9" r="4.5"/><circle cx="245.8" cy="175.9" r="4.5"/><circle cx="247.3" cy="181.3" r="4.5"/><circle cx="248.9" cy="187.5" r="4.5"/><circle cx="250.4" cy="192.7" r="4.5"/><circle cx="251.9" cy="198.7" r="4.5"/><circle cx="253.4" cy="204.5" r="4.5"/><circle cx="254.9" cy="209.4" r="4.5"/><circle cx="256.5" cy="214.3" r="4.5"/><circle cx="258.0" cy="221.5" r="4.5"/><circle cx="259.5" cy="226.4" r="4.5"/><circle cx="261.0" cy="232.7" r="4.5"/><circle cx="262.5" cy="237.9" r="4.5"/><circle cx="264.1" cy="242.6" r="4.5"/><circle cx="265.6" cy="248.9" r="4.5"/><circle cx="267.1" cy="255.0" r="4.5"/><circle cx="268.6" cy="260.3" r="4.5"/><circle cx="270.1" cy="263.5" r="4.5"/><circle cx="271.7" cy="266.2" r="4.5"/><circle cx="273.2" cy="268.7" r="4.5"/><circle cx="274.7" cy="273.5" r="4.5"/><circle cx="276.2" cy="276.4" r="4.5"/><circle cx="277.7" cy="279.3" r="4.5"/><circle cx="279.3" cy="282.9" r="4.5"/><circle cx="280.8" cy="283.6" r="4.5"/><circle cx="282.3" cy="287.6" r="4.5"/><circle cx="283.8" cy="286.3" r="4.5"/><circle cx="285.4" cy="288.9" r="4.5"/><circle cx="286.9" cy="287.0" r="4.5"/><circle cx="288.4" cy="288.5" r="4.5"/><circle cx="289.9" cy="288.4" r="4.5"/><circle cx="291.4" cy="292.1" r="4.5"/><circle cx="293.0" cy="295.4" r="4.5"/><circle cx="294.5" cy="298.9" r="4.5"/><circle cx="296.0" cy="301.0" r="4.5"/><circle cx="297.5" cy="305.3" r="4.5"/><circle cx="299.0" cy="311.9" r="4.5"/><circle cx="300.6" cy="320.2" r="4.5"/><circle cx="302.1" cy="328.2" r="4.5"/><circle cx="303.6" cy="336.6" r="4.5"/><circle cx="305.1" cy="344.2" r="4.5"/><circle cx="306.6" cy="351.7" r="4.5"/><circle cx="308.2" cy="359.8" r="4.5"/><circle cx="309.7" cy="367.2" r="4.5"/><circle cx="311.2" cy="372.5" r="4.5"/><circle cx="312.7" cy="376.7" r="4.5"/><circle cx="314.3" cy="379.0" r="4.5"/><circle cx="315.8" cy="384.6" r="4.5"/><circle cx="317.3" cy="389.4" r="4.5"/><circle cx="318.8" cy="387.7" r="4.5"/><circle cx="320.3" cy="388.7" r="4.5"/><circle cx="321.9" cy="388.7" r="4.5"/><circle cx="323.4" cy="388.9" r="4.5"/><circle cx="324.9" cy="386.7" r="4.5"/><circle cx="326.4" cy="389.9" r="4.5"/><circle cx="327.9" cy="392.9" r="4.5"/><circle cx="329.5" cy="395.3" r="4.5"/><circle cx="331.0" cy="398.9" r="4.5"/><circle cx="332.5" cy="402.4" r="4.5"/><circle cx="334.0" cy="405.7" r="4.5"/><circle cx="335.5" cy="407.9" r="4.5"/><circle cx="337.1" cy="410.3" r="4.5"/><circle cx="338.6" cy="415.5" r="4.5"/><circle cx="340.1" cy="417.8" r="4.5"/><circle cx="341.6" cy="420.0" r="4.5"/><circle cx="343.2" cy="424.1" r="4.5"/><circle cx="344.7" cy="428.8" r="4.5"/><circle cx="346.2" cy="432.0" r="4.5"/><circle cx="347.7" cy="435.5" r="4.5"/><circle cx="349.2" cy="439.0" r="4.5"/><circle cx="350.8" cy="442.1" r="4.5"/><circle cx="352.3" cy="444.7" r="4.5"/><circle cx="353.8" cy="448.6" r="4.5"/><circle cx="355.3" cy="450.7" r="4.5"/><circle cx="356.8" cy="454.5" r="4.5"/><circle cx="358.4" cy="458.1" r="4.5"/><circle cx="359.9" cy="460.3" r="4.5"/><circle cx="361.4" cy="463.8" r="4.5"/><circle cx="362.9" cy="467.0" r="4.5"/><circle cx="364.4" cy="469.5" r="4.5"/><circle cx="366.0" cy="472.9" r="4.5"/><circle cx="367.5" cy="476.4" r="4.5"/><circle cx="369.0" cy="478.6" r="4.5"/><circle cx="370.5" cy="482.1" r="4.5"/><circle cx="372.1" cy="483.1" r="4.5"/><circle cx="373.6" cy="487.4" r="4.5"/><circle cx="375.1" cy="490.3" r="4.5"/><circle cx="376.6" cy="493.1" r="4.5"/><circle cx="378.1" cy="496.8" r="4.5"/><circle cx="379.7" cy="498.8" r="4.5"/><circle cx="381.2" cy="502.5" r="4.5"/><circle cx="382.7" cy="506.0" r="4.5"/><circle cx="384.2" cy="508.6" r="4.5"/><circle cx="385.7" cy="510.5" r="4.5"/><circle cx="387.3" cy="514.8" r="4.5"/><circle cx="388.8" cy="516.2" r="4.5"/><circle cx="390.3" cy="519.6" r="4.5"/><circle cx="391.8" cy="521.2" r="4.5"/><circle cx="393.3" cy="524.9" r="4.5"/><circle cx="394.9" cy="525.6" r="4.5"/><circle cx="396.4" cy="529.1" r="4.5"/><circle cx="397.9" cy="533.2" r="4.5"/><circle cx="399.4" cy="533.5" r="4.5"/><circle cx="401.0" cy="537.5" r="4.5"/><circle cx="402.5" cy="540.4" r="4.5"/><circle cx="404.0" cy="543.2" r="4.5"/><circle cx="405.5" cy="544.5" r="4.5"/><circle cx="407.0" cy="546.3" r="4.5"/><circle cx="408.6" cy="550.3" r="4.5"/><circle cx="410.1" cy="553.0" r="4.5"/><circle cx="411.6" cy="555.5" r="4.5"/><circle cx="413.1" cy="556.0" r="4.5"/><circle cx="414.6" cy="558.2" r="4.5"/><circle cx="416.2" cy="562.2" r="4.5"/><circle cx="417.7" cy="564.0" r="4.5"/><circle cx="419.2" cy="566.9" r="4.5"/><circle cx="420.7" cy="569.4" r="4.5"/><circle cx="422.2" cy="571.1" r="4.5"/><circle cx="423.8" cy="573.9" r="4.5"/><circle cx="425.3" cy="576.4" r="4.5"/><circle cx="426.8" cy="579.2" r="4.5"/><circle cx="428.3" cy="580.7" r="4.5"/><circle cx="429.8" cy="583.9" r="4.5"/><circle cx="431.4" cy="586.0" r="4.5"/><circle cx="432.9" cy="588.2" r="4.5"/><circle cx="434.4" cy="591.5" r="4.5"/><circle cx="435.9" cy="593.1" r="4.5"/><circle cx="437.5" cy="595.4" r="4.5"/><circle cx="439.0" cy="597.4" r="4.5"/><circle cx="440.5" cy="600.5" r="4.5"/><circle cx="442.0" cy="602.8" r="4.5"/><circle cx="443.5" cy="602.9" r="4.5"/><circle cx="445.1" cy="605.4" r="4.5"/><circle cx="446.6" cy="607.8" r="4.5"/><circle cx="448.1" cy="609.2" r="4.5"/><circle cx="449.6" cy="612.4" r="4.5"/><circle cx="451.1" cy="614.9" r="4.5"/><circle cx="452.7" cy="616.6" r="4.5"/><circle cx="454.2" cy="620.4" r="4.5"/><circle cx="455.7" cy="621.9" r="4.5"/><circle cx="457.2" cy="622.6" r="4.5"/><circle cx="458.7" cy="625.2" r="4.5"/><circle cx="460.3" cy="628.2" r="4.5"/><circle cx="461.8" cy="628.7" r="4.5"/><circle cx="463.3" cy="630.9" r="4.5"/><circle cx="464.8" cy="633.6" r="4.5"/><circle cx="466.4" cy="636.6" r="4.5"/><circle cx="467.9" cy="639.6" r="4.5"/><circle cx="469.4" cy="641.3" r="4.5"/><circle cx="470.9" cy="643.5" r="4.5"/><circle cx="472.4" cy="646.5" r="4.5"/><circle cx="474.0" cy="648.2" r="4.5"/><circle cx="475.5" cy="650.8" r="4.5"/><circle cx="477.0" cy="653.1" r="4.5"/><circle cx="478.5" cy="657.2" r="4.5"/><circle cx="480.0" cy="657.2" r="4.5"/><circle cx="481.6" cy="659.1" r="4.5"/><circle cx="483.1" cy="663.0" r="4.5"/><circle cx="484.6" cy="666.0" r="4.5"/><circle cx="486.1" cy="666.7" r="4.5"/><circle cx="487.6" cy="669.8" r="4.5"/><circle cx="489.2" cy="672.5" r="4.5"/><circle cx="490.7" cy="673.4" r="4.5"/><circle cx="492.2" cy="678.0" r="4.5"/><circle cx="493.7" cy="679.0" r="4.5"/><circle cx="495.3" cy="683.0" r="4.5"/><circle cx="496.8" cy="683.6" r="4.5"/><circle cx="498.3" cy="686.8" r="4.5"/><circle cx="499.8" cy="689.9" r="4.5"/><circle cx="501.3" cy="692.2" r="4.5"/><circle cx="502.9" cy="694.3" r="4.5"/><circle cx="504.4" cy="694.7" r="4.5"/><circle cx="505.9" cy="695.3" r="4.5"/><circle cx="507.4" cy="696.0" r="4.5"/><circle cx="508.9" cy="697.3" r="4.5"/><circle cx="510.5" cy="697.0" r="4.5"/><circle cx="512.0" cy="699.5" r="4.5"/><circle cx="513.5" cy="699.6" r="4.5"/><circle cx="515.0" cy="701.5" r="4.5"/><circle cx="516.5" cy="703.0" r="4.5"/><circle cx="518.1" cy="706.2" r="4.5"/><circle cx="519.6" cy="707.4" r="4.5"/><circle cx="521.1" cy="708.7" r="4.5"/><circle cx="522.6" cy="710.9" r="4.5"/><circle cx="524.2" cy="713.2" r="4.5"/><circle cx="525.7" cy="714.4" r="4.5"/><circle cx="527.2" cy="716.3" r="4.5"/><circle cx="528.7" cy="717.3" r="4.5"/><circle cx="530.2" cy="720.2" r="4.5"/><circle cx="531.8" cy="721.2" r="4.5"/><circle cx="533.3" cy="719.7" r="4.5"/><circle cx="534.8" cy="717.9" r="4.5"/><circle cx="536.3" cy="717.0" r="4.5"/><circle cx="537.8" cy="715.3" r="4.5"/><circle cx="539.4" cy="713.9" r="4.5"/><circle cx="540.9" cy="712.2" r="4.5"/><circle cx="542.4" cy="708.9" r="4.5"/><circle cx="543.9" cy="704.5" r="4.5"/><circle cx="545.4" cy="697.5" r="4.5"/><circle cx="547.0" cy="695.6" r="4.5"/><circle cx="548.5" cy="691.1" r="4.5"/><circle cx="550.0" cy="686.2" r="4.5"/><circle cx="551.5" cy="691.2" r="4.5"/><circle cx="553.1" cy="695.7" r="4.5"/><circle cx="554.6" cy="699.7" r="4.5"/><circle cx="556.1" cy="704.5" r="4.5"/><circle cx="557.6" cy="710.6" r="4.5"/><circle cx="559.1" cy="721.1" r="4.5"/><circle cx="560.7" cy="727.4" r="4.5"/><circle cx="562.2" cy="737.1" r="4.5"/><circle cx="563.7" cy="744.9" r="4.5"/><circle cx="565.2" cy="753.8" r="4.5"/><circle cx="566.7" cy="755.0" r="4.5"/><circle cx="568.3" cy="758.0" r="4.5"/><circle cx="569.8" cy="759.2" r="4.5"/><circle cx="571.3" cy="761.7" r="4.5"/><circle cx="572.8" cy="763.6" r="4.5"/><circle cx="574.3" cy="764.1" r="4.5"/><circle cx="575.9" cy="764.2" r="4.5"/><circle cx="577.4" cy="765.9" r="4.5"/><circle cx="578.9" cy="765.6" r="4.5"/><circle cx="580.4" cy="767.0" r="4.5"/><circle cx="581.9" cy="767.5" r="4.5"/><circle cx="583.5" cy="767.8" r="4.5"/><circle cx="585.0" cy="768.1" r="4.5"/><circle cx="586.5" cy="769.4" r="4.5"/><circle cx="588.0" cy="770.6" r="4.5"/><circle cx="589.6" cy="771.0" r="4.5"/><circle cx="591.1" cy="773.6" r="4.5"/><circle cx="592.6" cy="772.1" r="4.5"/><circle cx="594.1" cy="775.2" r="4.5"/><circle cx="595.6" cy="774.4" r="4.5"/><circle cx="597.2" cy="776.3" r="4.5"/><circle cx="598.7" cy="776.4" r="4.5"/><circle cx="600.2" cy="777.7" r="4.5"/><circle cx="601.7" cy="778.1" r="4.5"/><circle cx="603.2" cy="779.6" r="4.5"/><circle cx="604.8" cy="781.3" r="4.5"/><circle cx="606.3" cy="780.0" r="4.5"/><circle cx="607.8" cy="781.5" r="4.5"/><circle cx="609.3" cy="782.2" r="4.5"/><circle cx="610.8" cy="782.9" r="4.5"/><circle cx="612.4" cy="781.5" r="4.5"/><circle cx="613.9" cy="784.1" r="4.5"/><circle cx="615.4" cy="784.1" r="4.5"/><circle cx="616.9" cy="785.9" r="4.5"/><circle cx="618.5" cy="784.5" r="4.5"/><circle cx="620.0" cy="786.7" r="4.5"/><circle cx="621.5" cy="788.9" r="4.5"/><circle cx="623.0" cy="785.6" r="4.5"/><circle cx="624.5" cy="789.0" r="4.5"/><circle cx="626.1" cy="787.8" r="4.5"/><circle cx="627.6" cy="788.9" r="4.5"/><circle cx="629.1" cy="789.6" r="4.5"/><circle cx="630.6" cy="790.8" r="4.5"/><circle cx="632.1" cy="791.1" r="4.5"/><circle cx="633.7" cy="790.9" r="4.5"/><circle cx="635.2" cy="792.6" r="4.5"/><circle cx="636.7" cy="792.8" r="4.5"/><circle cx="638.2" cy="792.9" r="4.5"/><circle cx="639.7" cy="794.1" r="4.5"/><circle cx="641.3" cy="795.0" r="4.5"/><circle cx="642.8" cy="794.2" r="4.5"/><circle cx="644.3" cy="795.5" r="4.5"/><circle cx="645.8" cy="796.4" r="4.5"/><circle cx="647.4" cy="797.4" r="4.5"/><circle cx="648.9" cy="798.3" r="4.5"/><circle cx="650.4" cy="797.5" r="4.5"/><circle cx="651.9" cy="798.2" r="4.5"/><circle cx="653.4" cy="801.2" r="4.5"/><circle cx="655.0" cy="800.6" r="4.5"/><circle cx="656.5" cy="800.1" r="4.5"/><circle cx="658.0" cy="799.7" r="4.5"/><circle cx="659.5" cy="800.5" r="4.5"/><circle cx="661.0" cy="802.0" r="4.5"/><circle cx="662.6" cy="802.4" r="4.5"/><circle cx="664.1" cy="804.4" r="4.5"/><circle cx="665.6" cy="804.0" r="4.5"/><circle cx="667.1" cy="806.2" r="4.5"/><circle cx="668.6" cy="806.3" r="4.5"/><circle cx="670.2" cy="806.2" r="4.5"/><circle cx="671.7" cy="805.4" r="4.5"/><circle cx="673.2" cy="807.1" r="4.5"/><circle cx="674.7" cy="808.0" r="4.5"/><circle cx="676.3" cy="809.0" r="4.5"/><circle cx="677.8" cy="810.4" r="4.5"/><circle cx="679.3" cy="809.6" r="4.5"/><circle cx="680.8" cy="810.9" r="4.5"/><circle cx="682.3" cy="811.1" r="4.5"/><circle cx="683.9" cy="812.5" r="4.5"/><circle cx="685.4" cy="812.4" r="4.5"/><circle cx="686.9" cy="814.2" r="4.5"/><circle cx="688.4" cy="813.3" r="4.5"/><circle cx="689.9" cy="813.3" r="4.5"/><circle cx="691.5" cy="814.1" r="4.5"/><circle cx="693.0" cy="813.8" r="4.5"/><circle cx="694.5" cy="815.7" r="4.5"/><circle cx="696.0" cy="816.1" r="4.5"/><circle cx="697.5" cy="816.7" r="4.5"/><circle cx="699.1" cy="818.3" r="4.5"/><circle cx="700.6" cy="816.6" r="4.5"/><circle cx="702.1" cy="818.0" r="4.5"/><circle cx="703.6" cy="819.5" r="4.5"/><circle cx="705.2" cy="820.5" r="4.5"/><circle cx="706.7" cy="819.9" r="4.5"/><circle cx="708.2" cy="820.2" r="4.5"/><circle cx="709.7" cy="821.3" r="4.5"/><circle cx="711.2" cy="821.8" r="4.5"/><circle cx="712.8" cy="822.6" r="4.5"/><circle cx="714.3" cy="823.0" r="4.5"/><circle cx="715.8" cy="822.5" r="4.5"/><circle cx="717.3" cy="822.9" r="4.5"/><circle cx="718.8" cy="825.6" r="4.5"/><circle cx="720.4" cy="824.9" r="4.5"/><circle cx="721.9" cy="826.4" r="4.5"/><circle cx="723.4" cy="826.9" r="4.5"/><circle cx="724.9" cy="826.0" r="4.5"/><circle cx="726.4" cy="827.5" r="4.5"/><circle cx="728.0" cy="829.7" r="4.5"/><circle cx="729.5" cy="827.4" r="4.5"/><circle cx="731.0" cy="827.3" r="4.5"/><circle cx="732.5" cy="827.2" r="4.5"/><circle cx="734.0" cy="829.4" r="4.5"/><circle cx="735.6" cy="828.5" r="4.5"/><circle cx="737.1" cy="831.9" r="4.5"/><circle cx="738.6" cy="831.2" r="4.5"/><circle cx="740.1" cy="830.4" r="4.5"/><circle cx="741.7" cy="830.9" r="4.5"/><circle cx="743.2" cy="830.6" r="4.5"/><circle cx="744.7" cy="831.3" r="4.5"/><circle cx="746.2" cy="832.5" r="4.5"/><circle cx="747.7" cy="831.7" r="4.5"/><circle cx="749.3" cy="832.7" r="4.5"/><circle cx="750.8" cy="832.3" r="4.5"/><circle cx="752.3" cy="834.6" r="4.5"/><circle cx="753.8" cy="834.1" r="4.5"/><circle cx="755.3" cy="835.0" r="4.5"/><circle cx="756.9" cy="834.5" r="4.5"/><circle cx="758.4" cy="835.6" r="4.5"/><circle cx="759.9" cy="836.0" r="4.5"/><circle cx="761.4" cy="837.2" r="4.5"/><circle cx="762.9" cy="836.3" r="4.5"/><circle cx="764.5" cy="836.1" r="4.5"/><circle cx="766.0" cy="836.5" r="4.5"/><circle cx="767.5" cy="839.9" r="4.5"/><circle cx="769.0" cy="839.2" r="4.5"/><circle cx="770.6" cy="836.8" r="4.5"/><circle cx="772.1" cy="838.8" r="4.5"/><circle cx="773.6" cy="839.1" r="4.5"/><circle cx="775.1" cy="838.4" r="4.5"/><circle cx="776.6" cy="839.5" r="4.5"/><circle cx="778.2" cy="840.4" r="4.5"/><circle cx="779.7" cy="840.5" r="4.5"/><circle cx="781.2" cy="839.2" r="4.5"/><circle cx="782.7" cy="842.0" r="4.5"/><circle cx="784.2" cy="840.3" r="4.5"/><circle cx="785.8" cy="841.8" r="4.5"/><circle cx="787.3" cy="842.1" r="4.5"/><circle cx="788.8" cy="840.8" r="4.5"/><circle cx="790.3" cy="843.0" r="4.5"/><circle cx="791.8" cy="842.2" r="4.5"/><circle cx="793.4" cy="843.4" r="4.5"/><circle cx="794.9" cy="844.5" r="4.5"/><circle cx="796.4" cy="843.8" r="4.5"/><circle cx="797.9" cy="843.1" r="4.5"/><circle cx="799.5" cy="844.4" r="4.5"/><circle cx="801.0" cy="844.2" r="4.5"/><circle cx="802.5" cy="844.7" r="4.5"/><circle cx="804.0" cy="845.1" r="4.5"/><circle cx="805.5" cy="845.8" r="4.5"/><circle cx="807.1" cy="845.6" r="4.5"/><circle cx="808.6" cy="847.5" r="4.5"/><circle cx="810.1" cy="846.6" r="4.5"/><circle cx="811.6" cy="847.9" r="4.5"/><circle cx="813.1" cy="846.6" r="4.5"/><circle cx="814.7" cy="846.8" r="4.5"/><circle cx="816.2" cy="847.9" r="4.5"/><circle cx="817.7" cy="847.0" r="4.5"/><circle cx="819.2" cy="847.6" r="4.5"/><circle cx="820.7" cy="847.9" r="4.5"/><circle cx="822.3" cy="848.6" r="4.5"/><circle cx="823.8" cy="848.3" r="4.5"/><circle cx="825.3" cy="848.1" r="4.5"/><circle cx="826.8" cy="849.6" r="4.5"/>
</g>
<path d="M156.1 826.6 156.4 826.6 156.7 826.6 157.0 826.6 157.3 826.6 157.6 826.6 157.9 826.6 158.2 826.6 158.5 826.6 158.8 826.6 159.1 826.6 159.4 826.6 159.7 826.6 160.0 826.6 160.3 826.6 160.6 826.6 160.9 826.6 161.2 826.6 161.5 826.6 161.8 826.6 162.2 826.6 162.5 826.6 162.8 826.6 163.1 826.6 163.4 826.6 163.7 826.6 164.0 826.6 164.3 826.6 164.6 826.6 164.9 826.6 165.2 826.6 165.5 826.6 165.8 826.6 166.1 826.6 166.4 826.6 166.7 826.6 167.0 826.6 167.3 826.6 167.6 826.6 167.9 826.6 168.2 826.6 168.5 826.6 168.8 826.6 169.1 826.6 169.5 826.6 169.8 826.6 170.1 826.6 170.4 826.6 170.7 826.6 171.0 826.6 171.3 826.6 171.6 826.6 171.9 826.6 172.2 826.6 172.5 826.6 172.8 826.6 173.1 826.6 173.4 826.6 173.7 826.6 174.0 826.6 174.3 826.6 174.6 826.6 174.9 826.6 175.2 826.6 175.5 826.6 175.8 826.6 176.1 826.6 176.5 826.6 176.8 826.6 177.1 826.6 177.4 826.6 177.7 826.6 178.0 826.6 178.3 826.6 178.6 826.6 178.9 826.6 179.2 826.6 179.5 826.6 179.8 826.6 180.1 826.6 180.4 826.6 180.7 826.6 181.0 826.6 181.3 826.6 181.6 826.6 181.9 826.6 182.2 826.6 182.5 826.6 182.8 826.6 183.1 826.6 183.4 826.6 183.8 826.6 184.1 826.6 184.4 826.6 184.7 826.6 185.0 826.6 185.3 826.6 185.6 826.6 185.9 826.6 186.2 826.6 186.5 826.6 186.8 826.6 187.1 826.6 187.4 826.6 187.7 826.6 188.0 826.6 188.3 826.6 188.6 826.6 188.9 826.6 189.2 826.6 189.5 826.6 189.8 826.6 190.1 826.6 190.4 826.6 190.7 826.6 191.1 826.6 191.4 826.6 191.7 826.6 192.0 826.6 192.3 826.6 192.6 826.6 192.9 826.6 193.2 826.6 193.5 826.6 193.8 826.6 194.1 826.6 194.4 826.6 194.7 826.6 195.0 826.6 195.3 826.6 195.6 826.6 195.9 826.6 196.2 826.6 196.5 826.6 196.8 826.6 197.1 826.6 197.4 826.6 197.7 826.6 198.0 826.6 198.4 826.6 198.7 826.6 199.0 826.6 199.3 826.6 199.6 826.6 199.9 826.6 200.2 826.6 200.5 826.6 200.8 826.6 201.1 826.6 201.4 826.6 201.7 826.5 202.0 826.5 202.3 826.4 202.6 826.4 202.9 826.3 203.2 826.2 203.5 826.1 203.8 826.0 204.1 825.8 204.4 825.6 204.7 825.4 205.0 825.1 205.3 824.8 205.7 824.5 206.0 824.1 206.3 823.6 206.6 823.2 206.9 822.6 207.2 822.0 207.5 821.4 207.8 820.7 208.1 820.0 208.4 819.2 208.7 818.4 209.0 817.5 209.3 816.6 209.6 815.7 209.9 814.7 210.2 813.6 210.5 812.5 210.8 811.3 211.1 810.1 211.4 808.7 211.7 807.2 212.0 805.5 212.3 803.7 212.7 801.7 213.0 799.3 213.3 796.7 213.6 793.7 213.9 790.3 214.2 786.4 214.5 782.0 214.8 777.0 215.1 771.3 215.4 764.9 215.7 757.6 216.0 749.6 216.3 740.6 216.6 730.6 216.9 719.6 217.2 707.6 217.5 694.5 217.8 680.3 218.1 665.0 218.4 648.6 218.7 631.2 219.0 612.7 219.3 593.2 219.6 572.9 220.0 551.6 220.3 529.7 220.6 507.1 220.9 484.0 221.2 460.6 221.5 436.8 221.8 413.0 222.1 389.1 222.4 365.5 222.7 342.1 223.0 319.1 223.3 296.8 223.6 275.1 223.9 254.2 224.2 234.3 224.5 215.4 224.8 197.8 225.1 181.5 225.4 166.7 225.7 153.5 226.0 142.0 226.3 132.3 226.6 124.3 226.9 117.9 227.3 113.0 227.6 109.3 227.9 106.6 228.2 104.8 228.5 103.6 228.8 102.9 229.1 102.6 229.4 102.6 229.7 102.8 230.0 103.2 230.3 103.8 230.6 104.5 230.9 105.2 231.2 106.1 231.5 107.0 231.8 107.9 232.1 108.9 232.4 109.8 232.7 110.9 233.0 111.9 233.3 112.9 233.6 114.0 233.9 115.1 234.2 116.1 234.6 117.2 234.9 118.3 235.2 119.4 235.5 120.5 235.8 121.6 236.1 122.7 236.4 123.8 236.7 124.9 237.0 126.0 237.3 127.1 237.6 128.2 237.9 129.3 238.2 130.4 238.5 131.5 238.8 132.6 239.1 133.7 239.4 134.8 239.7 135.9 240.0 137.0 240.3 138.1 240.6 139.2 240.9 140.3 241.2 141.4 241.5 142.5 241.9 143.6 242.2 144.7 242.5 145.8 242.8 146.9 243.1 148.0 243.4 149.1 243.7 150.2 244.0 151.3 244.3 152.4 244.6 153.5 244.9 154.6 245.2 155.7 245.5 156.8 245.8 157.9 246.1 159.0 246.4 160.1 246.7 161.2 247.0 162.2 247.3 163.3 247.6 164.4 247.9 165.5 248.2 166.6 248.5 167.7 248.8 168.8 249.2 169.9 249.5 170.9 249.8 172.0 250.1 173.1 250.4 174.2 250.7 175.3 251.0 176.4 251.3 177.4 251.6 178.5 251.9 179.6 252.2 180.7 252.5 181.7 252.8 182.8 253.1 183.9 253.4 184.9 253.7 186.0 254.0 187.1 254.3 188.1 254.6 189.2 254.9 190.3 255.2 191.3 255.5 192.4 255.8 193.4 256.2 194.5 256.5 195.6 256.8 196.6 257.1 197.7 257.4 198.7 257.7 199.8 258.0 200.8 258.3 201.9 258.6 202.9 258.9 204.0 259.2 205.0 259.5 206.0 259.8 207.1 260.1 208.1 260.4 209.2 260.7 210.2 261.0 211.2 261.3 212.3 261.6 213.3 261.9 214.3 262.2 215.4 262.5 216.4 262.8 217.4 263.1 218.4 263.5 219.5 263.8 220.5 264.1 221.5 264.4 222.5 264.7 223.5 265.0 224.6 265.3 225.6 265.6 226.6 265.9 227.6 266.2 228.6 266.5 229.6 266.8 230.6 267.1 231.6 267.4 232.6 267.7 233.6 268.0 234.6 268.3 235.6 268.6 236.6 268.9 237.6 269.2 238.6 269.5 239.6 269.8 240.6 270.1 241.6 270.4 242.6 270.8 243.6 271.1 244.6 271.4 245.6 271.7 246.6 272.0 247.5 272.3 248.5 272.6 249.5 272.9 250.5 273.2 251.5 273.5 252.4 273.8 253.4 274.1 254.4 274.4 255.4 274.7 256.3 275.0 257.3 275.3 258.3 275.6 259.2 275.9 260.2 276.2 261.1 276.5 262.1 276.8 263.1 277.1 264.0 277.4 265.0 277.7 265.9 278.1 266.9 278.4 267.8 278.7 268.8 279.0 269.7 279.3 270.7 279.6 271.6 279.9 272.6 280.2 273.5 280.5 274.5 280.8 275.4 281.1 276.4 281.4 277.3 281.7 278.2 282.0 279.2 282.3 280.1 282.6 281.0 282.9 282.0 283.2 282.9 283.5 283.8 283.8 284.7 284.1 285.7 284.4 286.6 284.7 287.5 285.0 288.4 285.4 289.4 285.7 290.3 286.0 291.2 286.3 292.1 286.6 293.0 286.9 293.9 287.2 294.8 287.5 295.8 287.8 296.7 288.1 297.6 288.4 298.5 288.7 299.4 289.0 300.3 289.3 301.2 289.6 302.1 289.9 303.0 290.2 303.9 290.5 304.8 290.8 305.7 291.1 306.6 291.4 307.4 291.7 308.3 292.0 309.2 292.4 310.1 292.7 311.0 293.0 311.9 293.3 312.8 293.6 313.7 293.9 314.5 294.2 315.4 294.5 316.3 294.8 317.2 295.1 318.0 295.4 318.9 295.7 319.8 296.0 320.7 296.3 321.5 296.6 322.4 296.9 323.3 297.2 324.1 297.5 325.0 297.8 325.9 298.1 326.7 298.4 327.6 298.7 328.4 299.0 329.3 299.3 330.2 299.7 331.0 300.0 331.9 300.3 332.7 300.6 333.6 300.9 334.4 301.2 335.3 301.5 336.1 301.8 337.0 302.1 337.8 302.4 338.6 302.7 339.5 303.0 340.3 303.3 341.2 303.6 342.0 303.9 342.8 304.2 343.7 304.5 344.5 304.8 345.3 305.1 346.2 305.4 347.0 305.7 347.8 306.0 348.7 306.3 349.5 306.6 350.3 307.0 351.1 307.3 352.0 307.6 352.8 307.9 353.6 308.2 354.4 308.5 355.2 308.8 356.0 309.1 356.9 309.4 357.7 309.7 358.5 310.0 359.3 310.3 360.1 310.6 360.9 310.9 361.7 311.2 362.5 311.5 363.3 311.8 364.1 312.1 364.9 312.4 365.7 312.7 366.5 313.0 367.3 313.3 368.1 313.6 368.9 313.9 369.7 314.3 370.5 314.6 371.3 314.9 372.1 315.2 372.9 315.5 373.7 315.8 374.5 316.1 375.3 316.4 376.0 316.7 376.8 317.0 377.6 317.3 378.4 317.6 379.2 317.9 380.0 318.2 380.7 318.5 381.5 318.8 382.3 319.1 383.1 319.4 383.8 319.7 384.6 320.0 385.4 320.3 386.1 320.6 386.9 320.9 387.7 321.2 388.4 321.6 389.2 321.9 390.0 322.2 390.7 322.5 391.5 322.8 392.3 323.1 393.0 323.4 393.8 323.7 394.5 324.0 395.3 324.3 396.0 324.6 396.8 324.9 397.5 325.2 398.3 325.5 399.0 325.8 399.8 326.1 400.5 326.4 401.3 326.7 402.0 327.0 402.8 327.3 403.5 327.6 404.2 327.9 405.0 328.2 405.7 328.6 406.5 328.9 407.2 329.2 407.9 329.5 408.7 329.8 409.4 330.1 410.1 330.4 410.9 330.7 411.6 331.0 412.3 331.3 413.0 331.6 413.8 331.9 414.5 332.2 415.2 332.5 415.9 332.8 416.7 333.1 417.4 333.4 418.1 333.7 418.8 334.0 419.5 334.3 420.3 334.6 421.0 334.9 421.7 335.2 422.4 335.5 423.1 335.9 423.8 336.2 424.5 336.5 425.2 336.8 425.9 337.1 426.7 337.4 427.4 337.7 428.1 338.0 428.8 338.3 429.5 338.6 430.2 338.9 430.9 339.2 431.6 339.5 432.3 339.8 433.0 340.1 433.7 340.4 434.4 340.7 435.0 341.0 435.7 341.3 436.4 341.6 437.1 341.9 437.8 342.2 438.5 342.5 439.2 342.8 439.9 343.2 440.6 343.5 441.2 343.8 441.9 344.1 442.6 344.4 443.3 344.7 444.0 345.0 444.6 345.3 445.3 345.6 446.0 345.9 446.7 346.2 447.3 346.5 448.0 346.8 448.7 347.1 449.4 347.4 450.0 347.7 450.7 348.0 451.4 348.3 452.0 348.6 452.7 348.9 453.4 349.2 454.0 349.5 454.7 349.8 455.3 350.1 456.0 350.5 456.7 350.8 457.3 351.1 458.0 351.4 458.6 351.7 459.3 352.0 459.9 352.3 460.6 352.6 461.2 352.9 461.9 353.2 462.6 353.5 463.2 353.8 463.8 354.1 464.5 354.4 465.1 354.7 465.8 355.0 466.4 355.3 467.1 355.6 467.7 355.9 468.4 356.2 469.0 356.5 469.6 356.8 470.3 357.1 470.9 357.4 471.5 357.8 472.2 358.1 472.8 358.4 473.4 358.7 474.1 359.0 474.7 359.3 475.3 359.6 476.0 359.9 476.6 360.2 477.2 360.5 477.9 360.8 478.5 361.1 479.1 361.4 479.7 361.7 480.4 362.0 481.0 362.3 481.6 362.6 482.2 362.9 482.8 363.2 483.4 363.5 484.1 363.8 484.7 364.1 485.3 364.4 485.9 364.8 486.5 365.1 487.1 365.4 487.7 365.7 488.4 366.0 489.0 366.3 489.6 366.6 490.2 366.9 490.8 367.2 491.4 367.5 492.0 367.8 492.6 368.1 493.2 368.4 493.8 368.7 494.4 369.0 495.0 369.3 495.6 369.6 496.2 369.9 496.8 370.2 497.4 370.5 498.0 370.8 498.6 371.1 499.2 371.4 499.8 371.7 500.4 372.1 500.9 372.4 501.5 372.7 502.1 373.0 502.7 373.3 503.3 373.6 503.9 373.9 504.5 374.2 505.1 374.5 505.6 374.8 506.2 375.1 506.8 375.4 507.4 375.7 508.0 376.0 508.5 376.3 509.1 376.6 509.7 376.9 510.3 377.2 510.8 377.5 511.4 377.8 512.0 378.1 512.6 378.4 513.1 378.7 513.7 379.0 514.3 379.4 514.8 379.7 515.4 380.0 516.0 380.3 516.5 380.6 517.1 380.9 517.7 381.2 518.2 381.5 518.8 381.8 519.4 382.1 519.9 382.4 520.5 382.7 521.0 383.0 521.6 383.3 522.2 383.6 522.7 383.9 523.3 384.2 523.8 384.5 524.4 384.8 524.9 385.1 525.5 385.4 526.0 385.7 526.6 386.0 527.1 386.3 527.7 386.7 528.2 387.0 528.8 387.3 529.3 387.6 529.9 387.9 530.4 388.2 531.0 388.5 531.5 388.8 532.0 389.1 532.6 389.4 533.1 389.7 533.7 390.0 534.2 390.3 534.7 390.6 535.3 390.9 535.8 391.2 536.3 391.5 536.9 391.8 537.4 392.1 537.9 392.4 538.5 392.7 539.0 393.0 539.5 393.3 540.1 393.6 540.6 394.0 541.1 394.3 541.6 394.6 542.2 394.9 542.7 395.2 543.2 395.5 543.7 395.8 544.3 396.1 544.8 396.4 545.3 396.7 545.8 397.0 546.4 397.3 546.9 397.6 547.4 397.9 547.9 398.2 548.4 398.5 548.9 398.8 549.5 399.1 550.0 399.4 550.5 399.7 551.0 400.0 551.5 400.3 552.0 400.6 552.5 400.9 553.0 401.3 553.5 401.6 554.1 401.9 554.6 402.2 555.1 402.5 555.6 402.8 556.1 403.1 556.6 403.4 557.1 403.7 557.6 404.0 558.1 404.3 558.6 404.6 559.1 404.9 559.6 405.2 560.1 405.5 560.6 405.8 561.1 406.1 561.6 406.4 562.1 406.7 562.6 407.0 563.1 407.3 563.5 407.6 564.0 407.9 564.5 408.3 565.0 408.6 565.5 408.9 566.0 409.2 566.5 409.5 567.0 409.8 567.5 410.1 567.9 410.4 568.4 410.7 568.9 411.0 569.4 411.3 569.9 411.6 570.4 411.9 570.8 412.2 571.3 412.5 571.8 412.8 572.3 413.1 572.8 413.4 573.2 413.7 573.7 414.0 574.2 414.3 574.7 414.6 575.1 414.9 575.6 415.2 576.1 415.6 576.6 415.9 577.0 416.2 577.5 416.5 578.0 416.8 578.4 417.1 578.9 417.4 579.4 417.7 579.9 418.0 580.3 418.3 580.8 418.6 581.2 418.9 581.7 419.2 582.2 419.5 582.6 419.8 583.1 420.1 583.6 420.4 584.0 420.7 584.5 421.0 584.9 421.3 585.4 421.6 585.9 421.9 586.3 422.2 586.8 422.5 587.2 422.9 587.7 423.2 588.1 423.5 588.6 423.8 589.0 424.1 589.5 424.4 590.0 424.7 590.4 425.0 590.9 425.3 591.3 425.6 591.8 425.9 592.2 426.2 592.6 426.5 593.1 426.8 593.5 427.1 594.0 427.4 594.4 427.7 594.9 428.0 595.3 428.3 595.8 428.6 596.2 428.9 596.6 429.2 597.1 429.5 597.5 429.8 598.0 430.2 598.4 430.5 598.8 430.8 599.3 431.1 599.7 431.4 600.1 431.7 600.6 432.0 601.0 432.3 601.4 432.6 601.9 432.9 602.3 433.2 602.7 433.5 603.2 433.8 603.6 434.1 604.0 434.4 604.5 434.7 604.9 435.0 605.3 435.3 605.7 435.6 606.2 435.9 606.6 436.2 607.0 436.5 607.4 436.8 607.9 437.1 608.3 437.5 608.7 437.8 609.1 438.1 609.6 438.4 610.0 438.7 610.4 439.0 610.8 439.3 611.2 439.6 611.7 439.9 612.1 440.2 612.5 440.5 612.9 440.8 613.3 441.1 613.7 441.4 614.1 441.7 614.6 442.0 615.0 442.3 615.4 442.6 615.8 442.9 616.2 443.2 616.6 443.5 617.0 443.8 617.4 444.1 617.8 444.5 618.3 444.8 618.7 445.1 619.1 445.4 619.5 445.7 619.9 446.0 620.3 446.3 620.7 446.6 621.1 446.9 621.5 447.2 621.9 447.5 622.3 447.8 622.7 448.1 623.1 448.4 623.5 448.7 623.9 449.0 624.3 449.3 624.7 449.6 625.1 449.9 625.5 450.2 625.9 450.5 626.3 450.8 626.7 451.1 627.1 451.4 627.5 451.8 627.8 452.1 628.2 452.4 628.6 452.7 629.0 453.0 629.4 453.3 629.8 453.6 630.2 453.9 630.6 454.2 631.0 454.5 631.3 454.8 631.7 455.1 632.1 455.4 632.5 455.7 632.9 456.0 633.3 456.3 633.7 456.6 634.0 456.9 634.4 457.2 634.8 457.5 635.2 457.8 635.6 458.1 635.9 458.4 636.3 458.7 636.7 459.1 637.1 459.4 637.5 459.7 637.8 460.0 638.2 460.3 638.6 460.6 639.0 460.9 639.3 461.2 639.7 461.5 640.1 461.8 640.5 462.1 640.8 462.4 641.2 462.7 641.6 463.0 641.9 463.3 642.3 463.6 642.7 463.9 643.1 464.2 643.4 464.5 643.8 464.8 644.2 465.1 644.5 465.4 644.9 465.7 645.3 466.0 645.6 466.4 646.0 466.7 646.3 467.0 646.7 467.3 647.1 467.6 647.4 467.9 647.8 468.2 648.2 468.5 648.5 468.8 648.9 469.1 649.2 469.4 649.6 469.7 650.0 470.0 650.3 470.3 650.7 470.6 651.0 470.9 651.4 471.2 651.7 471.5 652.1 471.8 652.4 472.1 652.8 472.4 653.2 472.7 653.5 473.0 653.9 473.3 654.2 473.7 654.6 474.0 654.9 474.3 655.3 474.6 655.6 474.9 656.0 475.2 656.3 475.5 656.7 475.8 657.0 476.1 657.3 476.4 657.7 476.7 658.0 477.0 658.4 477.3 658.7 477.6 659.1 477.9 659.4 478.2 659.8 478.5 660.1 478.8 660.4 479.1 660.8 479.4 661.1 479.7 661.5 480.0 661.8 480.3 662.1 480.7 662.5 481.0 662.8 481.3 663.2 481.6 663.5 481.9 663.8 482.2 664.2 482.5 664.5 482.8 664.8 483.1 665.2 483.4 665.5 483.7 665.8 484.0 666.2 484.3 666.5 484.6 666.8 484.9 667.2 485.2 667.5 485.5 667.8 485.8 668.2 486.1 668.5 486.4 668.8 486.7 669.1 487.0 669.5 487.3 669.8 487.6 670.1 488.0 670.4 488.3 670.8 488.6 671.1 488.9 671.4 489.2 671.7 489.5 672.1 489.8 672.4 490.1 672.7 490.4 673.0 490.7 673.4 491.0 673.7 491.3 674.0 491.6 674.3 491.9 674.6 492.2 675.0 492.5 675.3 492.8 675.6 493.1 675.9 493.4 676.2 493.7 676.5 494.0 676.9 494.3 677.2 494.6 677.5 494.9 677.8 495.3 678.1 495.6 678.4 495.9 678.8 496.2 679.1 496.5 679.4 496.8 679.7 497.1 680.0 497.4 680.3 497.7 680.6 498.0 680.9 498.3 681.2 498.6 681.5 498.9 681.9 499.2 682.2 499.5 682.5 499.8 682.8 500.1 683.1 500.4 683.4 500.7 683.7 501.0 684.0 501.3 684.3 501.6 684.6 501.9 684.9 502.2 685.2 502.6 685.5 502.9 685.8 503.2 686.1 503.5 686.4 503.8 686.7 504.1 687.0 504.4 687.3 504.7 687.6 505.0 687.9 505.3 688.2 505.6 688.5 505.9 688.8 506.2 689.1 506.5 689.4 506.8 689.7 507.1 690.0 507.4 690.3 507.7 690.6 508.0 690.9 508.3 691.2 508.6 691.5 508.9 691.8 509.2 692.1 509.5 692.4 509.9 692.6 510.2 692.9 510.5 693.2 510.8 693.5 511.1 693.8 511.4 694.1 511.7 694.4 512.0 694.7 512.3 695.0 512.6 695.2 512.9 695.5 513.2 695.8 513.5 696.1 513.8 696.4 514.1 696.7 514.4 697.0 514.7 697.2 515.0 697.5 515.3 697.8 515.6 698.1 515.9 698.4 516.2 698.7 516.5 698.9 516.9 699.2 517.2 699.5 517.5 699.8 517.8 700.1 518.1 700.3 518.4 700.6 518.7 700.9 519.0 701.2 519.3 701.5 519.6 701.7 519.9 702.0 520.2 702.3 520.5 702.6 520.8 702.8 521.1 703.1 521.4 703.4 521.7 703.7 522.0 703.9 522.3 704.2 522.6 704.5 522.9 704.8 523.2 705.0 523.5 705.3 523.8 705.6 524.2 705.8 524.5 706.1 524.8 706.4 525.1 706.7 525.4 706.9 525.7 707.2 526.0 707.5 526.3 707.7 526.6 708.0 526.9 708.3 527.2 708.5 527.5 708.8 527.8 709.1 528.1 709.3 528.4 709.6 528.7 709.9 529.0 710.1 529.3 710.4 529.6 710.6 529.9 710.9 530.2 711.2 530.5 711.4 530.8 711.7 531.1 712.0 531.5 712.2 531.8 712.5 532.1 712.7 532.4 713.0 532.7 713.3 533.0 713.5 533.3 713.8 533.6 714.0 533.9 714.3 534.2 714.6 534.5 714.8 534.8 715.1 535.1 715.3 535.4 715.6 535.7 715.8 536.0 716.1 536.3 716.3 536.6 716.6 536.9 716.8 537.2 717.1 537.5 717.4 537.8 717.6 538.1 717.9 538.4 718.1 538.8 718.4 539.1 718.6 539.4 718.9 539.7 719.1 540.0 719.4 540.3 719.6 540.6 719.9 540.9 720.1 541.2 720.4 541.5 720.6 541.8 720.9 542.1 721.1 542.4 721.4 542.7 721.6 543.0 721.8 543.3 722.1 543.6 722.3 543.9 722.6 544.2 722.8 544.5 723.1 544.8 723.3 545.1 723.6 545.4 723.8 545.7 724.0 546.1 724.3 546.4 724.5 546.7 724.8 547.0 725.0 547.3 725.2 547.6 725.5 547.9 725.7 548.2 726.0 548.5 726.2 548.8 726.4 549.1 726.7 549.4 726.9 549.7 727.2 550.0 727.4 550.3 727.6 550.6 727.9 550.9 728.1 551.2 728.3 551.5 728.6 551.8 728.8 552.1 729.0 552.4 729.3 552.7 729.5 553.0 729.7 553.4 730.0 553.7 730.2 554.0 730.4 554.3 730.7 554.6 730.9 554.9 731.1 555.2 731.4 555.5 731.6 555.8 731.8 556.1 732.1 556.4 732.3 556.7 732.5 557.0 732.8 557.3 733.0 557.6 733.2 557.9 733.4 558.2 733.7 558.5 733.9 558.8 734.1 559.1 734.3 559.4 734.6 559.7 734.8 560.0 735.0 560.4 735.2 560.7 735.5 561.0 735.7 561.3 735.9 561.6 736.1 561.9 736.4 562.2 736.6 562.5 736.8 562.8 737.0 563.1 737.3 563.4 737.5 563.7 737.7 564.0 737.9 564.3 738.1 564.6 738.4 564.9 738.6 565.2 738.8 565.5 739.0 565.8 739.2 566.1 739.5 566.4 739.7 566.7 739.9 567.0 740.1 567.3 740.3 567.7 740.5 568.0 740.8 568.3 741.0 568.6 741.2 568.9 741.4 569.2 741.6 569.5 741.8 569.8 742.1 570.1 742.3 570.4 742.5 570.7 742.7 571.0 742.9 571.3 743.1 571.6 743.3 571.9 743.5 572.2 743.8 572.5 744.0 572.8 744.2 573.1 744.4 573.4 744.6 573.7 744.8 574.0 745.0 574.3 745.2 574.6 745.4 575.0 745.7 575.3 745.9 575.6 746.1 575.9 746.3 576.2 746.5 576.5 746.7 576.8 746.9 577.1 747.1 577.4 747.3 577.7 747.5 578.0 747.7 578.3 747.9 578.6 748.1 578.9 748.3 579.2 748.5 579.5 748.7 579.8 749.0 580.1 749.2 580.4 749.4 580.7 749.6 581.0 749.8 581.3 750.0 581.6 750.2 581.9 750.4 582.3 750.6 582.6 750.8 582.9 751.0 583.2 751.2 583.5 751.4 583.8 751.6 584.1 751.8 584.4 752.0 584.7 752.2 585.0 752.4 585.3 752.6 585.6 752.8 585.9 753.0 586.2 753.2 586.5 753.4 586.8 753.5 587.1 753.7 587.4 753.9 587.7 754.1 588.0 754.3 588.3 754.5 588.6 754.7 588.9 754.9 589.2 755.1 589.6 755.3 589.9 755.5 590.2 755.7 590.5 755.9 590.8 756.1 591.1 756.3 591.4 756.5 591.7 756.7 592.0 756.8 592.3 757.0 592.6 757.2 592.9 757.4 593.2 757.6 593.5 757.8 593.8 758.0 594.1 758.2 594.4 758.4 594.7 758.6 595.0 758.7 595.3 758.9 595.6 759.1 595.9 759.3 596.2 759.5 596.6 759.7 596.9 759.9 597.2 760.1 597.5 760.2 597.8 760.4 598.1 760.6 598.4 760.8 598.7 761.0 599.0 761.2 599.3 761.4 599.6 761.5 599.9 761.7 600.2 761.9 600.5 762.1 600.8 762.3 601.1 762.5 601.4 762.6 601.7 762.8 602.0 763.0 602.3 763.2 602.6 763.4 602.9 763.5 603.2 763.7 603.5 763.9 603.9 764.1 604.2 764.3 604.5 764.4 604.8 764.6 605.1 764.8 605.4 765.0 605.7 765.2 606.0 765.3 606.3 765.5 606.6 765.7 606.9 765.9 607.2 766.0 607.5 766.2 607.8 766.4 608.1 766.6 608.4 766.8 608.7 766.9 609.0 767.1 609.3 767.3 609.6 767.5 609.9 767.6 610.2 767.8 610.5 768.0 610.8 768.1 611.2 768.3 611.5 768.5 611.8 768.7 612.1 768.8 612.4 769.0 612.7 769.2 613.0 769.4 613.3 769.5 613.6 769.7 613.9 769.9 614.2 770.0 614.5 770.2 614.8 770.4 615.1 770.6 615.4 770.7 615.7 770.9 616.0 771.1 616.3 771.2 616.6 771.4 616.9 771.6 617.2 771.7 617.5 771.9 617.8 772.1 618.1 772.2 618.5 772.4 618.8 772.6 619.1 772.7 619.4 772.9 619.7 773.1 620.0 773.2 620.3 773.4 620.6 773.6 620.9 773.7 621.2 773.9 621.5 774.1 621.8 774.2 622.1 774.4 622.4 774.6 622.7 774.7 623.0 774.9 623.3 775.0 623.6 775.2 623.9 775.4 624.2 775.5 624.5 775.7 624.8 775.9 625.1 776.0 625.4 776.2 625.8 776.3 626.1 776.5 626.4 776.7 626.7 776.8 627.0 777.0 627.3 777.1 627.6 777.3 627.9 777.5 628.2 777.6 628.5 777.8 628.8 777.9 629.1 778.1 629.4 778.3 629.7 778.4 630.0 778.6 630.3 778.7 630.6 778.9 630.9 779.0 631.2 779.2 631.5 779.4 631.8 779.5 632.1 779.7 632.4 779.8 632.8 780.0 633.1 780.1 633.4 780.3 633.7 780.4 634.0 780.6 634.3 780.8 634.6 780.9 634.9 781.1 635.2 781.2 635.5 781.4 635.8 781.5 636.1 781.7 636.4 781.8 636.7 782.0 637.0 782.1 637.3 782.3 637.6 782.4 637.9 782.6 638.2 782.7 638.5 782.9 638.8 783.0 639.1 783.2 639.4 783.3 639.7 783.5 640.1 783.6 640.4 783.8 640.7 783.9 641.0 784.1 641.3 784.2 641.6 784.4 641.9 784.5 642.2 784.7 642.5 784.8 642.8 785.0 643.1 785.1 643.4 785.3 643.7 785.4 644.0 785.6 644.3 785.7 644.6 785.9 644.9 786.0 645.2 786.1 645.5 786.3 645.8 786.4 646.1 786.6 646.4 786.7 646.7 786.9 647.0 787.0 647.4 787.2 647.7 787.3 648.0 787.4 648.3 787.6 648.6 787.7 648.9 787.9 649.2 788.0 649.5 788.2 649.8 788.3 650.1 788.4 650.4 788.6 650.7 788.7 651.0 788.9 651.3 789.0 651.6 789.2 651.9 789.3 652.2 789.4 652.5 789.6 652.8 789.7 653.1 789.9 653.4 790.0 653.7 790.1 654.0 790.3 654.3 790.4 654.7 790.6 655.0 790.7 655.3 790.8 655.6 791.0 655.9 791.1 656.2 791.2 656.5 791.4 656.8 791.5 657.1 791.7 657.4 791.8 657.7 791.9 658.0 792.1 658.3 792.2 658.6 792.3 658.9 792.5 659.2 792.6 659.5 792.7 659.8 792.9 660.1 793.0 660.4 793.2 660.7 793.3 661.0 793.4 661.3 793.6 661.6 793.7 662.0 793.8 662.3 794.0 662.6 794.1 662.9 794.2 663.2 794.4 663.5 794.5 663.8 794.6 664.1 794.8 664.4 794.9 664.7 795.0 665.0 795.1 665.3 795.3 665.6 795.4 665.9 795.5 666.2 795.7 666.5 795.8 666.8 795.9 667.1 796.1 667.4 796.2 667.7 796.3 668.0 796.5 668.3 796.6 668.6 796.7 669.0 796.8 669.3 797.0 669.6 797.1 669.9 797.2 670.2 797.4 670.5 797.5 670.8 797.6 671.1 797.7 671.4 797.9 671.7 798.0 672.0 798.1 672.3 798.2 672.6 798.4 672.9 798.5 673.2 798.6 673.5 798.8 673.8 798.9 674.1 799.0 674.4 799.1 674.7 799.3 675.0 799.4 675.3 799.5 675.6 799.6 675.9 799.8 676.3 799.9 676.6 800.0 676.9 800.1 677.2 800.3 677.5 800.4 677.8 800.5 678.1 800.6 678.4 800.7 678.7 800.9 679.0 801.0 679.3 801.1 679.6 801.2 679.9 801.4 680.2 801.5 680.5 801.6 680.8 801.7 681.1 801.8 681.4 802.0 681.7 802.1 682.0 802.2 682.3 802.3 682.6 802.4 682.9 802.6 683.2 802.7 683.6 802.8 683.9 802.9 684.2 803.0 684.5 803.2 684.8 803.3 685.1 803.4 685.4 803.5 685.7 803.6 686.0 803.8 686.3 803.9 686.6 804.0 686.9 804.1 687.2 804.2 687.5 804.3 687.8 804.5 688.1 804.6 688.4 804.7 688.7 804.8 689.0 804.9 689.3 805.0 689.6 805.2 689.9 805.3 690.2 805.4 690.5 805.5 690.9 805.6 691.2 805.7 691.5 805.9 691.8 806.0 692.1 806.1 692.4 806.2 692.7 806.3 693.0 806.4 693.3 806.5 693.6 806.7 693.9 806.8 694.2 806.9 694.5 807.0 694.8 807.1 695.1 807.2 695.4 807.3 695.7 807.4 696.0 807.6 696.3 807.7 696.6 807.8 696.9 807.9 697.2 808.0 697.5 808.1 697.8 808.2 698.2 808.3 698.5 808.5 698.8 808.6 699.1 808.7 699.4 808.8 699.7 808.9 700.0 809.0 700.3 809.1 700.6 809.2 700.9 809.3 701.2 809.4 701.5 809.6 701.8 809.7 702.1 809.8 702.4 809.9 702.7 810.0 703.0 810.1 703.3 810.2 703.6 810.3 703.9 810.4 704.2 810.5 704.5 810.6 704.8 810.7 705.1 810.9 705.5 811.0 705.8 811.1 706.1 811.2 706.4 811.3 706.7 811.4 707.0 811.5 707.3 811.6 707.6 811.7 707.9 811.8 708.2 811.9 708.5 812.0 708.8 812.1 709.1 812.2 709.4 812.3 709.7 812.4 710.0 812.5 710.3 812.7 710.6 812.8 710.9 812.9 711.2 813.0 711.5 813.1 711.8 813.2 712.1 813.3 712.5 813.4 712.8 813.5 713.1 813.6 713.4 813.7 713.7 813.8 714.0 813.9 714.3 814.0 714.6 814.1 714.9 814.2 715.2 814.3 715.5 814.4 715.8 814.5 716.1 814.6 716.4 814.7 716.7 814.8 717.0 814.9 717.3 815.0 717.6 815.1 717.9 815.2 718.2 815.3 718.5 815.4 718.8 815.5 719.1 815.6 719.4 815.7 719.8 815.8 720.1 815.9 720.4 816.0 720.7 816.1 721.0 816.2 721.3 816.3 721.6 816.4 721.9 816.5 722.2 816.6 722.5 816.7 722.8 816.8 723.1 816.9 723.4 817.0 723.7 817.1 724.0 817.2 724.3 817.3 724.6 817.4 724.9 817.5 725.2 817.6 725.5 817.7 725.8 817.8 726.1 817.9 726.4 818.0 726.7 818.1 727.1 818.2 727.4 818.2 727.7 818.3 728.0 818.4 728.3 818.5 728.6 818.6 728.9 818.7 729.2 818.8 729.5 818.9 729.8 819.0 730.1 819.1 730.4 819.2 730.7 819.3 731.0 819.4 731.3 819.5 731.6 819.6 731.9 819.7 732.2 819.8 732.5 819.9 732.8 819.9 733.1 820.0 733.4 820.1 733.7 820.2 734.0 820.3 734.4 820.4 734.7 820.5 735.0 820.6 735.3 820.7 735.6 820.8 735.9 820.9 736.2 821.0 736.5 821.0 736.8 821.1 737.1 821.2 737.4 821.3 737.7 821.4 738.0 821.5 738.3 821.6 738.6 821.7 738.9 821.8 739.2 821.9 739.5 822.0 739.8 822.0 740.1 822.1 740.4 822.2 740.7 822.3 741.0 822.4 741.3 822.5 741.7 822.6 742.0 822.7 742.3 822.8 742.6 822.8 742.9 822.9 743.2 823.0 743.5 823.1 743.8 823.2 744.1 823.3 744.4 823.4 744.7 823.5 745.0 823.6 745.3 823.6 745.6 823.7 745.9 823.8 746.2 823.9 746.5 824.0 746.8 824.1 747.1 824.2 747.4 824.2 747.7 824.3 748.0 824.4 748.3 824.5 748.7 824.6 749.0 824.7 749.3 824.8 749.6 824.8 749.9 824.9 750.2 825.0 750.5 825.1 750.8 825.2 751.1 825.3 751.4 825.4 751.7 825.4 752.0 825.5 752.3 825.6 752.6 825.7 752.9 825.8 753.2 825.9 753.5 825.9 753.8 826.0 754.1 826.1 754.4 826.2 754.7 826.3 755.0 826.4 755.3 826.4 755.6 826.5 756.0 826.6 756.3 826.7 756.6 826.8 756.9 826.9 757.2 826.9 757.5 827.0 757.8 827.1 758.1 827.2 758.4 827.3 758.7 827.3 759.0 827.4 759.3 827.5 759.6 827.6 759.9 827.7 760.2 827.8 760.5 827.8 760.8 827.9 761.1 828.0 761.4 828.1 761.7 828.2 762.0 828.2 762.3 828.3 762.6 828.4 762.9 828.5 763.3 828.6 763.6 828.6 763.9 828.7 764.2 828.8 764.5 828.9 764.8 829.0 765.1 829.0 765.4 829.1 765.7 829.2 766.0 829.3 766.3 829.3 766.6 829.4 766.9 829.5 767.2 829.6 767.5 829.7 767.8 829.7 768.1 829.8 768.4 829.9 768.7 830.0 769.0 830.0 769.3 830.1 769.6 830.2 769.9 830.3 770.2 830.4 770.6 830.4 770.9 830.5 771.2 830.6 771.5 830.7 771.8 830.7 772.1 830.8 772.4 830.9 772.7 831.0 773.0 831.0 773.3 831.1 773.6 831.2 773.9 831.3 774.2 831.3 774.5 831.4 774.8 831.5 775.1 831.6 775.4 831.6 775.7 831.7 776.0 831.8 776.3 831.9 776.6 831.9 776.9 832.0 777.2 832.1 777.5 832.2 777.9 832.2 778.2 832.3 778.5 832.4 778.8 832.5 779.1 832.5 779.4 832.6 779.7 832.7 780.0 832.8 780.3 832.8 780.6 832.9 780.9 833.0 781.2 833.0 781.5 833.1 781.8 833.2 782.1 833.3 782.4 833.3 782.7 833.4 783.0 833.5 783.3 833.5 783.6 833.6 783.9 833.7 784.2 833.8 784.5 833.8 784.9 833.9 785.2 834.0 785.5 834.0 785.8 834.1 786.1 834.2 786.4 834.3 786.7 834.3 787.0 834.4 787.3 834.5 787.6 834.5 787.9 834.6 788.2 834.7 788.5 834.8 788.8 834.8 789.1 834.9 789.4 835.0 789.7 835.0 790.0 835.1 790.3 835.2 790.6 835.2 790.9 835.3 791.2 835.4 791.5 835.4 791.8 835.5 792.2 835.6 792.5 835.7 792.8 835.7 793.1 835.8 793.4 835.9 793.7 835.9 794.0 836.0 794.3 836.1 794.6 836.1 794.9 836.2 795.2 836.3 795.5 836.3 795.8 836.4 796.1 836.5 796.4 836.5 796.7 836.6 797.0 836.7 797.3 836.7 797.6 836.8 797.9 836.9 798.2 836.9 798.5 837.0 798.8 837.1 799.1 837.1 799.5 837.2 799.8 837.3 800.1 837.3 800.4 837.4 800.7 837.5 801.0 837.5 801.3 837.6 801.6 837.7 801.9 837.7 802.2 837.8 802.5 837.9 802.8 837.9 803.1 838.0 803.4 838.1 803.7 838.1 804.0 838.2 804.3 838.2 804.6 838.3 804.9 838.4 805.2 838.4 805.5 838.5 805.8 838.6 806.1 838.6 806.4 838.7 806.8 838.8 807.1 838.8 807.4 838.9 807.7 838.9 808.0 839.0 808.3 839.1 808.6 839.1 808.9 839.2 809.2 839.3 809.5 839.3 809.8 839.4 810.1 839.5 810.4 839.5 810.7 839.6 811.0 839.6 811.3 839.7 811.6 839.8 811.9 839.8 812.2 839.9 812.5 840.0 812.8 840.0 813.1 840.1 813.4 840.1 813.7 840.2 814.1 840.3 814.4 840.3 814.7 840.4 815.0 840.4 815.3 840.5 815.6 840.6 815.9 840.6 816.2 840.7 816.5 840.7 816.8 840.8 817.1 840.9 817.4 840.9 817.7 841.0 818.0 841.0 818.3 841.1 818.6 841.2 818.9 841.2 819.2 841.3 819.5 841.3 819.8 841.4 820.1 841.5 820.4 841.5 820.7 841.6 821.1 841.6 821.4 841.7 821.7 841.8 822.0 841.8 822.3 841.9 822.6 841.9 822.9 842.0 823.2 842.1 823.5 842.1 823.8 842.2 824.1 842.2 824.4 842.3 824.7 842.3 825.0 842.4 825.3 842.5 825.6 842.5 825.9 842.6 826.2 842.6 826.5 842.7 826.8 842.8" fill="none" stroke="#00933d" stroke-width="5.0" stroke-linejoin="round"/>
<rect x="156.4" y="41.7" width="670.45" height="844.4" class="fr"/>
<text transform="translate(19.16,42.16) scale(0.4413,0.5624)" font-size="100.0">(</text>
<text transform="translate(33.37,44.98) scale(0.4536,0.5312)" font-size="100.0">a</text>
<text transform="translate(62.45,42.16) scale(0.4262,0.5624)" font-size="100.0">)</text>
<text transform="translate(109.01,95.9) scale(0.4708,0.5058)" font-size="100.0">1</text>
<text transform="translate(72.02,245.03) scale(0.4566,0.4845)" font-size="100.0">0.8</text>
<text transform="translate(72,393.62) scale(0.4598,0.4901)" font-size="100.0">0.6</text>
<text transform="translate(71.91,544.03) scale(0.4577,0.4830)" font-size="100.0">0.4</text>
<text transform="translate(71.89,694.73) scale(0.4636,0.4830)" font-size="100.0">0.2</text>
<text transform="translate(109,842.05) scale(0.4874,0.4604)" font-size="100.0">0</text>
<text transform="translate(209.69,950.72) scale(0.5146,0.4887)" font-size="100.0">0</text>
<text transform="translate(364.89,950.72) scale(0.4514,0.4959)" font-size="100.0">5</text>
<text transform="translate(502.39,950.72) scale(0.4614,0.4887)" font-size="100.0">10</text>
<text transform="translate(656.03,950.72) scale(0.4557,0.4959)" font-size="100.0">15</text>
<text transform="translate(805.28,950.72) scale(0.5005,0.4887)" font-size="100.0">20</text>
<text transform="translate(407.18,1010.6) scale(1.0807,1)" font-size="44">time</text>
<text transform="translate(507.68,1008.11) scale(0.3734,0.4487)" font-size="100.0">(</text>
<text transform="translate(520.84,1010.6) scale(0.9771,1)" font-size="44">ns</text>
<text transform="translate(566.49,1008.11) scale(0.3621,0.4487)" font-size="100.0">)</text>
<text transform="translate(35.6,679.82) rotate(-90) scale(0.4548,0.4624)" font-size="100.0">normalized amplitude</text>
<text transform="translate(417.94,105.8) scale(1.1502,1)" font-size="46.5">ﬁt,</text>
<text transform="translate(482.97,105.8) scale(1.1141,1)" font-size="46.5">τ</text>
<text transform="translate(503.28,115.93) scale(0.3847,0.3758)" font-size="100.0">d</text>
<text transform="translate(537.69,101.17) scale(0.4117,0.3196)" font-size="100.0">=</text>
<text transform="translate(573.39,105.72) scale(0.4637,0.4873)" font-size="100.0">0.87</text>
<text transform="translate(673.8,105.8) scale(0.9381,1)" font-size="46.5">ns</text>
<text transform="translate(573.52,163.3) scale(0.4543,0.4898)" font-size="100.0">2.74</text>
<text transform="translate(673.8,162.9) scale(0.9381,1)" font-size="46.5">ns</text>
<text transform="translate(573.95,219.72) scale(0.4555,0.4873)" font-size="100.0">4.63</text>
<text transform="translate(673.8,219.8) scale(0.9381,1)" font-size="46.5">ns</text>
<text transform="translate(573.49,276.22) scale(0.4549,0.4873)" font-size="100.0">6.31</text>
<text transform="translate(673.8,276.3) scale(0.9381,1)" font-size="46.5">ns</text>
<line x1="745.6" y1="89.8" x2="779.0" y2="89.8" stroke="#0455a7" stroke-width="5.0"/>
<line x1="745.6" y1="146.5" x2="779.0" y2="146.5" stroke="#ff8000" stroke-width="5.0"/>
<line x1="745.6" y1="203.5" x2="779.0" y2="203.5" stroke="#c80000" stroke-width="5.0"/>
<line x1="745.6" y1="258.7" x2="779.0" y2="258.7" stroke="#00933d" stroke-width="5.0"/>
<line x1="1109.7" y1="252.45" x2="1478.4" y2="252.45" class="gh" stroke-dashoffset="0.8"/>
<line x1="1109.7" y1="184.4" x2="1478.4" y2="184.4" class="gh" stroke-dashoffset="0.8"/>
<line x1="1109.7" y1="116.35" x2="1478.4" y2="116.35" class="gh" stroke-dashoffset="0.8"/>
<line x1="1109.7" y1="48.3" x2="1478.4" y2="48.3" class="gh" stroke-dashoffset="0.8"/>
<line x1="1109.7" y1="320.5" x2="1478.4" y2="320.5" class="gh" stroke-dashoffset="0.8"/>
<line x1="1109.7" y1="320.5" x2="1109.7" y2="20.7" class="gv" stroke-dashoffset="0.8"/>
<line x1="1214.77" y1="320.5" x2="1214.77" y2="20.7" class="gv" stroke-dashoffset="0.8"/>
<line x1="1319.84" y1="320.5" x2="1319.84" y2="20.7" class="gv" stroke-dashoffset="0.8"/>
<line x1="1424.91" y1="320.5" x2="1424.91" y2="20.7" class="gv" stroke-dashoffset="0.8"/>
<rect x="1109.7" y="20.7" width="368.7" height="299.8" class="fr"/>
<path d="M1214.77 320.5v-20.3M1214.77 20.7v20.3" class="tk"/>
<path d="M1319.84 320.5v-20.3M1319.84 20.7v20.3" class="tk"/>
<path d="M1424.91 320.5v-20.3M1424.91 20.7v20.3" class="tk"/>
<path d="M1109.7 252.45h20.3M1478.4 252.45h-20.3" class="tk"/>
<path d="M1109.7 184.4h20.3M1478.4 184.4h-20.3" class="tk"/>
<path d="M1109.7 116.35h20.3M1478.4 116.35h-20.3" class="tk"/>
<path d="M1109.7 48.3h20.3M1478.4 48.3h-20.3" class="tk"/>
<path d="M1155.2 279.3V291.6M1144.8 279.3h20.8M1144.8 291.6h20.8M1152.3 285.5H1158.9M1152.3 276.5v18M1158.9 276.5v18M1150.4 280.7h9.6v9.6h-9.6z" fill="none" stroke="#0455a7" stroke-width="2.3"/>
<path d="M1254.4 191.5V229.3M1245.2 191.5h18.5M1245.2 229.3h18.5M1250.8 210.3H1257.6M1250.8 201.3v18M1257.6 201.3v18M1249.6 205.5h9.6v9.6h-9.6z" fill="none" stroke="#ff8000" stroke-width="2.3"/>
<path d="M1354.0 118.9V176.1M1344.6 118.9h18.8M1344.6 176.1h18.8M1349.3 146.3H1357.9M1349.3 137.3v18M1357.9 137.3v18M1349.2 141.5h9.6v9.6h-9.6z" fill="none" stroke="#c80000" stroke-width="2.3"/>
<path d="M1441.9 53.2V127.6M1432.6 53.2h18.6M1432.6 127.6h18.6M1437.0 91.4H1447.2M1437.0 82.4v18M1447.2 82.4v18M1437.1 86.6h9.6v9.6h-9.6z" fill="none" stroke="#00933d" stroke-width="2.3"/>
<text transform="translate(923.76,42.16) scale(0.4262,0.5624)" font-size="100.0">(</text>
<text transform="translate(939.87,44.95) scale(0.5782,0.5583)" font-size="100.0">b</text>
<text transform="translate(972.25,42.16) scale(0.4337,0.5624)" font-size="100.0">)</text>
<text transform="translate(1063.9,63.15) scale(0.4198,0.4317)" font-size="100.0">1</text>
<text transform="translate(1004.65,131.34) scale(0.4230,0.4195)" font-size="100.0">0.75</text>
<text transform="translate(1028.97,199.44) scale(0.4171,0.4195)" font-size="100.0">0.5</text>
<text transform="translate(1004.44,267.44) scale(0.4241,0.4195)" font-size="100.0">0.25</text>
<text transform="translate(1062.27,335.74) scale(0.4435,0.4195)" font-size="100.0">0</text>
<text transform="translate(1102.7,383.2) scale(0.4602,0.4110)" font-size="100.0">0</text>
<text transform="translate(1184.59,383.2) scale(0.4339,0.4110)" font-size="100.0">100</text>
<text transform="translate(1289.31,383.2) scale(0.4357,0.4110)" font-size="100.0">200</text>
<text transform="translate(1394.64,383.2) scale(0.4355,0.4110)" font-size="100.0">300</text>
<text transform="translate(1224.28,445.9) scale(0.4287,0.5000)" font-size="100.0">L</text>
<text transform="translate(1248.29,456.2) scale(0.3571,0.3795)" font-size="100.0">k</text>
<text transform="translate(1279.69,442.84) scale(0.3244,0.4519)" font-size="100.0">(</text>
<text transform="translate(1291.13,445.9) scale(0.4768,0.5000)" font-size="100.0">nH</text>
<text transform="translate(1353.2,442.84) scale(0.3470,0.4519)" font-size="100.0">)</text>
<text transform="translate(974.4,215.98) rotate(-90) scale(0.4726,0.5000)" font-size="100.0">N</text>
<text transform="translate(958.2,181.37) rotate(-90) scale(0.9462,1)" font-size="37">sup</text>
<line x1="1087" y1="810.5" x2="1478.1" y2="810.5" class="gh" stroke-dashoffset="0.8"/>
<line x1="1087" y1="736.3" x2="1478.1" y2="736.3" class="gh" stroke-dashoffset="0.8"/>
<line x1="1087" y1="662.1" x2="1478.1" y2="662.1" class="gh" stroke-dashoffset="0.8"/>
<line x1="1087" y1="587.9" x2="1478.1" y2="587.9" class="gh" stroke-dashoffset="0.8"/>
<line x1="1087" y1="825.2" x2="1087" y2="527.8" class="gv" stroke-dashoffset="0.8"/>
<line x1="1159.4" y1="825.2" x2="1159.4" y2="527.8" class="gv" stroke-dashoffset="0.8"/>
<line x1="1231.8" y1="825.2" x2="1231.8" y2="527.8" class="gv" stroke-dashoffset="0.8"/>
<line x1="1304.2" y1="825.2" x2="1304.2" y2="527.8" class="gv" stroke-dashoffset="0.8"/>
<line x1="1376.6" y1="825.2" x2="1376.6" y2="527.8" class="gv" stroke-dashoffset="0.8"/>
<line x1="1449" y1="825.2" x2="1449" y2="527.8" class="gv" stroke-dashoffset="0.8"/>
<rect x="1087" y="527.8" width="391.1" height="297.4" class="fr"/>
<path d="M1159.4 825.2v-20.3M1159.4 527.8v20.3" class="tk"/>
<path d="M1231.8 825.2v-20.3M1231.8 527.8v20.3" class="tk"/>
<path d="M1304.2 825.2v-20.3M1304.2 527.8v20.3" class="tk"/>
<path d="M1376.6 825.2v-20.3M1376.6 527.8v20.3" class="tk"/>
<path d="M1449 825.2v-20.3M1449 527.8v20.3" class="tk"/>
<path d="M1087 810.5h20.3M1478.1 810.5h-20.3" class="tk"/>
<path d="M1087 736.3h20.3M1478.1 736.3h-20.3" class="tk"/>
<path d="M1087 662.1h20.3M1478.1 662.1h-20.3" class="tk"/>
<path d="M1087 587.9h20.3M1478.1 587.9h-20.3" class="tk"/>
<path d="M1133.7 579.0V807.5M1125.0 579.0h17.5M1125.0 807.5h17.5M1126.6 693.1H1142.4M1126.6 684.1v18M1142.4 684.1v18M1128.9 688.3h9.6v9.6h-9.6z" fill="none" stroke="#0455a7" stroke-width="2.3"/>
<path d="M1233.6 595.3V806.5M1224.6 595.3h18M1224.6 806.5h18M1209.4 701.6H1259.9M1209.4 692.6v18M1259.9 692.6v18M1228.8 696.8h9.6v9.6h-9.6z" fill="none" stroke="#ff8000" stroke-width="2.3"/>
<path d="M1317.6 598.1V799.4M1308.6 598.1h18M1308.6 799.4h18M1279.9 698.2H1355.9M1279.9 689.2v18M1355.9 689.2v18M1312.8 693.4h9.6v9.6h-9.6z" fill="none" stroke="#c80000" stroke-width="2.3"/>
<path d="M1392.0 541.3V749.8M1383.0 541.3h18M1383.0 749.8h18M1342.3 644.9H1442.2M1342.3 635.9v18M1442.2 635.9v18M1387.2 640.1h9.6v9.6h-9.6z" fill="none" stroke="#00933d" stroke-width="2.3"/>
<text transform="translate(923.76,528.66) scale(0.4262,0.5624)" font-size="100.0">(</text>
<text transform="translate(937.8,531.18) scale(0.5404,0.5312)" font-size="100.0">c</text>
<text transform="translate(965.25,528.66) scale(0.4262,0.5624)" font-size="100.0">)</text>
<text transform="translate(1012.37,603.2) scale(0.3841,0.4302)" font-size="100.0">1.1</text>
<text transform="translate(1043.43,677.4) scale(0.4036,0.4302)" font-size="100.0">1</text>
<text transform="translate(1011.68,751.39) scale(0.3889,0.4181)" font-size="100.0">0.9</text>
<text transform="translate(1011.69,825.39) scale(0.3877,0.4181)" font-size="100.0">0.8</text>
<text transform="translate(1080.41,888.79) scale(0.4330,0.4209)" font-size="100.0">0</text>
<text transform="translate(1137.67,888.79) scale(0.3905,0.4209)" font-size="100.0">0.2</text>
<text transform="translate(1208.89,888.79) scale(0.3858,0.4209)" font-size="100.0">0.4</text>
<text transform="translate(1281.77,888.79) scale(0.3917,0.4209)" font-size="100.0">0.6</text>
<text transform="translate(1354.66,888.79) scale(0.3931,0.4209)" font-size="100.0">0.8</text>
<text transform="translate(1443.4,889.2) scale(0.3943,0.4331)" font-size="100.0">1</text>
<text transform="translate(1267.12,962.6) scale(0.4851,0.4898)" font-size="100.0">N</text>
<text transform="translate(1302.13,945.5) scale(0.9984,1)" font-size="35">sup</text>
<text transform="translate(980.6,712.81) rotate(-90) scale(0.8804,1)" font-size="49.3">IQE</text>
</svg></body></html>
